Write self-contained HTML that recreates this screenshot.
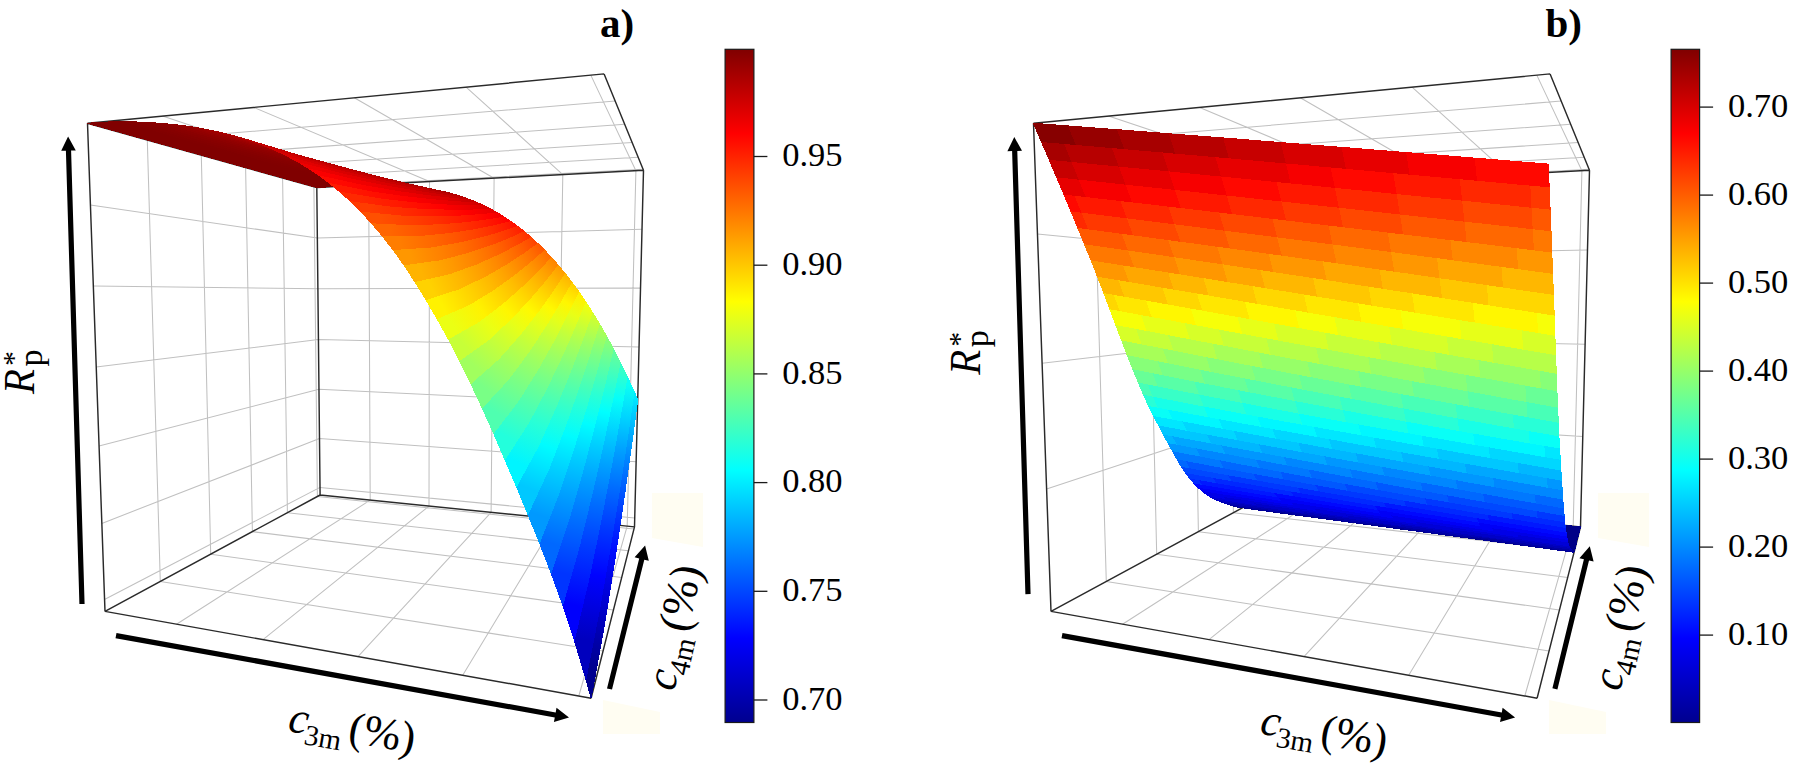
<!DOCTYPE html>
<html><head><meta charset="utf-8"><title>Figure</title>
<style>
html,body{margin:0;padding:0;background:#fff;}
svg{display:block;}
.k0{fill:#000087;stroke:#000087}.k1{fill:#000097;stroke:#000097}.k2{fill:#0000a7;stroke:#0000a7}.k3{fill:#0000b7;stroke:#0000b7}.k4{fill:#0000c7;stroke:#0000c7}.k5{fill:#0000d7;stroke:#0000d7}.k6{fill:#0000e7;stroke:#0000e7}.k7{fill:#0000f7;stroke:#0000f7}.k8{fill:#0008ff;stroke:#0008ff}.k9{fill:#0028ff;stroke:#0028ff}.k10{fill:#0018ff;stroke:#0018ff}.k11{fill:#0038ff;stroke:#0038ff}.k12{fill:#0048ff;stroke:#0048ff}.k13{fill:#0068ff;stroke:#0068ff}.k14{fill:#0058ff;stroke:#0058ff}.k15{fill:#0078ff;stroke:#0078ff}.k16{fill:#0097ff;stroke:#0097ff}.k17{fill:#00b7ff;stroke:#00b7ff}.k18{fill:#0087ff;stroke:#0087ff}.k19{fill:#00a7ff;stroke:#00a7ff}.k20{fill:#00c7ff;stroke:#00c7ff}.k21{fill:#00e7ff;stroke:#00e7ff}.k22{fill:#08fff7;stroke:#08fff7}.k23{fill:#00d7ff;stroke:#00d7ff}.k24{fill:#00f7ff;stroke:#00f7ff}.k25{fill:#28ffd7;stroke:#28ffd7}.k26{fill:#18ffe7;stroke:#18ffe7}.k27{fill:#48ffb7;stroke:#48ffb7}.k28{fill:#38ffc7;stroke:#38ffc7}.k29{fill:#68ff97;stroke:#68ff97}.k30{fill:#58ffa7;stroke:#58ffa7}.k31{fill:#87ff78;stroke:#87ff78}.k32{fill:#a7ff58;stroke:#a7ff58}.k33{fill:#78ff87;stroke:#78ff87}.k34{fill:#d7ff28;stroke:#d7ff28}.k35{fill:#97ff68;stroke:#97ff68}.k36{fill:#c7ff38;stroke:#c7ff38}.k37{fill:#f7ff08;stroke:#f7ff08}.k38{fill:#ffd700;stroke:#ffd700}.k39{fill:#b7ff48;stroke:#b7ff48}.k40{fill:#e7ff18;stroke:#e7ff18}.k41{fill:#ffe700;stroke:#ffe700}.k42{fill:#ffb700;stroke:#ffb700}.k43{fill:#fff700;stroke:#fff700}.k44{fill:#ffc700;stroke:#ffc700}.k45{fill:#ff9700;stroke:#ff9700}.k46{fill:#ff7800;stroke:#ff7800}.k47{fill:#ffa700;stroke:#ffa700}.k48{fill:#ff5800;stroke:#ff5800}.k49{fill:#ff8700;stroke:#ff8700}.k50{fill:#ff2800;stroke:#ff2800}.k51{fill:#ff3800;stroke:#ff3800}.k52{fill:#ff6800;stroke:#ff6800}.k53{fill:#ff0800;stroke:#ff0800}.k54{fill:#ff1800;stroke:#ff1800}.k55{fill:#e70000;stroke:#e70000}.k56{fill:#ff4800;stroke:#ff4800}.k57{fill:#f70000;stroke:#f70000}.k58{fill:#c70000;stroke:#c70000}.k59{fill:#d70000;stroke:#d70000}.k60{fill:#a70000;stroke:#a70000}.k61{fill:#b70000;stroke:#b70000}.k62{fill:#870000;stroke:#870000}.k63{fill:#970000;stroke:#970000}
.s{font-family:"Liberation Serif","Times New Roman",serif;fill:#000;}
</style></head><body>
<svg width="1801" height="769" viewBox="0 0 1801 769">
<rect width="1801" height="769" fill="#fff"/>
<path d="M652.0,493 h51 v54 l-51,-9 Z" fill="#fffdf2"/>
<path d="M603.0,700 l57,12 v22 h-57 Z" fill="#fffdf2"/>
<path d="M1598.0,493 h51 v54 l-51,-9 Z" fill="#fffdf2"/>
<path d="M1549.0,700 l57,12 v22 h-57 Z" fill="#fffdf2"/>
<g stroke-linecap="butt">
<path d="M176.5,624.2 L370.2,500.1 M160.3,581.5 L603.0,651.0 M263.0,639.6 L429.0,506.1 M210.7,554.2 L613.4,610.0 M358.0,656.6 L491.1,512.3 M252.4,531.7 L621.7,577.4 M462.7,675.3 L557.1,519.0 M287.4,512.7 L628.4,550.8 M578.8,696.0 L627.2,526.1 M317.4,496.5 L634.0,528.9 M162.5,116.1 L368.7,184.8 M147.3,140.1 L615.2,101.0 M253.7,107.4 L429.5,181.6 M201.3,155.2 L624.7,124.3 M354.3,97.8 L494.1,178.2 M245.6,167.6 L632.1,142.5 M466.1,87.1 L562.8,174.6 M282.6,177.9 L638.1,157.2 M590.8,75.1 L635.9,170.7 M313.9,186.7 L643.1,169.2 M160.3,581.5 L147.3,140.1 M210.7,554.2 L201.3,155.2 M252.4,531.7 L245.6,167.6 M287.4,512.7 L282.6,177.9 M317.4,496.5 L313.9,186.7 M90.4,205.1 L317.4,238.1 M93.3,286.1 L317.9,288.7 M96.2,367.0 L318.4,339.5 M99.0,445.9 L319.0,389.3 M101.8,523.4 L319.5,438.6 M104.5,599.5 L320.0,487.4 M370.2,500.1 L368.7,184.8 M429.0,506.1 L429.5,181.6 M491.1,512.3 L494.1,178.2 M557.1,519.0 L562.8,174.6 M627.2,526.1 L635.9,170.7 M317.4,238.1 L642.0,229.3 M317.9,288.7 L640.5,288.1 M318.4,339.5 L639.0,347.0 M319.0,389.3 L637.6,404.8 M319.5,438.6 L636.1,461.8 M320.0,487.4 L634.7,518.0" fill="none" stroke="#c0c0c0" stroke-width="1.05"/>
<path d="M105.0,611.4 L591.1,698.2 M591.1,698.2 L634.5,526.9 M634.5,526.9 L320.1,495.0 M320.1,495.0 L105.0,611.4 M87.5,123.3 L604.1,73.9 M604.1,73.9 L643.5,170.3 M643.5,170.3 L316.8,187.5 M316.8,187.5 L87.5,123.3 M105.0,611.4 L87.5,123.3 M320.1,495.0 L316.8,187.5 M634.5,526.9 L643.5,170.3" fill="none" stroke="#2a2a2a" stroke-width="1.45"/>
<path d="M1122.5,624.2 L1316.2,500.1 M1106.3,581.5 L1549.0,651.0 M1209.0,639.6 L1375.0,506.1 M1156.7,554.2 L1559.4,610.0 M1304.0,656.6 L1437.1,512.3 M1198.4,531.7 L1567.7,577.4 M1408.7,675.3 L1503.1,519.0 M1233.4,512.7 L1574.4,550.8 M1524.8,696.0 L1573.2,526.1 M1263.4,496.5 L1580.0,528.9 M1108.5,116.1 L1314.7,184.8 M1093.3,140.1 L1561.2,101.0 M1199.7,107.4 L1375.5,181.6 M1147.3,155.2 L1570.7,124.3 M1300.3,97.8 L1440.1,178.2 M1191.6,167.6 L1578.1,142.5 M1412.1,87.1 L1508.8,174.6 M1228.6,177.9 L1584.1,157.2 M1536.8,75.1 L1581.9,170.7 M1259.9,186.7 L1589.1,169.2 M1106.3,581.5 L1093.3,140.1 M1156.7,554.2 L1147.3,155.2 M1198.4,531.7 L1191.6,167.6 M1233.4,512.7 L1228.6,177.9 M1263.4,496.5 L1259.9,186.7 M1037.4,233.9 L1263.5,256.1 M1042.1,363.3 L1264.4,337.2 M1046.6,489.1 L1265.3,416.8 M1316.2,500.1 L1314.7,184.8 M1375.0,506.1 L1375.5,181.6 M1437.1,512.3 L1440.1,178.2 M1503.1,519.0 L1508.8,174.6 M1573.2,526.1 L1581.9,170.7 M1263.5,256.1 L1587.5,250.1 M1264.4,337.2 L1585.1,344.3 M1265.3,416.8 L1582.8,436.5" fill="none" stroke="#c0c0c0" stroke-width="1.05"/>
<path d="M1051.0,611.4 L1537.1,698.2 M1537.1,698.2 L1580.5,526.9 M1580.5,526.9 L1266.1,495.0 M1266.1,495.0 L1051.0,611.4 M1033.5,123.3 L1550.1,73.9 M1550.1,73.9 L1589.5,170.3 M1589.5,170.3 L1262.8,187.5 M1262.8,187.5 L1033.5,123.3 M1051.0,611.4 L1033.5,123.3 M1266.1,495.0 L1262.8,187.5 M1580.5,526.9 L1589.5,170.3" fill="none" stroke="#2a2a2a" stroke-width="1.45"/>
</g>
<g shape-rendering="crispEdges" stroke-width="1">
<defs>
<linearGradient id="s5" gradientUnits="userSpaceOnUse" x1="129.3" y1="121.8" x2="345.9" y2="186.0"><stop offset="0" stop-color="#820000"/><stop offset="0.094" stop-color="#820000"/><stop offset="0.351" stop-color="#810000"/><stop offset="0.52" stop-color="#800000"/><stop offset="0.665" stop-color="#800000"/><stop offset="0.791" stop-color="#800000"/><stop offset="0.902" stop-color="#800000"/><stop offset="1" stop-color="#800000"/></linearGradient>
<linearGradient id="s6" gradientUnits="userSpaceOnUse" x1="137.7" y1="122.0" x2="351.7" y2="185.8"><stop offset="0" stop-color="#840000"/><stop offset="0.0941" stop-color="#840000"/><stop offset="0.352" stop-color="#830000"/><stop offset="0.52" stop-color="#820000"/><stop offset="0.665" stop-color="#810000"/><stop offset="0.792" stop-color="#800000"/><stop offset="0.902" stop-color="#800000"/><stop offset="1" stop-color="#800000"/></linearGradient>
<linearGradient id="s7" gradientUnits="userSpaceOnUse" x1="146.3" y1="122.4" x2="357.5" y2="185.6"><stop offset="0" stop-color="#860000"/><stop offset="0.0943" stop-color="#860000"/><stop offset="0.352" stop-color="#850000"/><stop offset="0.521" stop-color="#830000"/><stop offset="0.666" stop-color="#820000"/><stop offset="0.792" stop-color="#810000"/><stop offset="0.902" stop-color="#800000"/><stop offset="1" stop-color="#800000"/></linearGradient>
<linearGradient id="s8" gradientUnits="userSpaceOnUse" x1="154.9" y1="122.9" x2="363.4" y2="185.4"><stop offset="0" stop-color="#890000"/><stop offset="0.0945" stop-color="#890000"/><stop offset="0.353" stop-color="#870000"/><stop offset="0.521" stop-color="#850000"/><stop offset="0.666" stop-color="#840000"/><stop offset="0.792" stop-color="#820000"/><stop offset="0.903" stop-color="#800000"/><stop offset="1" stop-color="#800000"/></linearGradient>
<linearGradient id="s9" gradientUnits="userSpaceOnUse" x1="163.6" y1="123.6" x2="369.3" y2="185.3"><stop offset="0" stop-color="#8b0000"/><stop offset="0.0947" stop-color="#8b0000"/><stop offset="0.353" stop-color="#890000"/><stop offset="0.522" stop-color="#870000"/><stop offset="0.667" stop-color="#850000"/><stop offset="0.793" stop-color="#830000"/><stop offset="0.903" stop-color="#820000"/><stop offset="1" stop-color="#800000"/></linearGradient>
<linearGradient id="s10" gradientUnits="userSpaceOnUse" x1="172.3" y1="124.4" x2="375.2" y2="185.2"><stop offset="0" stop-color="#8f0000"/><stop offset="0.0949" stop-color="#8f0000"/><stop offset="0.354" stop-color="#8c0000"/><stop offset="0.523" stop-color="#8a0000"/><stop offset="0.667" stop-color="#870000"/><stop offset="0.793" stop-color="#850000"/><stop offset="0.903" stop-color="#830000"/><stop offset="1" stop-color="#800000"/></linearGradient>
<linearGradient id="s11" gradientUnits="userSpaceOnUse" x1="181.2" y1="125.4" x2="381.2" y2="185.2"><stop offset="0" stop-color="#920000"/><stop offset="0.0952" stop-color="#920000"/><stop offset="0.354" stop-color="#8f0000"/><stop offset="0.523" stop-color="#8c0000"/><stop offset="0.668" stop-color="#890000"/><stop offset="0.793" stop-color="#870000"/><stop offset="0.903" stop-color="#840000"/><stop offset="1" stop-color="#820000"/></linearGradient>
<linearGradient id="s12" gradientUnits="userSpaceOnUse" x1="190.1" y1="126.7" x2="387.2" y2="185.3"><stop offset="0" stop-color="#960000"/><stop offset="0.0954" stop-color="#960000"/><stop offset="0.355" stop-color="#920000"/><stop offset="0.524" stop-color="#8f0000"/><stop offset="0.668" stop-color="#8c0000"/><stop offset="0.794" stop-color="#890000"/><stop offset="0.903" stop-color="#860000"/><stop offset="1" stop-color="#830000"/></linearGradient>
<linearGradient id="s13" gradientUnits="userSpaceOnUse" x1="199.2" y1="128.1" x2="393.2" y2="185.4"><stop offset="0" stop-color="#9a0000"/><stop offset="0.0956" stop-color="#9a0000"/><stop offset="0.355" stop-color="#960000"/><stop offset="0.524" stop-color="#920000"/><stop offset="0.669" stop-color="#8f0000"/><stop offset="0.794" stop-color="#8b0000"/><stop offset="0.904" stop-color="#880000"/><stop offset="1" stop-color="#850000"/></linearGradient>
<linearGradient id="s14" gradientUnits="userSpaceOnUse" x1="208.3" y1="129.7" x2="399.3" y2="185.7"><stop offset="0" stop-color="#9f0000"/><stop offset="0.0958" stop-color="#9f0000"/><stop offset="0.356" stop-color="#9a0000"/><stop offset="0.525" stop-color="#960000"/><stop offset="0.669" stop-color="#920000"/><stop offset="0.795" stop-color="#8e0000"/><stop offset="0.904" stop-color="#8a0000"/><stop offset="1" stop-color="#860000"/></linearGradient>
<linearGradient id="s15" gradientUnits="userSpaceOnUse" x1="217.5" y1="131.7" x2="405.4" y2="186.0"><stop offset="0" stop-color="#a40000"/><stop offset="0.0961" stop-color="#a40000"/><stop offset="0.357" stop-color="#9e0000"/><stop offset="0.526" stop-color="#9a0000"/><stop offset="0.67" stop-color="#960000"/><stop offset="0.795" stop-color="#910000"/><stop offset="0.904" stop-color="#8d0000"/><stop offset="1" stop-color="#890000"/></linearGradient>
<linearGradient id="s16" gradientUnits="userSpaceOnUse" x1="226.8" y1="133.9" x2="411.5" y2="186.5"><stop offset="0" stop-color="#a90000"/><stop offset="0.0963" stop-color="#a90000"/><stop offset="0.357" stop-color="#a30000"/><stop offset="0.526" stop-color="#9e0000"/><stop offset="0.671" stop-color="#9a0000"/><stop offset="0.795" stop-color="#950000"/><stop offset="0.904" stop-color="#900000"/><stop offset="1" stop-color="#8b0000"/></linearGradient>
<linearGradient id="s17" gradientUnits="userSpaceOnUse" x1="236.2" y1="136.4" x2="417.7" y2="187.2"><stop offset="0" stop-color="#af0000"/><stop offset="0.0965" stop-color="#af0000"/><stop offset="0.358" stop-color="#a80000"/><stop offset="0.527" stop-color="#a30000"/><stop offset="0.671" stop-color="#9e0000"/><stop offset="0.796" stop-color="#990000"/><stop offset="0.904" stop-color="#940000"/><stop offset="1" stop-color="#8e0000"/></linearGradient>
<linearGradient id="s18" gradientUnits="userSpaceOnUse" x1="245.7" y1="139.2" x2="423.9" y2="187.9"><stop offset="0" stop-color="#b60000"/><stop offset="0.0968" stop-color="#b60000"/><stop offset="0.358" stop-color="#ae0000"/><stop offset="0.527" stop-color="#a90000"/><stop offset="0.672" stop-color="#a30000"/><stop offset="0.796" stop-color="#9d0000"/><stop offset="0.905" stop-color="#980000"/><stop offset="1" stop-color="#920000"/></linearGradient>
<linearGradient id="s19" gradientUnits="userSpaceOnUse" x1="255.2" y1="142.4" x2="430.1" y2="188.9"><stop offset="0" stop-color="#bd0000"/><stop offset="0.097" stop-color="#bd0000"/><stop offset="0.359" stop-color="#b50000"/><stop offset="0.528" stop-color="#af0000"/><stop offset="0.672" stop-color="#a90000"/><stop offset="0.796" stop-color="#a20000"/><stop offset="0.905" stop-color="#9c0000"/><stop offset="1" stop-color="#960000"/></linearGradient>
<linearGradient id="s20" gradientUnits="userSpaceOnUse" x1="264.9" y1="146.1" x2="436.4" y2="190.0"><stop offset="0" stop-color="#c50000"/><stop offset="0.0972" stop-color="#c50000"/><stop offset="0.359" stop-color="#bc0000"/><stop offset="0.529" stop-color="#b60000"/><stop offset="0.673" stop-color="#af0000"/><stop offset="0.797" stop-color="#a80000"/><stop offset="0.905" stop-color="#a10000"/><stop offset="1" stop-color="#9b0000"/></linearGradient>
<linearGradient id="s21" gradientUnits="userSpaceOnUse" x1="274.7" y1="150.2" x2="442.7" y2="191.3"><stop offset="0" stop-color="#ce0000"/><stop offset="0.0974" stop-color="#ce0000"/><stop offset="0.36" stop-color="#c40000"/><stop offset="0.529" stop-color="#bd0000"/><stop offset="0.673" stop-color="#b60000"/><stop offset="0.797" stop-color="#ae0000"/><stop offset="0.905" stop-color="#a70000"/><stop offset="1" stop-color="#a00000"/></linearGradient>
<linearGradient id="s22" gradientUnits="userSpaceOnUse" x1="284.5" y1="154.9" x2="449.1" y2="192.9"><stop offset="0" stop-color="#d70000"/><stop offset="0.0976" stop-color="#d70000"/><stop offset="0.36" stop-color="#cd0000"/><stop offset="0.53" stop-color="#c50000"/><stop offset="0.674" stop-color="#bd0000"/><stop offset="0.798" stop-color="#b50000"/><stop offset="0.905" stop-color="#ad0000"/><stop offset="1" stop-color="#a60000"/></linearGradient>
<linearGradient id="s23" gradientUnits="userSpaceOnUse" x1="294.5" y1="160.1" x2="455.5" y2="194.7"><stop offset="0" stop-color="#e20000"/><stop offset="0.0978" stop-color="#e20000"/><stop offset="0.361" stop-color="#d70000"/><stop offset="0.53" stop-color="#ce0000"/><stop offset="0.674" stop-color="#c60000"/><stop offset="0.798" stop-color="#bd0000"/><stop offset="0.906" stop-color="#b50000"/><stop offset="1" stop-color="#ac0000"/></linearGradient>
<linearGradient id="s24" gradientUnits="userSpaceOnUse" x1="304.5" y1="165.9" x2="461.9" y2="196.7"><stop offset="0" stop-color="#ed0000"/><stop offset="0.098" stop-color="#ed0000"/><stop offset="0.361" stop-color="#e20000"/><stop offset="0.531" stop-color="#d80000"/><stop offset="0.674" stop-color="#cf0000"/><stop offset="0.798" stop-color="#c60000"/><stop offset="0.906" stop-color="#bd0000"/><stop offset="1" stop-color="#b30000"/></linearGradient>
<linearGradient id="s25" gradientUnits="userSpaceOnUse" x1="314.6" y1="172.5" x2="468.4" y2="199.0"><stop offset="0" stop-color="#fa0000"/><stop offset="0.0981" stop-color="#fa0000"/><stop offset="0.362" stop-color="#ee0000"/><stop offset="0.531" stop-color="#e30000"/><stop offset="0.675" stop-color="#d90000"/><stop offset="0.798" stop-color="#cf0000"/><stop offset="0.906" stop-color="#c50000"/><stop offset="1" stop-color="#bb0000"/></linearGradient>
<linearGradient id="s26" gradientUnits="userSpaceOnUse" x1="324.9" y1="179.8" x2="474.8" y2="201.5"><stop offset="0" stop-color="#ff0900"/><stop offset="0.0982" stop-color="#ff0900"/><stop offset="0.362" stop-color="#fa0000"/><stop offset="0.531" stop-color="#f00000"/><stop offset="0.675" stop-color="#e50000"/><stop offset="0.799" stop-color="#da0000"/><stop offset="0.906" stop-color="#cf0000"/><stop offset="1" stop-color="#c40000"/></linearGradient>
<linearGradient id="s27" gradientUnits="userSpaceOnUse" x1="335.2" y1="187.9" x2="481.4" y2="204.4"><stop offset="0" stop-color="#ff1900"/><stop offset="0.0981" stop-color="#ff1900"/><stop offset="0.362" stop-color="#ff0a00"/><stop offset="0.531" stop-color="#fd0000"/><stop offset="0.675" stop-color="#f10000"/><stop offset="0.799" stop-color="#e50000"/><stop offset="0.906" stop-color="#da0000"/><stop offset="1" stop-color="#ce0000"/></linearGradient>
<linearGradient id="s28" gradientUnits="userSpaceOnUse" x1="345.6" y1="196.9" x2="487.9" y2="207.6"><stop offset="0" stop-color="#ff2900"/><stop offset="0.098" stop-color="#ff2900"/><stop offset="0.361" stop-color="#ff1900"/><stop offset="0.531" stop-color="#ff0c00"/><stop offset="0.675" stop-color="#ff0000"/><stop offset="0.798" stop-color="#f20000"/><stop offset="0.906" stop-color="#e50000"/><stop offset="1" stop-color="#d80000"/></linearGradient>
<linearGradient id="s29" gradientUnits="userSpaceOnUse" x1="356.1" y1="206.8" x2="494.5" y2="211.1"><stop offset="0" stop-color="#ff3c00"/><stop offset="0.0976" stop-color="#ff3c00"/><stop offset="0.361" stop-color="#ff2a00"/><stop offset="0.53" stop-color="#ff1c00"/><stop offset="0.674" stop-color="#ff0f00"/><stop offset="0.798" stop-color="#ff0100"/><stop offset="0.906" stop-color="#f20000"/><stop offset="1" stop-color="#e40000"/></linearGradient>
<linearGradient id="s30" gradientUnits="userSpaceOnUse" x1="366.7" y1="217.8" x2="501.1" y2="215.0"><stop offset="0" stop-color="#ff5000"/><stop offset="0.0971" stop-color="#ff5000"/><stop offset="0.36" stop-color="#ff3d00"/><stop offset="0.529" stop-color="#ff2e00"/><stop offset="0.673" stop-color="#ff1f00"/><stop offset="0.797" stop-color="#ff1000"/><stop offset="0.905" stop-color="#ff0100"/><stop offset="1" stop-color="#f10000"/></linearGradient>
<linearGradient id="s31" gradientUnits="userSpaceOnUse" x1="377.4" y1="230.0" x2="507.8" y2="219.3"><stop offset="0" stop-color="#ff6600"/><stop offset="0.0962" stop-color="#ff6600"/><stop offset="0.358" stop-color="#ff5100"/><stop offset="0.527" stop-color="#ff4100"/><stop offset="0.671" stop-color="#ff3000"/><stop offset="0.796" stop-color="#ff2000"/><stop offset="0.904" stop-color="#ff1000"/><stop offset="1" stop-color="#ff0000"/></linearGradient>
<linearGradient id="s32" gradientUnits="userSpaceOnUse" x1="388.1" y1="243.3" x2="514.4" y2="223.9"><stop offset="0" stop-color="#ff7d00"/><stop offset="0.0949" stop-color="#ff7d00"/><stop offset="0.355" stop-color="#ff6700"/><stop offset="0.524" stop-color="#ff5500"/><stop offset="0.669" stop-color="#ff4400"/><stop offset="0.794" stop-color="#ff3200"/><stop offset="0.903" stop-color="#ff2000"/><stop offset="1" stop-color="#ff0f00"/></linearGradient>
<linearGradient id="s33" gradientUnits="userSpaceOnUse" x1="399.0" y1="258.0" x2="521.1" y2="229.0"><stop offset="0" stop-color="#ff9700"/><stop offset="0.0932" stop-color="#ff9700"/><stop offset="0.351" stop-color="#ff7f00"/><stop offset="0.52" stop-color="#ff6c00"/><stop offset="0.665" stop-color="#ff5800"/><stop offset="0.791" stop-color="#ff4500"/><stop offset="0.902" stop-color="#ff3200"/><stop offset="1" stop-color="#ff1f00"/></linearGradient>
<linearGradient id="s34" gradientUnits="userSpaceOnUse" x1="409.9" y1="274.0" x2="527.9" y2="234.5"><stop offset="0" stop-color="#ffb300"/><stop offset="0.091" stop-color="#ffb300"/><stop offset="0.346" stop-color="#ff9900"/><stop offset="0.515" stop-color="#ff8400"/><stop offset="0.661" stop-color="#ff6f00"/><stop offset="0.788" stop-color="#ff5a00"/><stop offset="0.9" stop-color="#ff4500"/><stop offset="1" stop-color="#ff3000"/></linearGradient>
<linearGradient id="s35" gradientUnits="userSpaceOnUse" x1="420.9" y1="291.3" x2="534.6" y2="240.5"><stop offset="0" stop-color="#ffd200"/><stop offset="0.0883" stop-color="#ffd200"/><stop offset="0.34" stop-color="#ffb500"/><stop offset="0.509" stop-color="#ff9e00"/><stop offset="0.656" stop-color="#ff8700"/><stop offset="0.784" stop-color="#ff7000"/><stop offset="0.898" stop-color="#ff5a00"/><stop offset="1" stop-color="#ff4300"/></linearGradient>
<linearGradient id="s36" gradientUnits="userSpaceOnUse" x1="432.0" y1="309.9" x2="541.4" y2="247.0"><stop offset="0" stop-color="#fff200"/><stop offset="0.0855" stop-color="#fff200"/><stop offset="0.334" stop-color="#ffd200"/><stop offset="0.503" stop-color="#ffba00"/><stop offset="0.65" stop-color="#ffa100"/><stop offset="0.78" stop-color="#ff8800"/><stop offset="0.896" stop-color="#ff7000"/><stop offset="1" stop-color="#ff5700"/></linearGradient>
<linearGradient id="s37" gradientUnits="userSpaceOnUse" x1="443.1" y1="329.5" x2="548.2" y2="254.0"><stop offset="0" stop-color="#ebff14"/><stop offset="0.0827" stop-color="#ebff14"/><stop offset="0.328" stop-color="#fff200"/><stop offset="0.496" stop-color="#ffd700"/><stop offset="0.644" stop-color="#ffbd00"/><stop offset="0.776" stop-color="#ffa200"/><stop offset="0.894" stop-color="#ff8700"/><stop offset="1" stop-color="#ff6d00"/></linearGradient>
<linearGradient id="s38" gradientUnits="userSpaceOnUse" x1="454.3" y1="350.4" x2="555.1" y2="261.5"><stop offset="0" stop-color="#c7ff38"/><stop offset="0.08" stop-color="#c7ff38"/><stop offset="0.322" stop-color="#ebff14"/><stop offset="0.49" stop-color="#fff600"/><stop offset="0.639" stop-color="#ffda00"/><stop offset="0.772" stop-color="#ffbd00"/><stop offset="0.892" stop-color="#ffa000"/><stop offset="1" stop-color="#ff8400"/></linearGradient>
<linearGradient id="s39" gradientUnits="userSpaceOnUse" x1="465.6" y1="372.8" x2="561.9" y2="269.6"><stop offset="0" stop-color="#a1ff5e"/><stop offset="0.0777" stop-color="#a1ff5e"/><stop offset="0.317" stop-color="#c8ff37"/><stop offset="0.485" stop-color="#e7ff18"/><stop offset="0.635" stop-color="#fff900"/><stop offset="0.769" stop-color="#ffda00"/><stop offset="0.89" stop-color="#ffbb00"/><stop offset="1" stop-color="#ff9c00"/></linearGradient>
<linearGradient id="s40" gradientUnits="userSpaceOnUse" x1="476.9" y1="396.5" x2="568.8" y2="278.2"><stop offset="0" stop-color="#79ff86"/><stop offset="0.0759" stop-color="#79ff86"/><stop offset="0.313" stop-color="#a2ff5d"/><stop offset="0.481" stop-color="#c3ff3c"/><stop offset="0.631" stop-color="#e4ff1b"/><stop offset="0.766" stop-color="#fff900"/><stop offset="0.889" stop-color="#ffd800"/><stop offset="1" stop-color="#ffb700"/></linearGradient>
<linearGradient id="s41" gradientUnits="userSpaceOnUse" x1="488.3" y1="421.4" x2="575.7" y2="287.4"><stop offset="0" stop-color="#4fffb0"/><stop offset="0.0746" stop-color="#4fffb0"/><stop offset="0.31" stop-color="#7bff84"/><stop offset="0.478" stop-color="#9eff61"/><stop offset="0.628" stop-color="#c2ff3d"/><stop offset="0.764" stop-color="#e5ff1a"/><stop offset="0.888" stop-color="#fff600"/><stop offset="1" stop-color="#ffd200"/></linearGradient>
<linearGradient id="s42" gradientUnits="userSpaceOnUse" x1="499.7" y1="447.3" x2="582.6" y2="297.3"><stop offset="0" stop-color="#23ffdc"/><stop offset="0.0738" stop-color="#23ffdc"/><stop offset="0.308" stop-color="#52ffad"/><stop offset="0.476" stop-color="#78ff87"/><stop offset="0.627" stop-color="#9eff61"/><stop offset="0.763" stop-color="#c3ff3c"/><stop offset="0.887" stop-color="#e9ff16"/><stop offset="1" stop-color="#fff000"/></linearGradient>
<linearGradient id="s43" gradientUnits="userSpaceOnUse" x1="511.1" y1="474.1" x2="589.6" y2="307.8"><stop offset="0" stop-color="#00f5ff"/><stop offset="0.0734" stop-color="#00f5ff"/><stop offset="0.308" stop-color="#28ffd7"/><stop offset="0.475" stop-color="#50ffaf"/><stop offset="0.626" stop-color="#78ff87"/><stop offset="0.763" stop-color="#a0ff5f"/><stop offset="0.887" stop-color="#c7ff38"/><stop offset="1" stop-color="#efff10"/></linearGradient>
<linearGradient id="s44" gradientUnits="userSpaceOnUse" x1="522.7" y1="501.5" x2="596.5" y2="318.9"><stop offset="0" stop-color="#00c8ff"/><stop offset="0.0733" stop-color="#00c8ff"/><stop offset="0.307" stop-color="#00fcff"/><stop offset="0.475" stop-color="#27ffd8"/><stop offset="0.626" stop-color="#51ffae"/><stop offset="0.763" stop-color="#7aff85"/><stop offset="0.887" stop-color="#a4ff5b"/><stop offset="1" stop-color="#ceff31"/></linearGradient>
<linearGradient id="s45" gradientUnits="userSpaceOnUse" x1="534.2" y1="529.7" x2="603.5" y2="330.8"><stop offset="0" stop-color="#0099ff"/><stop offset="0.0735" stop-color="#0099ff"/><stop offset="0.308" stop-color="#00d0ff"/><stop offset="0.475" stop-color="#00fcff"/><stop offset="0.626" stop-color="#28ffd7"/><stop offset="0.763" stop-color="#54ffab"/><stop offset="0.887" stop-color="#7fff80"/><stop offset="1" stop-color="#abff54"/></linearGradient>
<linearGradient id="s46" gradientUnits="userSpaceOnUse" x1="545.8" y1="559.0" x2="610.4" y2="343.4"><stop offset="0" stop-color="#0068ff"/><stop offset="0.0738" stop-color="#0068ff"/><stop offset="0.308" stop-color="#00a2ff"/><stop offset="0.476" stop-color="#00cfff"/><stop offset="0.627" stop-color="#00fdff"/><stop offset="0.763" stop-color="#2bffd4"/><stop offset="0.887" stop-color="#59ffa6"/><stop offset="1" stop-color="#86ff79"/></linearGradient>
<linearGradient id="s47" gradientUnits="userSpaceOnUse" x1="557.5" y1="590.2" x2="617.4" y2="356.7"><stop offset="0" stop-color="#0035ff"/><stop offset="0.0742" stop-color="#0035ff"/><stop offset="0.309" stop-color="#0071ff"/><stop offset="0.477" stop-color="#00a0ff"/><stop offset="0.628" stop-color="#00d0ff"/><stop offset="0.764" stop-color="#00ffff"/><stop offset="0.887" stop-color="#30ffcf"/><stop offset="1" stop-color="#5fffa0"/></linearGradient>
<linearGradient id="s48" gradientUnits="userSpaceOnUse" x1="569.1" y1="623.9" x2="624.4" y2="370.8"><stop offset="0" stop-color="#0000fc"/><stop offset="0.0746" stop-color="#0000fc"/><stop offset="0.31" stop-color="#003cff"/><stop offset="0.478" stop-color="#006eff"/><stop offset="0.628" stop-color="#00a0ff"/><stop offset="0.764" stop-color="#00d2ff"/><stop offset="0.888" stop-color="#05fffa"/><stop offset="1" stop-color="#36ffc9"/></linearGradient>
<linearGradient id="s49" gradientUnits="userSpaceOnUse" x1="580.7" y1="661.2" x2="631.4" y2="385.6"><stop offset="0" stop-color="#0000be"/><stop offset="0.075" stop-color="#0000be"/><stop offset="0.311" stop-color="#0002ff"/><stop offset="0.479" stop-color="#0037ff"/><stop offset="0.629" stop-color="#006cff"/><stop offset="0.765" stop-color="#00a0ff"/><stop offset="0.888" stop-color="#00d5ff"/><stop offset="1" stop-color="#0bfff4"/></linearGradient>
<linearGradient id="s50" gradientUnits="userSpaceOnUse" x1="588.8" y1="689.7" x2="636.3" y2="396.5"><stop offset="0" stop-color="#00008f"/><stop offset="0.0753" stop-color="#00008f"/><stop offset="0.312" stop-color="#0000d5"/><stop offset="0.479" stop-color="#000dff"/><stop offset="0.63" stop-color="#0044ff"/><stop offset="0.765" stop-color="#007cff"/><stop offset="0.888" stop-color="#00b3ff"/><stop offset="1" stop-color="#00eaff"/></linearGradient>
</defs>
<path fill="#800000" stroke="#800000" d="M92.3,122.9 L157.7,141.4 L210.3,156.2 L253.5,168.5 L289.6,178.7 L320.2,187.3 L316.8,187.5 L286.0,178.9 L249.6,168.7 L206.1,156.5 L153.2,141.7 L87.5,123.3z"/>
<path fill="#800000" stroke="#800000" d="M100.4,122.3 L165.2,140.9 L217.2,155.9 L259.9,168.1 L295.6,178.4 L325.8,187.0 L320.2,187.3 L289.6,178.7 L253.5,168.5 L210.3,156.2 L157.7,141.4 L92.3,122.9z"/>
<path fill="#800000" stroke="#800000" d="M108.5,122.0 L172.7,140.7 L224.2,155.6 L266.4,167.9 L301.6,178.1 L331.5,186.7 L325.8,187.0 L295.6,178.4 L259.9,168.1 L217.2,155.9 L165.2,140.9 L100.4,122.3z"/>
<path fill="#800000" stroke="#800000" d="M116.8,121.8 L180.3,140.5 L231.2,155.4 L272.9,167.7 L307.7,177.8 L337.2,186.4 L331.5,186.7 L301.6,178.1 L266.4,167.9 L224.2,155.6 L172.7,140.7 L108.5,122.0z"/>
<path fill="#800000" stroke="#800000" d="M125.1,121.8 L187.9,140.5 L238.3,155.4 L279.5,167.5 L313.9,177.6 L343.0,186.2 L337.2,186.4 L307.7,177.8 L272.9,167.7 L231.2,155.4 L180.3,140.5 L116.8,121.8z"/>
<path fill="url(#s5)" stroke="url(#s5)" d="M133.5,121.9 L195.7,140.6 L245.4,155.4 L286.1,167.5 L320.0,177.5 L348.8,185.9 L343.0,186.2 L313.9,177.6 L279.5,167.5 L238.3,155.4 L187.9,140.5 L125.1,121.8z"/>
<path fill="url(#s6)" stroke="url(#s6)" d="M142.0,122.2 L203.4,140.8 L252.6,155.5 L292.8,167.5 L326.3,177.4 L354.6,185.7 L348.8,185.9 L320.0,177.5 L286.1,167.5 L245.4,155.4 L195.7,140.6 L133.5,121.9z"/>
<path fill="url(#s7)" stroke="url(#s7)" d="M150.5,122.6 L211.3,141.1 L259.8,155.7 L299.5,167.5 L332.5,177.3 L360.4,185.5 L354.6,185.7 L326.3,177.4 L292.8,167.5 L252.6,155.5 L203.4,140.8 L142.0,122.2z"/>
<path fill="url(#s8)" stroke="url(#s8)" d="M159.2,123.2 L219.2,141.6 L267.1,156.0 L306.2,167.7 L338.8,177.3 L366.3,185.3 L360.4,185.5 L332.5,177.3 L299.5,167.5 L259.8,155.7 L211.3,141.1 L150.5,122.6z"/>
<path fill="url(#s9)" stroke="url(#s9)" d="M167.9,124.0 L227.2,142.2 L274.5,156.5 L313.1,167.9 L345.1,177.4 L372.2,185.2 L366.3,185.3 L338.8,177.3 L306.2,167.7 L267.1,156.0 L219.2,141.6 L159.2,123.2z"/>
<path fill="url(#s10)" stroke="url(#s10)" d="M176.7,124.9 L235.3,143.0 L281.9,157.0 L319.9,168.3 L351.5,177.5 L378.2,185.2 L372.2,185.2 L345.1,177.4 L313.1,167.9 L274.5,156.5 L227.2,142.2 L167.9,124.0z"/>
<path fill="url(#s11)" stroke="url(#s11)" d="M185.7,126.0 L243.4,143.9 L289.3,157.7 L326.8,168.7 L357.9,177.7 L384.2,185.2 L378.2,185.2 L351.5,177.5 L319.9,168.3 L281.9,157.0 L235.3,143.0 L176.7,124.9z"/>
<path fill="url(#s12)" stroke="url(#s12)" d="M194.6,127.3 L251.6,145.0 L296.9,158.5 L333.7,169.3 L364.4,178.1 L390.2,185.3 L384.2,185.2 L357.9,177.7 L326.8,168.7 L289.3,157.7 L243.4,143.9 L185.7,126.0z"/>
<path fill="url(#s13)" stroke="url(#s13)" d="M203.7,128.9 L259.9,146.3 L304.4,159.5 L340.7,170.0 L370.8,178.5 L396.2,185.5 L390.2,185.3 L364.4,178.1 L333.7,169.3 L296.9,158.5 L251.6,145.0 L194.6,127.3z"/>
<path fill="url(#s14)" stroke="url(#s14)" d="M212.9,130.7 L268.2,147.8 L312.1,160.7 L347.8,170.8 L377.4,179.1 L402.3,185.8 L396.2,185.5 L370.8,178.5 L340.7,170.0 L304.4,159.5 L259.9,146.3 L203.7,128.9z"/>
<path fill="url(#s15)" stroke="url(#s15)" d="M222.1,132.7 L276.6,149.5 L319.8,162.0 L354.9,171.9 L383.9,179.8 L408.4,186.3 L402.3,185.8 L377.4,179.1 L347.8,170.8 L312.1,160.7 L268.2,147.8 L212.9,130.7z"/>
<path fill="url(#s16)" stroke="url(#s16)" d="M231.5,135.1 L285.1,151.4 L327.5,163.6 L362.0,173.1 L390.6,180.6 L414.6,186.8 L408.4,186.3 L383.9,179.8 L354.9,171.9 L319.8,162.0 L276.6,149.5 L222.1,132.7z"/>
<path fill="url(#s17)" stroke="url(#s17)" d="M240.9,137.7 L293.6,153.7 L335.3,165.4 L369.2,174.4 L397.2,181.7 L420.8,187.5 L414.6,186.8 L390.6,180.6 L362.0,173.1 L327.5,163.6 L285.1,151.4 L231.5,135.1z"/>
<path fill="url(#s18)" stroke="url(#s18)" d="M250.4,140.8 L302.2,156.2 L343.2,167.4 L376.4,176.1 L403.9,182.9 L427.0,188.4 L420.8,187.5 L397.2,181.7 L369.2,174.4 L335.3,165.4 L293.6,153.7 L240.9,137.7z"/>
<path fill="url(#s19)" stroke="url(#s19)" d="M260.1,144.2 L310.9,159.1 L351.1,169.8 L383.7,177.9 L410.6,184.3 L433.3,189.4 L427.0,188.4 L403.9,182.9 L376.4,176.1 L343.2,167.4 L302.2,156.2 L250.4,140.8z"/>
<path fill="url(#s20)" stroke="url(#s20)" d="M269.8,148.1 L319.7,162.4 L359.1,172.5 L391.0,180.1 L417.4,186.0 L439.6,190.7 L433.3,189.4 L410.6,184.3 L383.7,177.9 L351.1,169.8 L310.9,159.1 L260.1,144.2z"/>
<path fill="url(#s21)" stroke="url(#s21)" d="M279.6,152.5 L328.5,166.0 L367.2,175.5 L398.4,182.5 L424.2,187.9 L445.9,192.1 L439.6,190.7 L417.4,186.0 L391.0,180.1 L359.1,172.5 L319.7,162.4 L269.8,148.1z"/>
<path fill="url(#s22)" stroke="url(#s22)" d="M289.5,157.4 L337.5,170.2 L375.3,178.9 L405.8,185.2 L431.1,190.0 L452.3,193.7 L445.9,192.1 L424.2,187.9 L398.4,182.5 L367.2,175.5 L328.5,166.0 L279.6,152.5z"/>
<path fill="url(#s23)" stroke="url(#s23)" d="M299.5,162.9 L346.4,174.8 L383.4,182.7 L413.3,188.3 L438.0,192.5 L458.7,195.6 L452.3,193.7 L431.1,190.0 L405.8,185.2 L375.3,178.9 L337.5,170.2 L289.5,157.4z"/>
<path fill="url(#s24)" stroke="url(#s24)" d="M309.6,169.1 L355.5,180.0 L391.6,187.0 L420.8,191.8 L444.9,195.3 L465.1,197.8 L458.7,195.6 L438.0,192.5 L413.3,188.3 L383.4,182.7 L346.4,174.8 L299.5,162.9z"/>
<path fill="url(#s25)" stroke="url(#s25)" d="M319.7,176.0 L364.6,185.8 L399.9,191.8 L428.4,195.7 L451.9,198.4 L471.6,200.2 L465.1,197.8 L444.9,195.3 L420.8,191.8 L391.6,187.0 L355.5,180.0 L309.6,169.1z"/>
<path fill="url(#s26)" stroke="url(#s26)" d="M330.0,183.7 L373.8,192.3 L408.3,197.1 L436.0,200.0 L458.9,201.9 L478.1,202.9 L471.6,200.2 L451.9,198.4 L428.4,195.7 L399.9,191.8 L364.6,185.8 L319.7,176.0z"/>
<path fill="url(#s27)" stroke="url(#s27)" d="M340.4,192.3 L383.1,199.4 L416.7,203.0 L443.7,204.9 L466.0,205.7 L484.6,206.0 L478.1,202.9 L458.9,201.9 L436.0,200.0 L408.3,197.1 L373.8,192.3 L330.0,183.7z"/>
<path fill="url(#s28)" stroke="url(#s28)" d="M350.8,201.7 L392.5,207.4 L425.1,209.5 L451.4,210.2 L473.1,210.0 L491.2,209.3 L484.6,206.0 L466.0,205.7 L443.7,204.9 L416.7,203.0 L383.1,199.4 L340.4,192.3z"/>
<path fill="url(#s29)" stroke="url(#s29)" d="M361.4,212.2 L401.9,216.1 L433.6,216.7 L459.2,216.1 L480.2,214.7 L497.8,213.0 L491.2,209.3 L473.1,210.0 L451.4,210.2 L425.1,209.5 L392.5,207.4 L350.8,201.7z"/>
<path fill="url(#s30)" stroke="url(#s30)" d="M372.0,223.8 L411.3,225.8 L442.2,224.7 L466.9,222.6 L487.3,219.9 L504.4,217.1 L497.8,213.0 L480.2,214.7 L459.2,216.1 L433.6,216.7 L401.9,216.1 L361.4,212.2z"/>
<path fill="url(#s31)" stroke="url(#s31)" d="M382.7,236.5 L420.9,236.4 L450.8,233.4 L474.8,229.7 L494.5,225.6 L511.1,221.5 L504.4,217.1 L487.3,219.9 L466.9,222.6 L442.2,224.7 L411.3,225.8 L372.0,223.8z"/>
<path fill="url(#s32)" stroke="url(#s32)" d="M393.6,250.5 L430.5,248.1 L459.4,243.0 L482.7,237.5 L501.8,231.9 L517.8,226.4 L511.1,221.5 L494.5,225.6 L474.8,229.7 L450.8,233.4 L420.9,236.4 L382.7,236.5z"/>
<path fill="url(#s33)" stroke="url(#s33)" d="M404.4,265.8 L440.2,260.8 L468.1,253.5 L490.6,246.0 L509.0,238.7 L524.5,231.7 L517.8,226.4 L501.8,231.9 L482.7,237.5 L459.4,243.0 L430.5,248.1 L393.6,250.5z"/>
<path fill="url(#s34)" stroke="url(#s34)" d="M415.4,282.5 L449.9,274.7 L476.9,264.9 L498.5,255.2 L516.3,246.1 L531.3,237.5 L524.5,231.7 L509.0,238.7 L490.6,246.0 L468.1,253.5 L440.2,260.8 L404.4,265.8z"/>
<path fill="url(#s35)" stroke="url(#s35)" d="M426.4,300.5 L459.7,289.7 L485.6,277.2 L506.5,265.2 L523.7,254.0 L538.0,243.7 L531.3,237.5 L516.3,246.1 L498.5,255.2 L476.9,264.9 L449.9,274.7 L415.4,282.5z"/>
<path fill="url(#s36)" stroke="url(#s36)" d="M437.5,319.5 L469.5,305.6 L494.5,290.3 L514.5,275.8 L531.0,262.6 L544.8,250.4 L538.0,243.7 L523.7,254.0 L506.5,265.2 L485.6,277.2 L459.7,289.7 L426.4,300.5z"/>
<path fill="url(#s37)" stroke="url(#s37)" d="M448.7,339.8 L479.4,322.5 L503.3,304.2 L522.6,287.2 L538.4,271.8 L551.7,257.7 L544.8,250.4 L531.0,262.6 L514.5,275.8 L494.5,290.3 L469.5,305.6 L437.5,319.5z"/>
<path fill="url(#s38)" stroke="url(#s38)" d="M459.9,361.4 L489.3,340.5 L512.2,319.0 L530.7,299.4 L545.8,281.6 L558.5,265.5 L551.7,257.7 L538.4,271.8 L522.6,287.2 L503.3,304.2 L479.4,322.5 L448.7,339.8z"/>
<path fill="url(#s39)" stroke="url(#s39)" d="M471.2,384.5 L499.3,359.7 L521.2,334.9 L538.8,312.4 L553.3,292.1 L565.4,273.8 L558.5,265.5 L545.8,281.6 L530.7,299.4 L512.2,319.0 L489.3,340.5 L459.9,361.4z"/>
<path fill="url(#s40)" stroke="url(#s40)" d="M482.6,408.8 L509.3,380.0 L530.1,351.7 L546.9,326.2 L560.7,303.3 L572.3,282.7 L565.4,273.8 L553.3,292.1 L538.8,312.4 L521.2,334.9 L499.3,359.7 L471.2,384.5z"/>
<path fill="url(#s41)" stroke="url(#s41)" d="M494.0,434.3 L519.3,401.3 L539.1,369.3 L555.1,340.7 L568.2,315.1 L579.2,292.3 L572.3,282.7 L560.7,303.3 L546.9,326.2 L530.1,351.7 L509.3,380.0 L482.6,408.8z"/>
<path fill="url(#s42)" stroke="url(#s42)" d="M505.4,460.6 L529.4,423.4 L548.2,387.7 L563.3,355.9 L575.7,327.7 L586.1,302.5 L579.2,292.3 L568.2,315.1 L555.1,340.7 L539.1,369.3 L519.3,401.3 L494.0,434.3z"/>
<path fill="url(#s43)" stroke="url(#s43)" d="M516.9,487.7 L539.5,446.1 L557.2,406.7 L571.5,371.8 L583.2,340.8 L593.0,313.3 L586.1,302.5 L575.7,327.7 L563.3,355.9 L548.2,387.7 L529.4,423.4 L505.4,460.6z"/>
<path fill="url(#s44)" stroke="url(#s44)" d="M528.4,515.5 L549.7,469.5 L566.3,426.4 L579.7,388.3 L590.7,354.7 L600.0,324.8 L593.0,313.3 L583.2,340.8 L571.5,371.8 L557.2,406.7 L539.5,446.1 L516.9,487.7z"/>
<path fill="url(#s45)" stroke="url(#s45)" d="M540.0,544.2 L559.9,493.7 L575.4,446.8 L588.0,405.6 L598.3,369.2 L607.0,337.0 L600.0,324.8 L590.7,354.7 L579.7,388.3 L566.3,426.4 L549.7,469.5 L528.4,515.5z"/>
<path fill="url(#s46)" stroke="url(#s46)" d="M551.6,574.3 L570.1,519.2 L584.5,468.3 L596.2,423.8 L605.9,384.6 L613.9,349.9 L607.0,337.0 L598.3,369.2 L588.0,405.6 L575.4,446.8 L559.9,493.7 L540.0,544.2z"/>
<path fill="url(#s47)" stroke="url(#s47)" d="M563.3,606.7 L580.3,546.5 L593.7,491.4 L604.5,443.2 L613.4,400.9 L620.9,363.6 L613.9,349.9 L605.9,384.6 L596.2,423.8 L584.5,468.3 L570.1,519.2 L551.6,574.3z"/>
<path fill="url(#s48)" stroke="url(#s48)" d="M574.9,642.1 L590.5,576.3 L602.8,516.4 L612.8,464.1 L621.0,418.4 L627.9,378.1 L620.9,363.6 L613.4,400.9 L604.5,443.2 L593.7,491.4 L580.3,546.5 L563.3,606.7z"/>
<path fill="url(#s49)" stroke="url(#s49)" d="M586.5,681.3 L600.6,609.2 L611.9,543.8 L621.0,486.9 L628.5,437.2 L634.9,393.3 L627.9,378.1 L621.0,418.4 L612.8,464.1 L602.8,516.4 L590.5,576.3 L574.9,642.1z"/>
<path fill="url(#s50)" stroke="url(#s50)" d="M591.1,698.2 L604.7,623.3 L615.5,555.5 L624.3,496.5 L631.6,445.0 L637.7,399.7 L634.9,393.3 L628.5,437.2 L621.0,486.9 L611.9,543.8 L600.6,609.2 L586.5,681.3z"/>
</g><g shape-rendering="crispEdges" stroke-width="1">
<path class="k0" d="M1263.4,496.5l7.8,0.8l2.7,-1.5l-7.8,-0.8z"/>
<path class="k0" d="M1271.2,497.3l7.9,0.8l2.7,-1.5l-7.9,-0.8z"/>
<path class="k0" d="M1260.6,498.0l7.9,0.8l2.7,-1.5l-7.8,-0.8z"/>
<path class="k0" d="M1279.1,498.1l8,0.8l2.6,-1.5l-7.9,-0.8z"/>
<path class="k0" d="M1268.5,498.8l7.9,0.9l2.7,-1.6l-7.9,-0.8z"/>
<path class="k0" d="M1287.1,498.9l8,0.9l2.5,-1.6l-7.9,-0.8z"/>
<path class="k0" d="M1257.7,499.6l8,0.8l2.8,-1.6l-7.9,-0.8z"/>
<path class="k0" d="M1276.4,499.7l8,0.8l2.7,-1.6l-8,-0.8z"/>
<path class="k0" d="M1295.1,499.8l8.1,0.8l2.5,-1.6l-8.1,-0.8z"/>
<path class="k0" d="M1265.7,500.4l8,0.8l2.7,-1.5l-7.9,-0.9z"/>
<path class="k0" d="M1284.4,500.5l8.1,0.8l2.6,-1.5l-8,-0.9z"/>
<path class="k0" d="M1303.2,500.6l8.1,0.8l2.5,-1.5l-8.1,-0.9z"/>
<path class="k0" d="M1254.9,501.1l7.9,0.9l2.9,-1.6l-8,-0.8z"/>
<path class="k0" d="M1273.7,501.2l8,0.9l2.7,-1.6l-8,-0.8z"/>
<path class="k0" d="M1292.5,501.3l8.1,0.9l2.6,-1.6l-8.1,-0.8z"/>
<path class="k0" d="M1311.3,501.4l8.3,0.9l2.4,-1.6l-8.2,-0.8z"/>
<path class="k0" d="M1262.8,502.0l8.1,0.8l2.8,-1.6l-8,-0.8z"/>
<path class="k0" d="M1281.7,502.1l8.2,0.8l2.6,-1.6l-8.1,-0.8z"/>
<path class="k0" d="M1300.6,502.2l8.2,0.8l2.5,-1.6l-8.1,-0.8z"/>
<path class="k0" d="M1319.6,502.3l8.2,0.8l2.4,-1.6l-8.2,-0.8z"/>
<path class="k0" d="M1251.9,502.7l8.1,0.8l2.8,-1.5l-7.9,-0.9z"/>
<path class="k0" d="M1270.9,502.8l8.1,0.8l2.7,-1.5l-8,-0.9z"/>
<path class="k0" d="M1289.9,502.9l8.1,0.9l2.6,-1.6l-8.1,-0.9z"/>
<path class="k0" d="M1308.8,503.0l8.3,0.9l2.5,-1.6l-8.3,-0.9z"/>
<path class="k0" d="M1327.8,503.1l8.4,0.9l2.3,-1.6l-8.3,-0.9z"/>
<path class="k0" d="M1260.0,503.5l8.1,0.9l2.8,-1.6l-8.1,-0.8z"/>
<path class="k0" d="M1279.0,503.6l8.2,0.9l2.7,-1.6l-8.2,-0.8z"/>
<path class="k0" d="M1298.0,503.8l8.3,0.8l2.5,-1.6l-8.2,-0.8z"/>
<path class="k0" d="M1317.1,503.9l8.4,0.8l2.3,-1.6l-8.2,-0.8z"/>
<path class="k0" d="M1336.2,504.0l8.4,0.8l2.3,-1.6l-8.4,-0.8z"/>
<path class="k0" d="M1249.0,504.3l8.1,0.9l2.9,-1.7l-8.1,-0.8z"/>
<path class="k0" d="M1268.1,504.4l8.1,0.9l2.8,-1.7l-8.1,-0.8z"/>
<path class="k0" d="M1287.2,504.5l8.2,0.9l2.6,-1.6l-8.1,-0.9z"/>
<path class="k0" d="M1306.3,504.6l8.3,0.9l2.5,-1.6l-8.3,-0.9z"/>
<path class="k0" d="M1325.5,504.7l8.4,0.9l2.3,-1.6l-8.4,-0.9z"/>
<path class="k0" d="M1344.6,504.8l8.5,0.9l2.2,-1.6l-8.4,-0.9z"/>
<path class="k0" d="M1257.1,505.2l8.1,0.8l2.9,-1.6l-8.1,-0.9z"/>
<path class="k0" d="M1276.2,505.3l8.3,0.8l2.7,-1.6l-8.2,-0.9z"/>
<path class="k0" d="M1295.4,505.4l8.3,0.8l2.6,-1.6l-8.3,-0.8z"/>
<path class="k0" d="M1314.6,505.5l8.4,0.8l2.5,-1.6l-8.4,-0.8z"/>
<path class="k0" d="M1333.9,505.6l8.4,0.9l2.3,-1.7l-8.4,-0.8z"/>
<path class="k0" d="M1353.1,505.7l8.6,0.9l2.1,-1.7l-8.5,-0.8z"/>
<path class="k0" d="M1246.0,505.9l8.1,0.9l3,-1.6l-8.1,-0.9z"/>
<path class="k0" d="M1265.2,506.0l8.2,0.9l2.8,-1.6l-8.1,-0.9z"/>
<path class="k0" d="M1284.5,506.1l8.3,0.9l2.6,-1.6l-8.2,-0.9z"/>
<path class="k0" d="M1303.7,506.2l8.4,0.9l2.5,-1.6l-8.3,-0.9z"/>
<path class="k0" d="M1323.0,506.3l8.5,0.9l2.4,-1.6l-8.4,-0.9z"/>
<path class="k0" d="M1342.3,506.5l8.6,0.8l2.2,-1.6l-8.5,-0.9z"/>
<path class="k0" d="M1361.7,506.6l8.6,0.8l2.1,-1.6l-8.6,-0.9z"/>
<path class="k0" d="M1254.1,506.8l8.2,0.9l2.9,-1.7l-8.1,-0.8z"/>
<path class="k0" d="M1273.4,506.9l8.3,0.9l2.8,-1.7l-8.3,-0.8z"/>
<path class="k0" d="M1292.8,507.0l8.3,0.9l2.6,-1.7l-8.3,-0.8z"/>
<path class="k0" d="M1312.1,507.1l8.5,0.9l2.4,-1.7l-8.4,-0.8z"/>
<path class="k0" d="M1331.5,507.2l8.5,0.9l2.3,-1.6l-8.4,-0.9z"/>
<path class="k0" d="M1350.9,507.3l8.6,0.9l2.2,-1.6l-8.6,-0.9z"/>
<path class="k0" d="M1370.3,507.4l8.7,0.9l2,-1.6l-8.6,-0.9z"/>
<path class="k0" d="M1242.9,507.2l8.2,1l3,-1.4l-8.1,-0.9z"/>
<path class="k0" d="M1262.3,507.7l8.3,0.9l2.8,-1.7l-8.2,-0.9z"/>
<path class="k0" d="M1281.7,507.8l8.3,0.9l2.8,-1.7l-8.3,-0.9z"/>
<path class="k0" d="M1301.1,507.9l8.5,0.9l2.5,-1.7l-8.4,-0.9z"/>
<path class="k0" d="M1320.6,508.0l8.5,0.9l2.4,-1.7l-8.5,-0.9z"/>
<path class="k0" d="M1340.0,508.1l8.6,0.9l2.3,-1.7l-8.6,-0.8z"/>
<path class="k0" d="M1359.5,508.2l8.7,0.9l2.1,-1.7l-8.6,-0.8z"/>
<path class="k0" d="M1379.0,508.3l8.8,0.9l1.9,-1.7l-8.7,-0.8z"/>
<path class="k0" d="M1251.1,508.2l8.2,0.9l3,-1.4l-8.2,-0.9z"/>
<path class="k0" d="M1270.6,508.6l8.3,0.9l2.8,-1.7l-8.3,-0.9z"/>
<path class="k0" d="M1290.0,508.7l8.5,0.9l2.6,-1.7l-8.3,-0.9z"/>
<path class="k0" d="M1309.6,508.8l8.5,0.9l2.5,-1.7l-8.5,-0.9z"/>
<path class="k0" d="M1329.1,508.9l8.6,0.9l2.3,-1.7l-8.5,-0.9z"/>
<path class="k0" d="M1348.6,509.0l8.7,0.9l2.2,-1.7l-8.6,-0.9z"/>
<path class="k0" d="M1368.2,509.1l8.8,0.9l2,-1.7l-8.7,-0.9z"/>
<path class="k0" d="M1387.8,509.2l8.8,0.9l1.9,-1.7l-8.8,-0.9z"/>
<path class="k0" d="M1239.8,507.5l8.2,1.1l3.1,-0.4l-8.2,-1z"/>
<path class="k0" d="M1259.3,509.1l8.4,1l2.9,-1.5l-8.3,-0.9z"/>
<path class="k0" d="M1278.9,509.5l8.4,0.9l2.7,-1.7l-8.3,-0.9z"/>
<path class="k0" d="M1298.5,509.6l8.5,0.9l2.6,-1.7l-8.5,-0.9z"/>
<path class="k0" d="M1318.1,509.7l8.5,0.9l2.5,-1.7l-8.5,-0.9z"/>
<path class="k0" d="M1337.7,509.8l8.6,0.9l2.3,-1.7l-8.6,-0.9z"/>
<path class="k0" d="M1357.3,509.9l8.8,0.9l2.1,-1.7l-8.7,-0.9z"/>
<path class="k0" d="M1377.0,510.0l8.8,0.9l2,-1.7l-8.8,-0.9z"/>
<path class="k0" d="M1396.6,510.1l8.9,0.9l1.9,-1.7l-8.9,-0.9z"/>
<path class="k0" d="M1248.0,508.6l8.3,1l3,-0.5l-8.2,-0.9z"/>
<path class="k0" d="M1267.7,510.1l8.3,1l2.9,-1.6l-8.3,-0.9z"/>
<path class="k0" d="M1287.3,510.4l8.5,0.9l2.7,-1.7l-8.5,-0.9z"/>
<path class="k0" d="M1307.0,510.5l8.5,0.9l2.6,-1.7l-8.5,-0.9z"/>
<path class="k0" d="M1326.6,510.6l8.7,0.9l2.4,-1.7l-8.6,-0.9z"/>
<path class="k0" d="M1346.3,510.7l8.8,0.9l2.2,-1.7l-8.7,-0.9z"/>
<path class="k0" d="M1366.1,510.8l8.8,0.9l2.1,-1.7l-8.8,-0.9z"/>
<path class="k0" d="M1385.8,510.9l8.9,0.9l1.9,-1.7l-8.8,-0.9z"/>
<path class="k0" d="M1405.5,511.0l9,1l1.8,-1.8l-8.9,-0.9z"/>
<path class="k0" d="M1236.6,507.0l8.3,1.2l3.1,0.4l-8.2,-1.1z"/>
<path class="k0" d="M1256.3,509.6l8.4,1.1l3,-0.6l-8.4,-1z"/>
<path class="k0" d="M1276.0,511.1l8.5,0.9l2.8,-1.6l-8.4,-0.9z"/>
<path class="k0" d="M1295.8,511.3l8.5,0.9l2.7,-1.7l-8.5,-0.9z"/>
<path class="k0" d="M1315.5,511.4l8.7,0.9l2.4,-1.7l-8.5,-0.9z"/>
<path class="k0" d="M1335.3,511.5l8.7,0.9l2.3,-1.7l-8.6,-0.9z"/>
<path class="k0" d="M1355.1,511.6l8.8,1l2.2,-1.8l-8.8,-0.9z"/>
<path class="k0" d="M1374.9,511.7l8.9,1l2,-1.8l-8.8,-0.9z"/>
<path class="k0" d="M1394.7,511.8l9,1l1.8,-1.8l-8.9,-0.9z"/>
<path class="k0" d="M1414.5,512.0l9.1,0.9l1.7,-1.7l-9,-1z"/>
<path class="k0" d="M1244.9,508.2l8.3,1.1l3.1,0.3l-8.3,-1z"/>
<path class="k0" d="M1264.7,510.7l8.4,1.1l2.9,-0.7l-8.3,-1z"/>
<path class="k0" d="M1284.5,512.0l8.5,1l2.8,-1.7l-8.5,-0.9z"/>
<path class="k0" d="M1304.3,512.2l8.6,0.9l2.6,-1.7l-8.5,-0.9z"/>
<path class="k0" d="M1324.2,512.3l8.7,1l2.4,-1.8l-8.7,-0.9z"/>
<path class="k0" d="M1344.0,512.4l8.8,1l2.3,-1.8l-8.8,-0.9z"/>
<path class="k0" d="M1363.9,512.6l8.9,0.9l2.1,-1.8l-8.8,-0.9z"/>
<path class="k0" d="M1383.8,512.7l8.9,0.9l2,-1.8l-8.9,-0.9z"/>
<path class="k0" d="M1403.7,512.8l9,0.9l1.8,-1.7l-9,-1z"/>
<path class="k1" d="M1233.4,506.1l8.3,1.2l3.2,0.9l-8.3,-1.2z"/>
<path class="k0" d="M1423.6,512.9l9.2,0.9l1.6,-1.7l-9.1,-0.9z"/>
<path class="k0" d="M1253.2,509.3l8.5,1.2l3,0.2l-8.4,-1.1z"/>
<path class="k0" d="M1273.1,511.8l8.6,1l2.8,-0.8l-8.5,-0.9z"/>
<path class="k0" d="M1293.0,513.0l8.6,1l2.7,-1.8l-8.5,-0.9z"/>
<path class="k0" d="M1312.9,513.1l8.7,1l2.6,-1.8l-8.7,-0.9z"/>
<path class="k0" d="M1332.9,513.3l8.7,0.9l2.4,-1.8l-8.7,-0.9z"/>
<path class="k0" d="M1352.8,513.4l8.9,0.9l2.2,-1.7l-8.8,-1z"/>
<path class="k0" d="M1372.8,513.5l8.9,0.9l2.1,-1.7l-8.9,-1z"/>
<path class="k0" d="M1392.7,513.6l9.1,0.9l1.9,-1.7l-9,-1z"/>
<path class="k0" d="M1412.7,513.7l9.2,0.9l1.7,-1.7l-9.1,-0.9z"/>
<path class="k1" d="M1241.7,507.3l8.4,1.1l3.1,0.9l-8.3,-1.1z"/>
<path class="k0" d="M1432.8,513.8l9.2,1l1.6,-1.8l-9.2,-0.9z"/>
<path class="k0" d="M1261.7,510.5l8.5,1.1l2.9,0.2l-8.4,-1.1z"/>
<path class="k0" d="M1281.7,512.8l8.5,1.1l2.8,-0.9l-8.5,-1z"/>
<path class="k0" d="M1301.6,514.0l8.7,0.9l2.6,-1.8l-8.6,-0.9z"/>
<path class="k0" d="M1321.6,514.1l8.8,0.9l2.5,-1.7l-8.7,-1z"/>
<path class="k0" d="M1341.6,514.2l8.9,0.9l2.3,-1.7l-8.8,-1z"/>
<path class="k0" d="M1361.7,514.3l8.9,1l2.2,-1.8l-8.9,-0.9z"/>
<path class="k0" d="M1381.7,514.4l9.1,1l1.9,-1.8l-8.9,-0.9z"/>
<path class="k0" d="M1401.8,514.5l9.1,1l1.8,-1.8l-9,-0.9z"/>
<path class="k0" d="M1421.9,514.6l9.2,1l1.7,-1.8l-9.2,-0.9z"/>
<path class="k1" d="M1230.1,504.9l8.4,1.2l3.2,1.2l-8.3,-1.2z"/>
<path class="k1" d="M1250.1,508.4l8.5,1.2l3.1,0.9l-8.5,-1.2z"/>
<path class="k0" d="M1442.0,514.8l9.3,0.9l1.5,-1.8l-9.2,-0.9z"/>
<path class="k0" d="M1270.2,511.6l8.6,1.2l2.9,0l-8.6,-1z"/>
<path class="k0" d="M1290.2,513.9l8.7,1.1l2.7,-1l-8.6,-1z"/>
<path class="k0" d="M1310.3,514.9l8.8,1l2.5,-1.8l-8.7,-1z"/>
<path class="k0" d="M1330.4,515.0l8.8,1l2.4,-1.8l-8.7,-0.9z"/>
<path class="k0" d="M1350.5,515.1l8.9,1l2.3,-1.8l-8.9,-0.9z"/>
<path class="k0" d="M1370.6,515.3l9,0.9l2.1,-1.8l-8.9,-0.9z"/>
<path class="k0" d="M1390.8,515.4l9.1,0.9l1.9,-1.8l-9.1,-0.9z"/>
<path class="k0" d="M1410.9,515.5l9.2,0.9l1.8,-1.8l-9.2,-0.9z"/>
<path class="k0" d="M1431.1,515.6l9.3,1l1.6,-1.8l-9.2,-1z"/>
<path class="k1" d="M1238.5,506.1l8.4,1.2l3.2,1.1l-8.4,-1.1z"/>
<path class="k1" d="M1258.6,509.6l8.6,1.2l3,0.8l-8.5,-1.1z"/>
<path class="k0" d="M1451.3,515.7l9.4,1l1.4,-1.8l-9.3,-1z"/>
<path class="k0" d="M1278.8,512.8l8.6,1.1l2.8,0l-8.5,-1.1z"/>
<path class="k0" d="M1298.9,515.0l8.7,1.1l2.7,-1.2l-8.7,-0.9z"/>
<path class="k0" d="M1319.1,515.9l8.8,0.9l2.5,-1.8l-8.8,-0.9z"/>
<path class="k0" d="M1339.2,516.0l9,0.9l2.3,-1.8l-8.9,-0.9z"/>
<path class="k0" d="M1359.4,516.1l9,1l2.2,-1.8l-8.9,-1z"/>
<path class="k0" d="M1379.6,516.2l9.1,1l2.1,-1.8l-9.1,-1z"/>
<path class="k0" d="M1399.9,516.3l9.2,1l1.8,-1.8l-9.1,-1z"/>
<path class="k0" d="M1420.1,516.4l9.3,1l1.7,-1.8l-9.2,-1z"/>
<path class="k0" d="M1440.4,516.6l9.4,0.9l1.5,-1.8l-9.3,-0.9z"/>
<path class="k2" d="M1226.7,503.8l8.5,1.2l3.3,1.1l-8.4,-1.2z"/>
<path class="k1" d="M1246.9,507.3l8.6,1.2l3.1,1.1l-8.5,-1.2z"/>
<path class="k0" d="M1267.2,510.8l8.6,1.2l3,0.8l-8.6,-1.2z"/>
<path class="k0" d="M1460.7,516.7l9.5,0.9l1.3,-1.8l-9.4,-0.9z"/>
<path class="k0" d="M1287.4,513.9l8.7,1.2l2.8,-0.1l-8.7,-1.1z"/>
<path class="k0" d="M1307.6,516.1l8.9,1l2.6,-1.2l-8.8,-1z"/>
<path class="k0" d="M1327.9,516.8l8.9,1l2.4,-1.8l-8.8,-1z"/>
<path class="k0" d="M1348.2,516.9l9,1l2.2,-1.8l-8.9,-1z"/>
<path class="k0" d="M1368.4,517.1l9.1,0.9l2.1,-1.8l-9,-0.9z"/>
<path class="k0" d="M1388.7,517.2l9.2,0.9l2,-1.8l-9.1,-0.9z"/>
<path class="k0" d="M1409.1,517.3l9.2,1l1.8,-1.9l-9.2,-0.9z"/>
<path class="k0" d="M1429.4,517.4l9.4,1l1.6,-1.8l-9.3,-1z"/>
<path class="k0" d="M1449.8,517.5l9.4,1l1.5,-1.8l-9.4,-1z"/>
<path class="k2" d="M1235.2,505.0l8.5,1.2l3.2,1.1l-8.4,-1.2z"/>
<path class="k1" d="M1255.5,508.5l8.6,1.2l3.1,1.1l-8.6,-1.2z"/>
<path class="k0" d="M1275.8,512.0l8.7,1.2l2.9,0.7l-8.6,-1.1z"/>
<path class="k0" d="M1296.1,515.1l8.8,1.1l2.7,-0.1l-8.7,-1.1z"/>
<path class="k0" d="M1470.2,517.6l9.5,1l1.3,-1.8l-9.5,-1z"/>
<path class="k0" d="M1316.5,517.1l8.8,1.1l2.6,-1.4l-8.8,-0.9z"/>
<path class="k0" d="M1336.8,517.8l9,1l2.4,-1.9l-9,-0.9z"/>
<path class="k0" d="M1357.2,517.9l9,1l2.2,-1.8l-9,-1z"/>
<path class="k0" d="M1377.5,518.0l9.2,1l2,-1.8l-9.1,-1z"/>
<path class="k0" d="M1397.9,518.1l9.3,1l1.9,-1.8l-9.2,-1z"/>
<path class="k0" d="M1418.3,518.3l9.4,0.9l1.7,-1.8l-9.3,-1z"/>
<path class="k0" d="M1438.8,518.4l9.4,1l1.6,-1.9l-9.4,-0.9z"/>
<path class="k2" d="M1223.3,502.8l8.5,1.2l3.4,1l-8.5,-1.2z"/>
<path class="k2" d="M1243.7,506.2l8.6,1.2l3.2,1.1l-8.6,-1.2z"/>
<path class="k0" d="M1459.2,518.5l9.6,1l1.4,-1.9l-9.5,-0.9z"/>
<path class="k1" d="M1264.1,509.7l8.7,1.3l3,1l-8.6,-1.2z"/>
<path class="k0" d="M1284.5,513.2l8.8,1.3l2.8,0.6l-8.7,-1.2z"/>
<path class="k0" d="M1304.9,516.2l8.9,1.2l2.7,-0.3l-8.9,-1z"/>
<path class="k0" d="M1479.7,518.6l9.6,1l1.3,-1.8l-9.6,-1z"/>
<path class="k0" d="M1325.3,518.2l9,1.1l2.5,-1.5l-8.9,-1z"/>
<path class="k0" d="M1345.8,518.8l9,1l2.4,-1.9l-9,-1z"/>
<path class="k0" d="M1366.2,518.9l9.2,1l2.1,-1.9l-9.1,-0.9z"/>
<path class="k0" d="M1386.7,519.0l9.2,1l2,-1.9l-9.2,-0.9z"/>
<path class="k0" d="M1407.2,519.1l9.3,1l1.8,-1.8l-9.2,-1z"/>
<path class="k0" d="M1427.7,519.2l9.4,1l1.7,-1.8l-9.4,-1z"/>
<path class="k0" d="M1448.2,519.4l9.5,0.9l1.5,-1.8l-9.4,-1z"/>
<path class="k2" d="M1231.8,504.0l8.6,1.2l3.3,1l-8.5,-1.2z"/>
<path class="k2" d="M1252.3,507.4l8.7,1.2l3.1,1.1l-8.6,-1.2z"/>
<path class="k0" d="M1468.8,519.5l9.6,1l1.3,-1.9l-9.5,-1z"/>
<path class="k1" d="M1272.8,511.0l8.8,1.2l2.9,1l-8.7,-1.2z"/>
<path class="k0" d="M1293.3,514.5l8.9,1.2l2.7,0.5l-8.8,-1.1z"/>
<path class="k0" d="M1313.8,517.4l9,1.2l2.5,-0.4l-8.8,-1.1z"/>
<path class="k0" d="M1489.3,519.6l9.8,1l1.1,-1.9l-9.6,-0.9z"/>
<path class="k0" d="M1334.3,519.3l9.1,1l2.4,-1.5l-9,-1z"/>
<path class="k0" d="M1354.8,519.8l9.2,0.9l2.2,-1.8l-9,-1z"/>
<path class="k0" d="M1375.4,519.9l9.2,1l2.1,-1.9l-9.2,-1z"/>
<path class="k0" d="M1395.9,520.0l9.4,1l1.9,-1.9l-9.3,-1z"/>
<path class="k0" d="M1416.5,520.1l9.4,1l1.8,-1.9l-9.4,-0.9z"/>
<path class="k0" d="M1437.1,520.2l9.5,1l1.6,-1.8l-9.4,-1z"/>
<path class="k0" d="M1457.7,520.3l9.7,1l1.4,-1.8l-9.6,-1z"/>
<path class="k3" d="M1219.8,501.5l8.6,1.3l3.4,1.2l-8.5,-1.2z"/>
<path class="k2" d="M1240.4,505.2l8.7,1.2l3.2,1l-8.6,-1.2z"/>
<path class="k2" d="M1261.0,508.6l8.7,1.2l3.1,1.2l-8.7,-1.3z"/>
<path class="k0" d="M1478.4,520.5l9.7,1l1.2,-1.9l-9.6,-1z"/>
<path class="k1" d="M1281.6,512.2l8.8,1.2l2.9,1.1l-8.8,-1.3z"/>
<path class="k0" d="M1302.2,515.7l8.9,1.2l2.7,0.5l-8.9,-1.2z"/>
<path class="k0" d="M1322.8,518.6l9,1.1l2.5,-0.4l-9,-1.1z"/>
<path class="k0" d="M1499.1,520.6l9.8,1l1,-1.9l-9.7,-1z"/>
<path class="k0" d="M1343.4,520.3l9.1,1.1l2.3,-1.6l-9,-1z"/>
<path class="k0" d="M1364.0,520.7l9.2,1.1l2.2,-1.9l-9.2,-1z"/>
<path class="k0" d="M1384.6,520.9l9.3,1l2,-1.9l-9.2,-1z"/>
<path class="k0" d="M1405.3,521.0l9.4,1l1.8,-1.9l-9.3,-1z"/>
<path class="k0" d="M1425.9,521.1l9.5,1l1.7,-1.9l-9.4,-1z"/>
<path class="k0" d="M1446.6,521.2l9.6,1l1.5,-1.9l-9.5,-0.9z"/>
<path class="k0" d="M1467.4,521.3l9.7,1.1l1.3,-1.9l-9.6,-1z"/>
<path class="k3" d="M1228.4,502.8l8.6,1.2l3.4,1.2l-8.6,-1.2z"/>
<path class="k2" d="M1249.1,506.4l8.7,1.2l3.2,1l-8.7,-1.2z"/>
<path class="k2" d="M1269.7,509.8l8.9,1.2l3,1.2l-8.8,-1.2z"/>
<path class="k0" d="M1488.1,521.5l9.8,1l1.2,-1.9l-9.8,-1z"/>
<path class="k1" d="M1290.4,513.4l8.9,1.3l2.9,1l-8.9,-1.2z"/>
<path class="k0" d="M1311.1,516.9l9,1.3l2.7,0.4l-9,-1.2z"/>
<path class="k0" d="M1331.8,519.7l9.1,1.2l2.5,-0.6l-9.1,-1z"/>
<path class="k0" d="M1508.9,521.6l9.8,1l1,-1.9l-9.8,-1z"/>
<path class="k0" d="M1352.5,521.4l9.2,1.1l2.3,-1.8l-9.2,-0.9z"/>
<path class="k0" d="M1373.2,521.8l9.3,1l2.1,-1.9l-9.2,-1z"/>
<path class="k0" d="M1393.9,521.9l9.4,1l2,-1.9l-9.4,-1z"/>
<path class="k0" d="M1414.7,522.0l9.5,1l1.7,-1.9l-9.4,-1z"/>
<path class="k0" d="M1435.4,522.1l9.6,1l1.6,-1.9l-9.5,-1z"/>
<path class="k0" d="M1456.2,522.2l9.7,1.1l1.5,-2l-9.7,-1z"/>
<path class="k0" d="M1477.1,522.4l9.7,1l1.3,-1.9l-9.7,-1z"/>
<path class="k3" d="M1216.3,500.0l8.6,1.3l3.5,1.5l-8.6,-1.3z"/>
<path class="k3" d="M1237.0,504.0l8.8,1.2l3.3,1.2l-8.7,-1.2z"/>
<path class="k2" d="M1257.8,507.6l8.8,1.2l3.1,1l-8.7,-1.2z"/>
<path class="k1" d="M1278.6,511.0l8.9,1.3l2.9,1.1l-8.8,-1.2z"/>
<path class="k1" d="M1299.3,514.7l9,1.3l2.8,0.9l-8.9,-1.2z"/>
<path class="k0" d="M1497.9,522.5l9.9,1l1.1,-1.9l-9.8,-1z"/>
<path class="k0" d="M1320.1,518.2l9.1,1.2l2.6,0.3l-9,-1.1z"/>
<path class="k0" d="M1340.9,520.9l9.2,1.2l2.4,-0.7l-9.1,-1.1z"/>
<path class="k0" d="M1518.7,522.6l10,1l0.9,-1.9l-9.9,-1z"/>
<path class="k0" d="M1361.7,522.5l9.3,1.1l2.2,-1.8l-9.2,-1.1z"/>
<path class="k0" d="M1382.5,522.8l9.4,1l2,-1.9l-9.3,-1z"/>
<path class="k0" d="M1403.3,522.9l9.5,1l1.9,-1.9l-9.4,-1z"/>
<path class="k0" d="M1424.2,523.0l9.5,1l1.7,-1.9l-9.5,-1z"/>
<path class="k0" d="M1445.0,523.1l9.7,1.1l1.5,-2l-9.6,-1z"/>
<path class="k0" d="M1465.9,523.3l9.8,1l1.4,-1.9l-9.7,-1.1z"/>
<path class="k0" d="M1486.8,523.4l9.9,1l1.2,-1.9l-9.8,-1z"/>
<path class="k3" d="M1224.9,501.3l8.7,1.2l3.4,1.5l-8.6,-1.2z"/>
<path class="k3" d="M1245.8,505.2l8.8,1.3l3.2,1.1l-8.7,-1.2z"/>
<path class="k2" d="M1266.6,508.8l8.9,1.3l3.1,0.9l-8.9,-1.2z"/>
<path class="k1" d="M1287.5,512.3l9,1.3l2.8,1.1l-8.9,-1.3z"/>
<path class="k1" d="M1308.3,516.0l9.1,1.3l2.7,0.9l-9,-1.3z"/>
<path class="k0" d="M1507.8,523.5l9.9,1l1,-1.9l-9.8,-1z"/>
<path class="k0" d="M1329.2,519.4l9.2,1.3l2.5,0.2l-9.1,-1.2z"/>
<path class="k0" d="M1350.1,522.1l9.3,1.2l2.3,-0.8l-9.2,-1.1z"/>
<path class="k0" d="M1528.7,523.6l10.1,1l0.8,-1.9l-10,-1z"/>
<path class="k0" d="M1371.0,523.6l9.3,1l2.2,-1.8l-9.3,-1z"/>
<path class="k0" d="M1391.9,523.8l9.4,1l2,-1.9l-9.4,-1z"/>
<path class="k0" d="M1412.8,523.9l9.6,1l1.8,-1.9l-9.5,-1z"/>
<path class="k0" d="M1433.7,524.0l9.7,1.1l1.6,-2l-9.6,-1z"/>
<path class="k0" d="M1454.7,524.2l9.8,1l1.4,-1.9l-9.7,-1.1z"/>
<path class="k0" d="M1475.7,524.3l9.9,1l1.2,-1.9l-9.7,-1z"/>
<path class="k4" d="M1212.7,498.2l8.7,1.3l3.5,1.8l-8.6,-1.3z"/>
<path class="k3" d="M1233.6,502.5l8.8,1.3l3.4,1.4l-8.8,-1.2z"/>
<path class="k0" d="M1496.7,524.4l10,1l1.1,-1.9l-9.9,-1z"/>
<path class="k3" d="M1254.6,506.5l8.9,1.2l3.1,1.1l-8.8,-1.2z"/>
<path class="k2" d="M1275.5,510.1l9,1.2l3,1l-8.9,-1.3z"/>
<path class="k1" d="M1296.5,513.6l9,1.2l2.8,1.2l-9,-1.3z"/>
<path class="k1" d="M1317.4,517.3l9.2,1.2l2.6,0.9l-9.1,-1.2z"/>
<path class="k0" d="M1517.7,524.5l10.1,1.1l0.9,-2l-10,-1z"/>
<path class="k0" d="M1338.4,520.7l9.2,1.2l2.5,0.2l-9.2,-1.2z"/>
<path class="k0" d="M1359.4,523.3l9.3,1.2l2.3,-0.9l-9.3,-1.1z"/>
<path class="k0" d="M1538.8,524.6l10.1,1.1l0.8,-2l-10.1,-1z"/>
<path class="k0" d="M1380.3,524.6l9.5,1.1l2.1,-1.9l-9.4,-1z"/>
<path class="k0" d="M1401.3,524.8l9.6,1.1l1.9,-2l-9.5,-1z"/>
<path class="k0" d="M1422.4,524.9l9.6,1.1l1.7,-2l-9.5,-1z"/>
<path class="k0" d="M1443.4,525.1l9.7,1l1.6,-1.9l-9.7,-1.1z"/>
<path class="k0" d="M1464.5,525.2l9.8,1l1.4,-1.9l-9.8,-1z"/>
<path class="k0" d="M1485.6,525.3l9.9,1.1l1.2,-2l-9.9,-1z"/>
<path class="k4" d="M1221.4,499.5l8.7,1.3l3.5,1.7l-8.7,-1.2z"/>
<path class="k3" d="M1242.4,503.8l8.9,1.3l3.3,1.4l-8.8,-1.3z"/>
<path class="k0" d="M1506.7,525.4l10,1.1l1,-2l-9.9,-1z"/>
<path class="k3" d="M1263.5,507.7l8.9,1.3l3.1,1.1l-8.9,-1.3z"/>
<path class="k2" d="M1284.5,511.3l9,1.2l3,1.1l-9,-1.3z"/>
<path class="k1" d="M1305.5,514.8l9.2,1.3l2.7,1.2l-9.1,-1.3z"/>
<path class="k1" d="M1326.6,518.5l9.2,1.3l2.6,0.9l-9.2,-1.3z"/>
<path class="k0" d="M1527.8,525.6l10.1,1l0.9,-2l-10.1,-1z"/>
<path class="k0" d="M1347.6,521.9l9.4,1.3l2.4,0.1l-9.3,-1.2z"/>
<path class="k0" d="M1368.7,524.5l9.4,1.1l2.2,-1l-9.3,-1z"/>
<path class="k0" d="M1548.9,525.7l10.3,1l0.7,-1.9l-10.2,-1.1z"/>
<path class="k0" d="M1389.8,525.7l9.5,1.1l2,-2l-9.4,-1z"/>
<path class="k0" d="M1410.9,525.9l9.6,1l1.9,-2l-9.6,-1z"/>
<path class="k0" d="M1432.0,526.0l9.7,1l1.7,-1.9l-9.7,-1.1z"/>
<path class="k0" d="M1453.1,526.1l9.9,1.1l1.5,-2l-9.8,-1z"/>
<path class="k0" d="M1474.3,526.2l9.9,1.1l1.4,-2l-9.9,-1z"/>
<path class="k0" d="M1495.5,526.4l10,1l1.2,-2l-10,-1z"/>
<path class="k5" d="M1209.0,496.1l8.8,1.3l3.6,2.1l-8.7,-1.3z"/>
<path class="k4" d="M1230.1,500.8l8.9,1.3l3.4,1.7l-8.8,-1.3z"/>
<path class="k3" d="M1251.3,505.1l8.9,1.3l3.3,1.3l-8.9,-1.2z"/>
<path class="k0" d="M1516.7,526.5l10.1,1l1,-1.9l-10.1,-1.1z"/>
<path class="k3" d="M1272.4,509.0l9.1,1.3l3,1l-9,-1.2z"/>
<path class="k2" d="M1293.5,512.5l9.2,1.3l2.8,1l-9,-1.2z"/>
<path class="k1" d="M1314.7,516.1l9.2,1.3l2.7,1.1l-9.2,-1.2z"/>
<path class="k1" d="M1335.8,519.8l9.4,1.4l2.4,0.7l-9.2,-1.2z"/>
<path class="k0" d="M1537.9,526.6l10.3,1.1l0.7,-2l-10.1,-1.1z"/>
<path class="k0" d="M1357.0,523.2l9.4,1.2l2.3,0.1l-9.3,-1.2z"/>
<path class="k0" d="M1378.1,525.6l9.6,1.2l2.1,-1.1l-9.5,-1.1z"/>
<path class="k0" d="M1559.2,526.7l10.3,1.1l0.6,-2l-10.2,-1z"/>
<path class="k0" d="M1399.3,526.8l9.6,1l2,-1.9l-9.6,-1.1z"/>
<path class="k0" d="M1420.5,526.9l9.7,1.1l1.8,-2l-9.6,-1.1z"/>
<path class="k0" d="M1441.7,527.0l9.9,1.1l1.5,-2l-9.7,-1z"/>
<path class="k0" d="M1463.0,527.2l9.9,1l1.4,-2l-9.8,-1z"/>
<path class="k0" d="M1484.2,527.3l10.1,1l1.2,-1.9l-9.9,-1.1z"/>
<path class="k0" d="M1505.5,527.4l10.2,1.1l1,-2l-10,-1.1z"/>
<path class="k5" d="M1217.8,497.4l8.8,1.3l3.5,2.1l-8.7,-1.3z"/>
<path class="k4" d="M1239.0,502.1l8.9,1.3l3.4,1.7l-8.9,-1.3z"/>
<path class="k3" d="M1260.2,506.4l9.1,1.3l3.1,1.3l-8.9,-1.3z"/>
<path class="k2" d="M1281.5,510.3l9.1,1.3l2.9,0.9l-9,-1.2z"/>
<path class="k0" d="M1526.8,527.5l10.3,1.1l0.8,-2l-10.1,-1z"/>
<path class="k2" d="M1302.7,513.8l9.2,1.3l2.8,1l-9.2,-1.3z"/>
<path class="k1" d="M1323.9,517.4l9.3,1.4l2.6,1l-9.2,-1.3z"/>
<path class="k1" d="M1345.2,521.2l9.4,1.3l2.4,0.7l-9.4,-1.3z"/>
<path class="k0" d="M1548.2,527.7l10.3,1l0.7,-2l-10.3,-1z"/>
<path class="k0" d="M1366.4,524.4l9.5,1.3l2.2,-0.1l-9.4,-1.1z"/>
<path class="k0" d="M1387.7,526.8l9.6,1.2l2,-1.2l-9.5,-1.1z"/>
<path class="k0" d="M1569.5,527.8l10.5,1.1l0.5,-2l-10.4,-1.1z"/>
<path class="k0" d="M1408.9,527.8l9.7,1.1l1.9,-2l-9.6,-1z"/>
<path class="k0" d="M1430.2,528.0l9.8,1l1.7,-2l-9.7,-1z"/>
<path class="k0" d="M1451.6,528.1l9.9,1.1l1.5,-2l-9.9,-1.1z"/>
<path class="k0" d="M1472.9,528.2l10,1.1l1.3,-2l-9.9,-1.1z"/>
<path class="k0" d="M1494.3,528.3l10.1,1.1l1.1,-2l-10,-1z"/>
<path class="k0" d="M1515.7,528.5l10.2,1l0.9,-2l-10.1,-1z"/>
<path class="k5" d="M1226.6,498.7l8.9,1.3l3.5,2.1l-8.9,-1.3z"/>
<path class="k4" d="M1247.9,503.4l9,1.3l3.3,1.7l-8.9,-1.3z"/>
<path class="k6" d="M1205.3,493.5l8.8,1.4l3.7,2.5l-8.8,-1.3z"/>
<path class="k3" d="M1269.3,507.7l9.1,1.3l3.1,1.3l-9.1,-1.3z"/>
<path class="k2" d="M1290.6,511.6l9.2,1.2l2.9,1l-9.2,-1.3z"/>
<path class="k0" d="M1537.1,528.6l10.3,1.1l0.8,-2l-10.3,-1.1z"/>
<path class="k2" d="M1311.9,515.1l9.3,1.3l2.7,1l-9.2,-1.3z"/>
<path class="k1" d="M1333.2,518.8l9.4,1.3l2.6,1.1l-9.4,-1.4z"/>
<path class="k0" d="M1354.6,522.5l9.5,1.3l2.3,0.6l-9.4,-1.2z"/>
<path class="k0" d="M1558.5,528.7l10.4,1.1l0.6,-2l-10.3,-1.1z"/>
<path class="k0" d="M1375.9,525.7l9.6,1.3l2.2,-0.2l-9.6,-1.2z"/>
<path class="k0" d="M1397.3,528.0l9.7,1.2l1.9,-1.4l-9.6,-1z"/>
<path class="k0" d="M1418.6,528.9l9.8,1.1l1.8,-2l-9.7,-1.1z"/>
<path class="k0" d="M1440.0,529.0l9.9,1.1l1.7,-2l-9.9,-1.1z"/>
<path class="k0" d="M1461.5,529.2l10,1l1.4,-2l-9.9,-1z"/>
<path class="k0" d="M1482.9,529.3l10.1,1.1l1.3,-2.1l-10.1,-1z"/>
<path class="k0" d="M1504.4,529.4l10.2,1.1l1.1,-2l-10.2,-1.1z"/>
<path class="k0" d="M1525.9,529.5l10.3,1.1l0.9,-2l-10.3,-1.1z"/>
<path class="k5" d="M1235.5,500.0l9,1.4l3.4,2l-8.9,-1.3z"/>
<path class="k6" d="M1214.1,494.9l8.9,1.4l3.6,2.4l-8.8,-1.3z"/>
<path class="k4" d="M1256.9,504.7l9.1,1.3l3.3,1.7l-9.1,-1.3z"/>
<path class="k3" d="M1278.4,509.0l9.1,1.3l3.1,1.3l-9.1,-1.3z"/>
<path class="k2" d="M1299.8,512.8l9.3,1.3l2.8,1l-9.2,-1.3z"/>
<path class="k0" d="M1547.4,529.7l10.4,1l0.7,-2l-10.3,-1z"/>
<path class="k2" d="M1321.2,516.4l9.4,1.3l2.6,1.1l-9.3,-1.4z"/>
<path class="k1" d="M1342.6,520.1l9.5,1.3l2.5,1.1l-9.4,-1.3z"/>
<path class="k0" d="M1364.1,523.8l9.6,1.3l2.2,0.6l-9.5,-1.3z"/>
<path class="k0" d="M1385.5,527.0l9.7,1.3l2.1,-0.3l-9.6,-1.2z"/>
<path class="k0" d="M1568.9,529.8l10.5,1.1l0.6,-2l-10.5,-1.1z"/>
<path class="k0" d="M1407.0,529.2l9.7,1.2l1.9,-1.5l-9.7,-1.1z"/>
<path class="k0" d="M1428.4,530.0l9.9,1.1l1.7,-2.1l-9.8,-1z"/>
<path class="k0" d="M1449.9,530.1l10,1.1l1.6,-2l-9.9,-1.1z"/>
<path class="k0" d="M1471.5,530.2l10.1,1.1l1.3,-2l-10,-1.1z"/>
<path class="k0" d="M1493.0,530.4l10.2,1l1.2,-2l-10.1,-1.1z"/>
<path class="k0" d="M1514.6,530.5l10.3,1.1l1,-2.1l-10.2,-1z"/>
<path class="k0" d="M1536.2,530.6l10.4,1.1l0.8,-2l-10.3,-1.1z"/>
<path class="k5" d="M1244.5,501.4l9.1,1.3l3.3,2l-9,-1.3z"/>
<path class="k5" d="M1223.0,496.3l9,1.4l3.5,2.3l-8.9,-1.3z"/>
<path class="k4" d="M1266.0,506.0l9.2,1.4l3.2,1.6l-9.1,-1.3z"/>
<path class="k6" d="M1201.4,490.5l8.9,1.4l3.8,3l-8.8,-1.4z"/>
<path class="k3" d="M1287.5,510.3l9.3,1.3l3,1.2l-9.2,-1.2z"/>
<path class="k2" d="M1309.1,514.1l9.3,1.4l2.8,0.9l-9.3,-1.3z"/>
<path class="k0" d="M1557.8,530.7l10.5,1.1l0.6,-2l-10.4,-1.1z"/>
<path class="k2" d="M1330.6,517.7l9.5,1.3l2.5,1.1l-9.4,-1.3z"/>
<path class="k1" d="M1352.1,521.4l9.6,1.4l2.4,1l-9.5,-1.3z"/>
<path class="k0" d="M1373.7,525.1l9.6,1.4l2.2,0.5l-9.6,-1.3z"/>
<path class="k0" d="M1395.2,528.3l9.8,1.3l2,-0.4l-9.7,-1.2z"/>
<path class="k0" d="M1416.7,530.4l9.9,1.2l1.8,-1.6l-9.8,-1.1z"/>
<path class="k0" d="M1438.3,531.1l10,1.1l1.6,-2.1l-9.9,-1.1z"/>
<path class="k0" d="M1459.9,531.2l10.1,1.1l1.5,-2.1l-10,-1z"/>
<path class="k0" d="M1481.6,531.3l10.2,1.1l1.2,-2l-10.1,-1.1z"/>
<path class="k0" d="M1503.2,531.4l10.3,1.1l1.1,-2l-10.2,-1.1z"/>
<path class="k0" d="M1524.9,531.6l10.4,1.1l0.9,-2.1l-10.3,-1.1z"/>
<path class="k0" d="M1546.6,531.7l10.5,1.1l0.7,-2.1l-10.4,-1z"/>
<path class="k4" d="M1253.6,502.7l9.1,1.4l3.3,1.9l-9.1,-1.3z"/>
<path class="k5" d="M1232.0,497.7l9,1.3l3.5,2.4l-9,-1.4z"/>
<path class="k4" d="M1275.2,507.4l9.3,1.3l3,1.6l-9.1,-1.3z"/>
<path class="k6" d="M1210.3,491.9l9,1.5l3.7,2.9l-8.9,-1.4z"/>
<path class="k3" d="M1296.8,511.6l9.4,1.3l2.9,1.2l-9.3,-1.3z"/>
<path class="k2" d="M1318.4,515.5l9.5,1.3l2.7,0.9l-9.4,-1.3z"/>
<path class="k2" d="M1340.1,519.0l9.5,1.3l2.5,1.1l-9.5,-1.3z"/>
<path class="k0" d="M1568.3,531.8l10.6,1.1l0.5,-2l-10.5,-1.1z"/>
<path class="k1" d="M1361.7,522.8l9.6,1.3l2.4,1l-9.6,-1.3z"/>
<path class="k0" d="M1383.3,526.5l9.8,1.3l2.1,0.5l-9.7,-1.3z"/>
<path class="k0" d="M1405.0,529.6l9.8,1.3l1.9,-0.5l-9.7,-1.2z"/>
<path class="k0" d="M1426.6,531.6l10,1.2l1.7,-1.7l-9.9,-1.1z"/>
<path class="k0" d="M1448.3,532.2l10.1,1.1l1.5,-2.1l-10,-1.1z"/>
<path class="k0" d="M1470.0,532.3l10.2,1.1l1.4,-2.1l-10.1,-1.1z"/>
<path class="k0" d="M1491.8,532.4l10.2,1.1l1.2,-2.1l-10.2,-1z"/>
<path class="k0" d="M1513.5,532.5l10.4,1.2l1,-2.1l-10.3,-1.1z"/>
<path class="k0" d="M1535.3,532.7l10.5,1.1l0.8,-2.1l-10.4,-1.1z"/>
<path class="k0" d="M1557.1,532.8l10.6,1.1l0.6,-2.1l-10.5,-1.1z"/>
<path class="k4" d="M1262.7,504.1l9.3,1.4l3.2,1.9l-9.2,-1.4z"/>
<path class="k5" d="M1241.0,499.0l9.2,1.4l3.4,2.3l-9.1,-1.3z"/>
<path class="k4" d="M1284.5,508.7l9.3,1.4l3,1.5l-9.3,-1.3z"/>
<path class="k6" d="M1219.3,493.4l9,1.4l3.7,2.9l-9,-1.4z"/>
<path class="k3" d="M1306.2,512.9l9.4,1.4l2.8,1.2l-9.3,-1.4z"/>
<path class="k7" d="M1197.5,487.0l9,1.5l3.8,3.4l-8.9,-1.4z"/>
<path class="k2" d="M1327.9,516.8l9.5,1.3l2.7,0.9l-9.5,-1.3z"/>
<path class="k2" d="M1349.6,520.3l9.7,1.4l2.4,1.1l-9.6,-1.4z"/>
<path class="k1" d="M1371.3,524.1l9.8,1.4l2.2,1l-9.6,-1.4z"/>
<path class="k0" d="M1393.1,527.8l9.8,1.4l2.1,0.4l-9.8,-1.3z"/>
<path class="k0" d="M1414.8,530.9l10,1.3l1.8,-0.6l-9.9,-1.2z"/>
<path class="k0" d="M1436.6,532.8l10,1.2l1.7,-1.8l-10,-1.1z"/>
<path class="k0" d="M1458.4,533.3l10.1,1.1l1.5,-2.1l-10.1,-1.1z"/>
<path class="k0" d="M1480.2,533.4l10.3,1.1l1.3,-2.1l-10.2,-1.1z"/>
<path class="k0" d="M1502.0,533.5l10.4,1.1l1.1,-2.1l-10.3,-1.1z"/>
<path class="k0" d="M1523.9,533.7l10.5,1.1l0.9,-2.1l-10.4,-1.1z"/>
<path class="k0" d="M1545.8,533.8l10.6,1.1l0.7,-2.1l-10.5,-1.1z"/>
<path class="k0" d="M1567.7,533.9l10.7,1.1l0.5,-2.1l-10.6,-1.1z"/>
<path class="k4" d="M1272.0,505.5l9.3,1.4l3.2,1.8l-9.3,-1.3z"/>
<path class="k5" d="M1250.2,500.4l9.2,1.4l3.3,2.3l-9.1,-1.4z"/>
<path class="k4" d="M1293.8,510.1l9.4,1.3l3,1.5l-9.4,-1.3z"/>
<path class="k6" d="M1228.3,494.8l9.2,1.4l3.5,2.8l-9,-1.3z"/>
<path class="k3" d="M1315.6,514.3l9.6,1.3l2.7,1.2l-9.5,-1.3z"/>
<path class="k7" d="M1206.5,488.5l9,1.4l3.8,3.5l-9,-1.5z"/>
<path class="k2" d="M1337.4,518.1l9.7,1.3l2.5,0.9l-9.5,-1.3z"/>
<path class="k2" d="M1359.3,521.7l9.7,1.4l2.3,1l-9.6,-1.3z"/>
<path class="k1" d="M1381.1,525.5l9.8,1.4l2.2,0.9l-9.8,-1.3z"/>
<path class="k0" d="M1402.9,529.2l10,1.3l1.9,0.4l-9.8,-1.3z"/>
<path class="k0" d="M1424.8,532.2l10,1.3l1.8,-0.7l-10,-1.2z"/>
<path class="k0" d="M1446.6,534.0l10.2,1.2l1.6,-1.9l-10.1,-1.1z"/>
<path class="k0" d="M1468.5,534.4l10.3,1.1l1.4,-2.1l-10.2,-1.1z"/>
<path class="k0" d="M1490.5,534.5l10.3,1.1l1.2,-2.1l-10.2,-1.1z"/>
<path class="k0" d="M1512.4,534.6l10.5,1.2l1,-2.1l-10.4,-1.2z"/>
<path class="k0" d="M1534.4,534.8l10.6,1.1l0.8,-2.1l-10.5,-1.1z"/>
<path class="k0" d="M1556.4,534.9l10.7,1.1l0.6,-2.1l-10.6,-1.1z"/>
<path class="k5" d="M1259.4,501.8l9.3,1.5l3.3,2.2l-9.3,-1.4z"/>
<path class="k4" d="M1281.3,506.9l9.4,1.4l3.1,1.8l-9.3,-1.4z"/>
<path class="k3" d="M1303.2,511.4l9.6,1.4l2.8,1.5l-9.4,-1.4z"/>
<path class="k6" d="M1237.5,496.2l9.2,1.5l3.5,2.7l-9.2,-1.4z"/>
<path class="k3" d="M1325.2,515.6l9.6,1.4l2.6,1.1l-9.5,-1.3z"/>
<path class="k7" d="M1215.5,489.9l9.1,1.5l3.7,3.4l-9,-1.4z"/>
<path class="k2" d="M1347.1,519.4l9.7,1.4l2.5,0.9l-9.7,-1.4z"/>
<path class="k1" d="M1369.0,523.1l9.8,1.3l2.3,1.1l-9.8,-1.4z"/>
<path class="k8" d="M1193.6,482.9l9,1.5l3.9,4.1l-9,-1.5z"/>
<path class="k1" d="M1390.9,526.9l10,1.4l2,0.9l-9.8,-1.4z"/>
<path class="k0" d="M1412.9,530.5l10,1.4l1.9,0.3l-10,-1.3z"/>
<path class="k0" d="M1434.8,533.5l10.1,1.3l1.7,-0.8l-10,-1.2z"/>
<path class="k0" d="M1456.8,535.2l10.2,1.2l1.5,-2l-10.1,-1.1z"/>
<path class="k0" d="M1478.8,535.5l10.3,1.1l1.4,-2.1l-10.3,-1.1z"/>
<path class="k0" d="M1500.8,535.6l10.5,1.2l1.1,-2.2l-10.4,-1.1z"/>
<path class="k0" d="M1522.9,535.8l10.5,1.1l1,-2.1l-10.5,-1.1z"/>
<path class="k0" d="M1545.0,535.9l10.6,1.1l0.8,-2.1l-10.6,-1.1z"/>
<path class="k0" d="M1567.1,536.0l10.8,1.2l0.5,-2.2l-10.7,-1.1z"/>
<path class="k5" d="M1268.7,503.3l9.4,1.4l3.2,2.2l-9.3,-1.4z"/>
<path class="k4" d="M1290.7,508.3l9.5,1.4l3,1.7l-9.4,-1.3z"/>
<path class="k6" d="M1246.7,497.7l9.3,1.4l3.4,2.7l-9.2,-1.4z"/>
<path class="k3" d="M1312.8,512.8l9.6,1.4l2.8,1.4l-9.6,-1.3z"/>
<path class="k3" d="M1334.8,517.0l9.7,1.4l2.6,1l-9.7,-1.3z"/>
<path class="k7" d="M1224.6,491.4l9.2,1.5l3.7,3.3l-9.2,-1.4z"/>
<path class="k2" d="M1356.8,520.8l9.8,1.3l2.4,1l-9.7,-1.4z"/>
<path class="k8" d="M1202.6,484.4l9.1,1.6l3.8,3.9l-9,-1.4z"/>
<path class="k1" d="M1378.8,524.4l9.9,1.4l2.2,1.1l-9.8,-1.4z"/>
<path class="k1" d="M1400.9,528.3l10,1.4l2,0.8l-10,-1.3z"/>
<path class="k0" d="M1422.9,531.9l10.1,1.4l1.8,0.2l-10,-1.3z"/>
<path class="k0" d="M1444.9,534.8l10.3,1.3l1.6,-0.9l-10.2,-1.2z"/>
<path class="k0" d="M1467.0,536.4l10.4,1.2l1.4,-2.1l-10.3,-1.1z"/>
<path class="k0" d="M1489.1,536.6l10.5,1.2l1.2,-2.2l-10.3,-1.1z"/>
<path class="k0" d="M1511.3,536.8l10.5,1.1l1.1,-2.1l-10.5,-1.2z"/>
<path class="k0" d="M1533.4,536.9l10.7,1.2l0.9,-2.2l-10.6,-1.1z"/>
<path class="k0" d="M1555.6,537.0l10.8,1.2l0.7,-2.2l-10.7,-1.1z"/>
<path class="k5" d="M1278.1,504.7l9.5,1.4l3.1,2.2l-9.4,-1.4z"/>
<path class="k4" d="M1300.2,509.7l9.6,1.4l3,1.7l-9.6,-1.4z"/>
<path class="k6" d="M1256.0,499.1l9.4,1.5l3.3,2.7l-9.3,-1.5z"/>
<path class="k3" d="M1322.4,514.2l9.7,1.4l2.7,1.4l-9.6,-1.4z"/>
<path class="k7" d="M1233.8,492.9l9.3,1.5l3.6,3.3l-9.2,-1.5z"/>
<path class="k3" d="M1344.5,518.4l9.8,1.4l2.5,1l-9.7,-1.4z"/>
<path class="k2" d="M1366.6,522.1l9.9,1.4l2.3,0.9l-9.8,-1.3z"/>
<path class="k8" d="M1211.7,486.0l9.2,1.5l3.7,3.9l-9.1,-1.5z"/>
<path class="k1" d="M1388.7,525.8l10.1,1.4l2.1,1.1l-10,-1.4z"/>
<path class="k1" d="M1410.9,529.7l10.1,1.4l1.9,0.8l-10,-1.4z"/>
<path class="k9" d="M1189.5,478.0l9.1,1.6l4,4.8l-9,-1.5z"/>
<path class="k0" d="M1433.0,533.3l10.2,1.4l1.7,0.1l-10.1,-1.3z"/>
<path class="k0" d="M1455.2,536.1l10.3,1.3l1.5,-1l-10.2,-1.2z"/>
<path class="k0" d="M1477.4,537.6l10.4,1.2l1.3,-2.2l-10.3,-1.1z"/>
<path class="k0" d="M1499.6,537.8l10.5,1.1l1.2,-2.1l-10.5,-1.2z"/>
<path class="k0" d="M1521.8,537.9l10.7,1.2l0.9,-2.2l-10.5,-1.1z"/>
<path class="k0" d="M1544.1,538.1l10.8,1.1l0.7,-2.2l-10.6,-1.1z"/>
<path class="k0" d="M1566.4,538.2l10.9,1.2l0.6,-2.2l-10.8,-1.2z"/>
<path class="k5" d="M1287.6,506.1l9.6,1.5l3,2.1l-9.5,-1.4z"/>
<path class="k4" d="M1309.8,511.1l9.7,1.4l2.9,1.7l-9.6,-1.4z"/>
<path class="k6" d="M1265.4,500.6l9.5,1.5l3.2,2.6l-9.4,-1.4z"/>
<path class="k3" d="M1332.1,515.6l9.7,1.4l2.7,1.4l-9.7,-1.4z"/>
<path class="k7" d="M1243.1,494.4l9.4,1.5l3.5,3.2l-9.3,-1.4z"/>
<path class="k3" d="M1354.3,519.8l9.9,1.4l2.4,0.9l-9.8,-1.3z"/>
<path class="k2" d="M1376.5,523.5l10,1.4l2.2,0.9l-9.9,-1.4z"/>
<path class="k8" d="M1220.9,487.5l9.2,1.5l3.7,3.9l-9.2,-1.5z"/>
<path class="k1" d="M1398.8,527.2l10.1,1.5l2,1l-10,-1.4z"/>
<path class="k1" d="M1421.0,531.1l10.2,1.5l1.8,0.7l-10.1,-1.4z"/>
<path class="k10" d="M1198.6,479.6l9.2,1.6l3.9,4.8l-9.1,-1.6z"/>
<path class="k0" d="M1443.2,534.7l10.4,1.4l1.6,0l-10.3,-1.3z"/>
<path class="k0" d="M1465.5,537.4l10.4,1.3l1.5,-1.1l-10.4,-1.2z"/>
<path class="k0" d="M1487.8,538.8l10.5,1.2l1.3,-2.2l-10.5,-1.2z"/>
<path class="k0" d="M1510.1,538.9l10.7,1.2l1,-2.2l-10.5,-1.1z"/>
<path class="k0" d="M1532.5,539.1l10.8,1.1l0.8,-2.1l-10.7,-1.2z"/>
<path class="k0" d="M1554.9,539.2l10.9,1.2l0.6,-2.2l-10.8,-1.2z"/>
<path class="k5" d="M1297.2,507.6l9.7,1.4l2.9,2.1l-9.6,-1.4z"/>
<path class="k4" d="M1319.5,512.5l9.8,1.4l2.8,1.7l-9.7,-1.4z"/>
<path class="k6" d="M1274.9,502.1l9.5,1.4l3.2,2.6l-9.5,-1.4z"/>
<path class="k3" d="M1341.8,517.0l9.9,1.4l2.6,1.4l-9.8,-1.4z"/>
<path class="k7" d="M1252.5,495.9l9.5,1.5l3.4,3.2l-9.4,-1.5z"/>
<path class="k3" d="M1364.2,521.2l10,1.4l2.3,0.9l-9.9,-1.4z"/>
<path class="k8" d="M1230.1,489.0l9.4,1.6l3.6,3.8l-9.3,-1.5z"/>
<path class="k2" d="M1386.5,524.9l10.1,1.4l2.2,0.9l-10.1,-1.4z"/>
<path class="k1" d="M1408.9,528.7l10.2,1.4l1.9,1l-10.1,-1.4z"/>
<path class="k1" d="M1431.2,532.6l10.3,1.4l1.7,0.7l-10.2,-1.4z"/>
<path class="k10" d="M1207.8,481.2l9.2,1.6l3.9,4.7l-9.2,-1.5z"/>
<path class="k0" d="M1453.6,536.1l10.4,1.4l1.5,-0.1l-10.3,-1.3z"/>
<path class="k11" d="M1185.3,472.5l9.2,1.6l4.1,5.5l-9.1,-1.6z"/>
<path class="k0" d="M1475.9,538.7l10.6,1.3l1.3,-1.2l-10.4,-1.2z"/>
<path class="k0" d="M1498.3,540.0l10.7,1.1l1.1,-2.2l-10.5,-1.1z"/>
<path class="k0" d="M1520.8,540.1l10.7,1.2l1,-2.2l-10.7,-1.2z"/>
<path class="k0" d="M1543.3,540.2l10.8,1.2l0.8,-2.2l-10.8,-1.1z"/>
<path class="k0" d="M1565.8,540.4l10.9,1.2l0.6,-2.2l-10.9,-1.2z"/>
<path class="k5" d="M1306.9,509.0l9.7,1.5l2.9,2l-9.7,-1.4z"/>
<path class="k4" d="M1329.3,513.9l9.9,1.5l2.6,1.6l-9.7,-1.4z"/>
<path class="k6" d="M1284.4,503.5l9.7,1.5l3.1,2.6l-9.6,-1.5z"/>
<path class="k3" d="M1351.7,518.4l10,1.5l2.5,1.3l-9.9,-1.4z"/>
<path class="k7" d="M1262.0,497.4l9.5,1.5l3.4,3.2l-9.5,-1.5z"/>
<path class="k2" d="M1374.2,522.6l10,1.4l2.3,0.9l-10,-1.4z"/>
<path class="k8" d="M1239.5,490.6l9.4,1.5l3.6,3.8l-9.4,-1.5z"/>
<path class="k2" d="M1396.6,526.3l10.2,1.4l2.1,1l-10.1,-1.5z"/>
<path class="k1" d="M1419.1,530.1l10.2,1.5l1.9,1l-10.2,-1.5z"/>
<path class="k10" d="M1217.0,482.8l9.4,1.6l3.7,4.6l-9.2,-1.5z"/>
<path class="k1" d="M1441.5,534.0l10.4,1.5l1.7,0.6l-10.4,-1.4z"/>
<path class="k0" d="M1464.0,537.5l10.5,1.4l1.4,-0.2l-10.4,-1.3z"/>
<path class="k11" d="M1194.5,474.1l9.2,1.7l4.1,5.4l-9.2,-1.6z"/>
<path class="k0" d="M1486.5,540.0l10.6,1.4l1.2,-1.4l-10.5,-1.2z"/>
<path class="k0" d="M1509.0,541.1l10.7,1.2l1.1,-2.2l-10.7,-1.2z"/>
<path class="k0" d="M1531.5,541.3l10.9,1.2l0.9,-2.3l-10.8,-1.1z"/>
<path class="k0" d="M1554.1,541.4l11,1.2l0.7,-2.2l-10.9,-1.2z"/>
<path class="k5" d="M1316.6,510.5l9.9,1.4l2.8,2l-9.8,-1.4z"/>
<path class="k6" d="M1294.1,505.0l9.7,1.5l3.1,2.5l-9.7,-1.4z"/>
<path class="k4" d="M1339.2,515.4l9.9,1.4l2.6,1.6l-9.9,-1.4z"/>
<path class="k3" d="M1361.7,519.9l10.1,1.4l2.4,1.3l-10,-1.4z"/>
<path class="k7" d="M1271.5,498.9l9.7,1.6l3.2,3l-9.5,-1.4z"/>
<path class="k2" d="M1384.2,524.0l10.2,1.4l2.2,0.9l-10.1,-1.4z"/>
<path class="k8" d="M1248.9,492.1l9.6,1.6l3.5,3.7l-9.5,-1.5z"/>
<path class="k2" d="M1406.8,527.7l10.3,1.4l2,1l-10.2,-1.4z"/>
<path class="k1" d="M1429.3,531.6l10.4,1.4l1.8,1l-10.3,-1.4z"/>
<path class="k10" d="M1226.4,484.4l9.4,1.7l3.7,4.5l-9.4,-1.6z"/>
<path class="k1" d="M1451.9,535.5l10.5,1.4l1.6,0.6l-10.4,-1.4z"/>
<path class="k0" d="M1474.5,538.9l10.6,1.4l1.4,-0.3l-10.6,-1.3z"/>
<path class="k11" d="M1203.7,475.8l9.4,1.6l3.9,5.4l-9.2,-1.6z"/>
<path class="k0" d="M1497.1,541.4l10.7,1.3l1.2,-1.6l-10.7,-1.1z"/>
<path class="k12" d="M1181.1,466.2l9.2,1.7l4.2,6.2l-9.2,-1.6z"/>
<path class="k0" d="M1519.7,542.3l10.9,1.2l0.9,-2.2l-10.7,-1.2z"/>
<path class="k0" d="M1542.4,542.5l11,1.2l0.7,-2.3l-10.8,-1.2z"/>
<path class="k0" d="M1565.1,542.6l11.1,1.2l0.5,-2.2l-10.9,-1.2z"/>
<path class="k5" d="M1326.5,511.9l9.9,1.5l2.8,2l-9.9,-1.5z"/>
<path class="k6" d="M1303.8,506.5l9.9,1.5l2.9,2.5l-9.7,-1.5z"/>
<path class="k4" d="M1349.1,516.8l10.1,1.5l2.5,1.6l-10,-1.5z"/>
<path class="k3" d="M1371.8,521.3l10.1,1.5l2.3,1.2l-10,-1.4z"/>
<path class="k7" d="M1281.2,500.5l9.7,1.5l3.2,3l-9.7,-1.5z"/>
<path class="k2" d="M1394.4,525.4l10.3,1.4l2.1,0.9l-10.2,-1.4z"/>
<path class="k8" d="M1258.5,493.7l9.6,1.6l3.4,3.6l-9.5,-1.5z"/>
<path class="k2" d="M1417.1,529.1l10.4,1.5l1.8,1l-10.2,-1.5z"/>
<path class="k1" d="M1439.7,533.0l10.5,1.5l1.7,1l-10.4,-1.5z"/>
<path class="k10" d="M1235.8,486.1l9.5,1.6l3.6,4.4l-9.4,-1.5z"/>
<path class="k0" d="M1462.4,536.9l10.6,1.5l1.5,0.5l-10.5,-1.4z"/>
<path class="k0" d="M1485.1,540.3l10.7,1.5l1.3,-0.4l-10.6,-1.4z"/>
<path class="k9" d="M1213.1,477.4l9.4,1.7l3.9,5.3l-9.4,-1.6z"/>
<path class="k0" d="M1507.8,542.7l10.8,1.3l1.1,-1.7l-10.7,-1.2z"/>
<path class="k12" d="M1190.3,467.9l9.3,1.7l4.1,6.2l-9.2,-1.7z"/>
<path class="k0" d="M1530.6,543.5l10.9,1.3l0.9,-2.3l-10.9,-1.2z"/>
<path class="k0" d="M1553.4,543.7l11,1.2l0.7,-2.3l-11,-1.2z"/>
<path class="k5" d="M1336.4,513.4l10.1,1.5l2.6,1.9l-9.9,-1.4z"/>
<path class="k5" d="M1313.7,508.0l9.9,1.5l2.9,2.4l-9.9,-1.4z"/>
<path class="k4" d="M1359.2,518.3l10.1,1.5l2.5,1.5l-10.1,-1.4z"/>
<path class="k6" d="M1290.9,502.0l9.8,1.5l3.1,3l-9.7,-1.5z"/>
<path class="k3" d="M1381.9,522.8l10.3,1.4l2.2,1.2l-10.2,-1.4z"/>
<path class="k2" d="M1404.7,526.8l10.4,1.5l2,0.8l-10.3,-1.4z"/>
<path class="k8" d="M1268.1,495.3l9.7,1.6l3.4,3.6l-9.7,-1.6z"/>
<path class="k2" d="M1427.5,530.6l10.4,1.4l1.8,1l-10.4,-1.4z"/>
<path class="k1" d="M1450.2,534.5l10.6,1.5l1.6,0.9l-10.5,-1.4z"/>
<path class="k10" d="M1245.3,487.7l9.6,1.6l3.6,4.4l-9.6,-1.6z"/>
<path class="k0" d="M1473.0,538.4l10.7,1.5l1.4,0.4l-10.6,-1.4z"/>
<path class="k9" d="M1222.5,479.1l9.5,1.7l3.8,5.3l-9.4,-1.7z"/>
<path class="k0" d="M1495.8,541.8l10.8,1.4l1.2,-0.5l-10.7,-1.3z"/>
<path class="k0" d="M1518.6,544.0l11,1.4l1,-1.9l-10.9,-1.2z"/>
<path class="k12" d="M1199.6,469.6l9.4,1.7l4.1,6.1l-9.4,-1.6z"/>
<path class="k0" d="M1541.5,544.8l11.1,1.2l0.8,-2.3l-11,-1.2z"/>
<path class="k13" d="M1176.7,458.8l9.3,1.8l4.3,7.3l-9.2,-1.7z"/>
<path class="k0" d="M1564.4,544.9l11.2,1.2l0.6,-2.3l-11.1,-1.2z"/>
<path class="k4" d="M1346.5,514.9l10.1,1.5l2.6,1.9l-10.1,-1.5z"/>
<path class="k5" d="M1323.6,509.5l10,1.6l2.8,2.3l-9.9,-1.5z"/>
<path class="k4" d="M1369.3,519.8l10.3,1.5l2.3,1.5l-10.1,-1.5z"/>
<path class="k6" d="M1300.7,503.5l9.9,1.6l3.1,2.9l-9.9,-1.5z"/>
<path class="k3" d="M1392.2,524.2l10.4,1.5l2.1,1.1l-10.3,-1.4z"/>
<path class="k7" d="M1277.8,496.9l9.8,1.5l3.3,3.6l-9.7,-1.5z"/>
<path class="k2" d="M1415.1,528.3l10.4,1.4l2,0.9l-10.4,-1.5z"/>
<path class="k2" d="M1437.9,532.0l10.6,1.5l1.7,1l-10.5,-1.5z"/>
<path class="k10" d="M1254.9,489.3l9.7,1.7l3.5,4.3l-9.6,-1.6z"/>
<path class="k1" d="M1460.8,536.0l10.7,1.5l1.5,0.9l-10.6,-1.5z"/>
<path class="k0" d="M1483.7,539.9l10.8,1.5l1.3,0.4l-10.7,-1.5z"/>
<path class="k9" d="M1232.0,480.8l9.6,1.6l3.7,5.3l-9.5,-1.6z"/>
<path class="k0" d="M1506.6,543.2l11,1.4l1,-0.6l-10.8,-1.3z"/>
<path class="k12" d="M1209.0,471.3l9.5,1.8l4,6l-9.4,-1.7z"/>
<path class="k0" d="M1529.6,545.4l11,1.3l0.9,-1.9l-10.9,-1.3z"/>
<path class="k14" d="M1186.0,460.6l9.4,1.8l4.2,7.2l-9.3,-1.7z"/>
<path class="k0" d="M1552.6,546.0l11.1,1.2l0.7,-2.3l-11,-1.2z"/>
<path class="k4" d="M1356.6,516.4l10.2,1.5l2.5,1.9l-10.1,-1.5z"/>
<path class="k5" d="M1333.6,511.1l10.1,1.5l2.8,2.3l-10.1,-1.5z"/>
<path class="k4" d="M1379.6,521.3l10.3,1.5l2.3,1.4l-10.3,-1.4z"/>
<path class="k6" d="M1310.6,505.1l10.1,1.6l2.9,2.8l-9.9,-1.5z"/>
<path class="k3" d="M1402.6,525.7l10.4,1.5l2.1,1.1l-10.4,-1.5z"/>
<path class="k7" d="M1287.6,498.4l10,1.6l3.1,3.5l-9.8,-1.5z"/>
<path class="k2" d="M1425.5,529.7l10.6,1.5l1.8,0.8l-10.4,-1.4z"/>
<path class="k2" d="M1448.5,533.5l10.7,1.5l1.6,1l-10.6,-1.5z"/>
<path class="k10" d="M1264.6,491.0l9.8,1.6l3.4,4.3l-9.7,-1.6z"/>
<path class="k1" d="M1471.5,537.5l10.8,1.5l1.4,0.9l-10.7,-1.5z"/>
<path class="k0" d="M1494.5,541.4l10.9,1.5l1.2,0.3l-10.8,-1.4z"/>
<path class="k9" d="M1241.6,482.4l9.7,1.7l3.6,5.2l-9.6,-1.6z"/>
<path class="k0" d="M1517.6,544.6l11,1.5l1,-0.7l-11,-1.4z"/>
<path class="k12" d="M1218.5,473.1l9.6,1.7l3.9,6l-9.5,-1.7z"/>
<path class="k0" d="M1540.6,546.7l11.2,1.3l0.8,-2l-11.1,-1.2z"/>
<path class="k14" d="M1195.4,462.4l9.5,1.8l4.1,7.1l-9.4,-1.7z"/>
<path class="k0" d="M1563.7,547.2l11.3,1.3l0.6,-2.4l-11.2,-1.2z"/>
<path class="k15" d="M1172.3,450.7l9.3,1.8l4.4,8.1l-9.3,-1.8z"/>
<path class="k4" d="M1366.8,517.9l10.4,1.5l2.4,1.9l-10.3,-1.5z"/>
<path class="k5" d="M1343.7,512.6l10.3,1.6l2.6,2.2l-10.1,-1.5z"/>
<path class="k4" d="M1389.9,522.8l10.5,1.5l2.2,1.4l-10.4,-1.5z"/>
<path class="k6" d="M1320.7,506.7l10.1,1.5l2.8,2.9l-10,-1.6z"/>
<path class="k3" d="M1413.0,527.2l10.6,1.5l1.9,1l-10.4,-1.4z"/>
<path class="k7" d="M1297.6,500.0l10,1.6l3,3.5l-9.9,-1.6z"/>
<path class="k2" d="M1436.1,531.2l10.7,1.5l1.7,0.8l-10.6,-1.5z"/>
<path class="k2" d="M1459.2,535.0l10.8,1.5l1.5,1l-10.7,-1.5z"/>
<path class="k8" d="M1274.4,492.6l9.9,1.7l3.3,4.1l-9.8,-1.5z"/>
<path class="k1" d="M1482.3,539.0l10.9,1.6l1.3,0.8l-10.8,-1.5z"/>
<path class="k0" d="M1505.4,542.9l11.1,1.5l1.1,0.2l-11,-1.4z"/>
<path class="k9" d="M1251.3,484.1l9.8,1.8l3.5,5.1l-9.7,-1.7z"/>
<path class="k0" d="M1528.6,546.1l11.1,1.4l0.9,-0.8l-11,-1.3z"/>
<path class="k11" d="M1228.1,474.8l9.7,1.7l3.8,5.9l-9.6,-1.6z"/>
<path class="k0" d="M1551.8,548.0l11.2,1.4l0.7,-2.2l-11.1,-1.2z"/>
<path class="k14" d="M1204.9,464.2l9.6,1.8l4,7.1l-9.5,-1.8z"/>
<path class="k15" d="M1181.6,452.5l9.5,1.8l4.3,8.1l-9.4,-1.8z"/>
<path class="k5" d="M1354.0,514.2l10.3,1.5l2.5,2.2l-10.2,-1.5z"/>
<path class="k4" d="M1377.2,519.4l10.4,1.6l2.3,1.8l-10.3,-1.5z"/>
<path class="k3" d="M1400.4,524.3l10.5,1.5l2.1,1.4l-10.4,-1.5z"/>
<path class="k6" d="M1330.8,508.2l10.2,1.6l2.7,2.8l-10.1,-1.5z"/>
<path class="k3" d="M1423.6,528.7l10.6,1.5l1.9,1l-10.6,-1.5z"/>
<path class="k7" d="M1307.6,501.6l10.1,1.7l3,3.4l-10.1,-1.6z"/>
<path class="k2" d="M1446.8,532.7l10.8,1.5l1.6,0.8l-10.7,-1.5z"/>
<path class="k8" d="M1284.3,494.3l10,1.6l3.3,4.1l-10,-1.6z"/>
<path class="k1" d="M1470.0,536.5l10.9,1.5l1.4,1l-10.8,-1.5z"/>
<path class="k1" d="M1493.2,540.6l11,1.5l1.2,0.8l-10.9,-1.5z"/>
<path class="k9" d="M1261.1,485.9l9.9,1.7l3.4,5l-9.8,-1.6z"/>
<path class="k0" d="M1516.5,544.4l11.1,1.5l1,0.2l-11,-1.5z"/>
<path class="k0" d="M1539.7,547.5l11.3,1.5l0.8,-1l-11.2,-1.3z"/>
<path class="k11" d="M1237.8,476.5l9.8,1.8l3.7,5.8l-9.7,-1.7z"/>
<path class="k0" d="M1563.0,549.4l11.4,1.3l0.6,-2.2l-11.3,-1.3z"/>
<path class="k14" d="M1214.5,466.0l9.7,1.8l3.9,7l-9.6,-1.7z"/>
<path class="k15" d="M1191.1,454.3l9.6,1.9l4.2,8l-9.5,-1.8z"/>
<path class="k16" d="M1167.7,442.5l9.5,1.8l4.4,8.2l-9.3,-1.8z"/>
<path class="k5" d="M1364.3,515.7l10.4,1.6l2.5,2.1l-10.4,-1.5z"/>
<path class="k4" d="M1387.6,521.0l10.6,1.5l2.2,1.8l-10.5,-1.5z"/>
<path class="k6" d="M1341.0,509.8l10.3,1.6l2.7,2.8l-10.3,-1.6z"/>
<path class="k3" d="M1410.9,525.8l10.7,1.5l2,1.4l-10.6,-1.5z"/>
<path class="k3" d="M1434.2,530.2l10.8,1.5l1.8,1l-10.7,-1.5z"/>
<path class="k7" d="M1317.7,503.3l10.2,1.6l2.9,3.3l-10.1,-1.5z"/>
<path class="k2" d="M1457.6,534.2l10.9,1.5l1.5,0.8l-10.8,-1.5z"/>
<path class="k8" d="M1294.3,495.9l10.1,1.7l3.2,4l-10,-1.6z"/>
<path class="k1" d="M1480.9,538.0l11,1.6l1.3,1l-10.9,-1.6z"/>
<path class="k1" d="M1504.2,542.1l11.2,1.6l1.1,0.7l-11.1,-1.5z"/>
<path class="k9" d="M1271.0,487.6l9.9,1.7l3.4,5l-9.9,-1.7z"/>
<path class="k0" d="M1527.6,545.9l11.2,1.6l0.9,0l-11.1,-1.4z"/>
<path class="k0" d="M1551.0,549.0l11.3,1.4l0.7,-1l-11.2,-1.4z"/>
<path class="k11" d="M1247.6,478.3l9.8,1.7l3.7,5.9l-9.8,-1.8z"/>
<path class="k14" d="M1224.2,467.8l9.7,1.9l3.9,6.8l-9.7,-1.7z"/>
<path class="k15" d="M1200.7,456.2l9.6,1.8l4.2,8l-9.6,-1.8z"/>
<path class="k16" d="M1177.2,444.3l9.5,1.8l4.4,8.2l-9.5,-1.8z"/>
<path class="k5" d="M1374.7,517.3l10.6,1.6l2.3,2.1l-10.4,-1.6z"/>
<path class="k4" d="M1398.2,522.5l10.6,1.6l2.1,1.7l-10.5,-1.5z"/>
<path class="k6" d="M1351.3,511.4l10.4,1.7l2.6,2.6l-10.3,-1.5z"/>
<path class="k3" d="M1421.6,527.3l10.7,1.6l1.9,1.3l-10.6,-1.5z"/>
<path class="k7" d="M1327.9,504.9l10.3,1.6l2.8,3.3l-10.2,-1.6z"/>
<path class="k3" d="M1445.0,531.7l10.9,1.6l1.7,0.9l-10.8,-1.5z"/>
<path class="k2" d="M1468.5,535.7l11,1.5l1.4,0.8l-10.9,-1.5z"/>
<path class="k8" d="M1304.4,497.6l10.2,1.7l3.1,4l-10.1,-1.7z"/>
<path class="k1" d="M1491.9,539.6l11.1,1.5l1.2,1l-11,-1.5z"/>
<path class="k1" d="M1515.4,543.7l11.2,1.6l1,0.6l-11.1,-1.5z"/>
<path class="k9" d="M1280.9,489.3l10.1,1.7l3.3,4.9l-10,-1.6z"/>
<path class="k0" d="M1538.8,547.5l11.4,1.5l0.8,0l-11.3,-1.5z"/>
<path class="k11" d="M1257.4,480.0l10,1.8l3.6,5.8l-9.9,-1.7z"/>
<path class="k0" d="M1562.3,550.4l11.5,1.5l0.6,-1.2l-11.4,-1.3z"/>
<path class="k14" d="M1233.9,469.7l9.9,1.8l3.8,6.8l-9.8,-1.8z"/>
<path class="k15" d="M1210.3,458.0l9.8,1.9l4.1,7.9l-9.7,-1.8z"/>
<path class="k16" d="M1186.7,446.1l9.7,1.8l4.3,8.3l-9.6,-1.9z"/>
<path class="k17" d="M1163.0,434.0l9.6,1.8l4.6,8.5l-9.5,-1.8z"/>
<path class="k5" d="M1385.3,518.9l10.6,1.6l2.3,2l-10.6,-1.5z"/>
<path class="k4" d="M1408.8,524.1l10.7,1.6l2.1,1.6l-10.7,-1.5z"/>
<path class="k6" d="M1361.7,513.1l10.5,1.6l2.5,2.6l-10.4,-1.6z"/>
<path class="k3" d="M1432.3,528.9l10.9,1.5l1.8,1.3l-10.8,-1.5z"/>
<path class="k7" d="M1338.2,506.5l10.4,1.7l2.7,3.2l-10.3,-1.6z"/>
<path class="k3" d="M1455.9,533.3l11,1.5l1.6,0.9l-10.9,-1.5z"/>
<path class="k2" d="M1479.5,537.2l11.1,1.5l1.3,0.9l-11,-1.6z"/>
<path class="k8" d="M1314.6,499.3l10.3,1.7l3,3.9l-10.2,-1.6z"/>
<path class="k1" d="M1503.0,541.1l11.3,1.6l1.1,1l-11.2,-1.6z"/>
<path class="k1" d="M1526.6,545.3l11.3,1.6l0.9,0.6l-11.2,-1.6z"/>
<path class="k10" d="M1291.0,491.0l10.2,1.8l3.2,4.8l-10.1,-1.7z"/>
<path class="k0" d="M1550.2,549.0l11.5,1.6l0.6,-0.2l-11.3,-1.4z"/>
<path class="k11" d="M1267.4,481.8l10.1,1.8l3.4,5.7l-9.9,-1.7z"/>
<path class="k14" d="M1243.8,471.5l9.9,1.9l3.7,6.6l-9.8,-1.7z"/>
<path class="k13" d="M1220.1,459.9l9.8,1.9l4,7.9l-9.7,-1.9z"/>
<path class="k18" d="M1196.4,447.9l9.7,1.9l4.2,8.2l-9.6,-1.8z"/>
<path class="k19" d="M1172.6,435.8l9.6,1.8l4.5,8.5l-9.5,-1.8z"/>
<path class="k5" d="M1395.9,520.5l10.7,1.6l2.2,2l-10.6,-1.6z"/>
<path class="k4" d="M1419.5,525.7l10.9,1.6l1.9,1.6l-10.7,-1.6z"/>
<path class="k6" d="M1372.2,514.7l10.6,1.6l2.5,2.6l-10.6,-1.6z"/>
<path class="k3" d="M1443.2,530.4l11,1.6l1.7,1.3l-10.9,-1.6z"/>
<path class="k7" d="M1348.6,508.2l10.5,1.7l2.6,3.2l-10.4,-1.7z"/>
<path class="k3" d="M1466.9,534.8l11.1,1.6l1.5,0.8l-11,-1.5z"/>
<path class="k8" d="M1324.9,501.0l10.4,1.7l2.9,3.8l-10.3,-1.6z"/>
<path class="k2" d="M1490.6,538.7l11.2,1.6l1.2,0.8l-11.1,-1.5z"/>
<path class="k1" d="M1514.3,542.7l11.3,1.6l1,1l-11.2,-1.6z"/>
<path class="k10" d="M1301.2,492.8l10.3,1.7l3.1,4.8l-10.2,-1.7z"/>
<path class="k1" d="M1537.9,546.9l11.5,1.6l0.8,0.5l-11.4,-1.5z"/>
<path class="k0" d="M1561.7,550.6l11.5,1.5l0.6,-0.2l-11.5,-1.5z"/>
<path class="k11" d="M1277.5,483.6l10.1,1.8l3.4,5.6l-10.1,-1.7z"/>
<path class="k12" d="M1253.7,473.4l10.1,1.9l3.6,6.5l-10,-1.8z"/>
<path class="k13" d="M1229.9,461.8l10,1.9l3.9,7.8l-9.9,-1.8z"/>
<path class="k18" d="M1206.1,449.8l9.8,1.8l4.2,8.3l-9.8,-1.9z"/>
<path class="k19" d="M1182.2,437.6l9.7,1.8l4.5,8.5l-9.7,-1.8z"/>
<path class="k20" d="M1158.3,424.9l9.6,1.8l4.7,9.1l-9.6,-1.8z"/>
<path class="k5" d="M1406.6,522.1l10.9,1.6l2,2l-10.7,-1.6z"/>
<path class="k4" d="M1430.4,527.3l11,1.6l1.8,1.5l-10.9,-1.5z"/>
<path class="k6" d="M1382.8,516.3l10.8,1.7l2.3,2.5l-10.6,-1.6z"/>
<path class="k3" d="M1454.2,532.0l11.1,1.6l1.6,1.2l-11,-1.5z"/>
<path class="k7" d="M1359.1,509.9l10.6,1.6l2.5,3.2l-10.5,-1.6z"/>
<path class="k2" d="M1478.0,536.4l11.2,1.5l1.4,0.8l-11.1,-1.5z"/>
<path class="k8" d="M1335.3,502.7l10.5,1.7l2.8,3.8l-10.4,-1.7z"/>
<path class="k2" d="M1501.8,540.3l11.3,1.6l1.2,0.8l-11.3,-1.6z"/>
<path class="k1" d="M1525.6,544.3l11.4,1.6l0.9,1l-11.3,-1.6z"/>
<path class="k10" d="M1311.5,494.5l10.4,1.8l3,4.7l-10.3,-1.7z"/>
<path class="k1" d="M1549.4,548.5l11.6,1.6l0.7,0.5l-11.5,-1.6z"/>
<path class="k11" d="M1287.6,485.4l10.3,1.8l3.3,5.6l-10.2,-1.8z"/>
<path class="k12" d="M1263.8,475.3l10.1,1.8l3.6,6.5l-10.1,-1.8z"/>
<path class="k13" d="M1239.9,463.7l10,1.9l3.8,7.8l-9.9,-1.9z"/>
<path class="k18" d="M1215.9,451.6l10,1.9l4,8.3l-9.8,-1.9z"/>
<path class="k19" d="M1191.9,439.4l9.9,1.8l4.3,8.6l-9.7,-1.9z"/>
<path class="k20" d="M1167.9,426.7l9.7,1.9l4.6,9l-9.6,-1.8z"/>
<path class="k5" d="M1417.5,523.7l10.9,1.6l2,2l-10.9,-1.6z"/>
<path class="k6" d="M1393.6,518.0l10.8,1.6l2.2,2.5l-10.7,-1.6z"/>
<path class="k4" d="M1441.4,528.9l11.1,1.6l1.7,1.5l-11,-1.6z"/>
<path class="k3" d="M1465.3,533.6l11.2,1.6l1.5,1.2l-11.1,-1.6z"/>
<path class="k7" d="M1369.7,511.5l10.7,1.7l2.4,3.1l-10.6,-1.6z"/>
<path class="k2" d="M1489.2,537.9l11.3,1.6l1.3,0.8l-11.2,-1.6z"/>
<path class="k8" d="M1345.8,504.4l10.6,1.7l2.7,3.8l-10.5,-1.7z"/>
<path class="k2" d="M1513.1,541.9l11.5,1.5l1,0.9l-11.3,-1.6z"/>
<path class="k1" d="M1537.0,545.9l11.6,1.7l0.8,0.9l-11.5,-1.6z"/>
<path class="k10" d="M1321.9,496.3l10.4,1.8l3,4.6l-10.4,-1.7z"/>
<path class="k1" d="M1561.0,550.1l11.7,1.6l0.5,0.4l-11.5,-1.5z"/>
<path class="k9" d="M1297.9,487.2l10.4,1.8l3.2,5.5l-10.3,-1.7z"/>
<path class="k12" d="M1273.9,477.1l10.3,1.9l3.4,6.4l-10.1,-1.8z"/>
<path class="k13" d="M1249.9,465.6l10.2,1.9l3.7,7.8l-10.1,-1.9z"/>
<path class="k18" d="M1225.9,453.5l10,1.9l4,8.3l-10,-1.9z"/>
<path class="k19" d="M1201.8,441.2l9.9,1.9l4.2,8.5l-9.8,-1.8z"/>
<path class="k20" d="M1177.6,428.6l9.8,1.8l4.5,9l-9.7,-1.8z"/>
<path class="k5" d="M1428.4,525.3l11.1,1.6l1.9,2l-11,-1.6z"/>
<path class="k6" d="M1404.4,519.6l11,1.7l2.1,2.4l-10.9,-1.6z"/>
<path class="k4" d="M1452.5,530.5l11.1,1.6l1.7,1.5l-11.1,-1.6z"/>
<path class="k7" d="M1380.4,513.2l10.8,1.7l2.4,3.1l-10.8,-1.7z"/>
<path class="k3" d="M1476.5,535.2l11.3,1.6l1.4,1.1l-11.2,-1.5z"/>
<path class="k2" d="M1500.5,539.5l11.5,1.6l1.1,0.8l-11.3,-1.6z"/>
<path class="k8" d="M1356.4,506.1l10.7,1.7l2.6,3.7l-10.6,-1.6z"/>
<path class="k21" d="M1153.4,415.5l9.7,1.8l4.8,9.4l-9.6,-1.8z"/>
<path class="k2" d="M1524.6,543.4l11.5,1.6l0.9,0.9l-11.4,-1.6z"/>
<path class="k1" d="M1548.6,547.6l11.7,1.6l0.7,0.9l-11.6,-1.6z"/>
<path class="k10" d="M1332.3,498.1l10.6,1.8l2.9,4.5l-10.5,-1.7z"/>
<path class="k9" d="M1308.3,489.0l10.5,1.8l3.1,5.5l-10.4,-1.8z"/>
<path class="k12" d="M1284.2,479.0l10.4,1.9l3.3,6.3l-10.3,-1.8z"/>
<path class="k13" d="M1260.1,467.5l10.2,2l3.6,7.6l-10.1,-1.8z"/>
<path class="k18" d="M1235.9,455.4l10.1,1.9l3.9,8.3l-10,-1.9z"/>
<path class="k19" d="M1211.7,443.1l10,1.9l4.2,8.5l-10,-1.9z"/>
<path class="k20" d="M1187.4,430.4l9.9,1.9l4.5,8.9l-9.9,-1.8z"/>
<path class="k5" d="M1439.5,526.9l11.2,1.7l1.8,1.9l-11.1,-1.6z"/>
<path class="k5" d="M1415.4,521.3l11,1.7l2,2.3l-10.9,-1.6z"/>
<path class="k4" d="M1463.6,532.1l11.3,1.6l1.6,1.5l-11.2,-1.6z"/>
<path class="k6" d="M1391.2,514.9l11,1.7l2.2,3l-10.8,-1.6z"/>
<path class="k3" d="M1487.8,536.8l11.4,1.7l1.3,1l-11.3,-1.6z"/>
<path class="k21" d="M1163.1,417.3l9.8,1.9l4.7,9.4l-9.7,-1.9z"/>
<path class="k8" d="M1367.1,507.8l10.8,1.8l2.5,3.6l-10.7,-1.7z"/>
<path class="k2" d="M1512.0,541.1l11.5,1.6l1.1,0.7l-11.5,-1.5z"/>
<path class="k2" d="M1536.1,545.0l11.7,1.7l0.8,0.9l-11.6,-1.7z"/>
<path class="k10" d="M1342.9,499.9l10.7,1.8l2.8,4.4l-10.6,-1.7z"/>
<path class="k1" d="M1560.3,549.2l11.8,1.7l0.6,0.8l-11.7,-1.6z"/>
<path class="k9" d="M1318.8,490.8l10.5,1.9l3,5.4l-10.4,-1.8z"/>
<path class="k12" d="M1294.6,480.9l10.4,1.9l3.3,6.2l-10.4,-1.8z"/>
<path class="k13" d="M1270.3,469.5l10.4,1.9l3.5,7.6l-10.3,-1.9z"/>
<path class="k18" d="M1246.0,457.3l10.3,1.9l3.8,8.3l-10.2,-1.9z"/>
<path class="k16" d="M1221.7,445.0l10.1,1.9l4.1,8.5l-10,-1.9z"/>
<path class="k20" d="M1197.3,432.3l10,1.8l4.4,9l-9.9,-1.9z"/>
<path class="k4" d="M1450.7,528.6l11.3,1.7l1.6,1.8l-11.1,-1.6z"/>
<path class="k5" d="M1426.4,523.0l11.2,1.7l1.9,2.2l-11.1,-1.6z"/>
<path class="k4" d="M1474.9,533.7l11.5,1.7l1.4,1.4l-11.3,-1.6z"/>
<path class="k6" d="M1402.2,516.6l11,1.8l2.2,2.9l-11,-1.7z"/>
<path class="k21" d="M1172.9,419.2l9.9,1.8l4.6,9.4l-9.8,-1.8z"/>
<path class="k3" d="M1499.2,538.5l11.6,1.6l1.2,1l-11.5,-1.6z"/>
<path class="k7" d="M1377.9,509.6l10.9,1.7l2.4,3.6l-10.8,-1.7z"/>
<path class="k2" d="M1523.5,542.7l11.7,1.7l0.9,0.6l-11.5,-1.6z"/>
<path class="k2" d="M1547.8,546.7l11.8,1.6l0.7,0.9l-11.7,-1.6z"/>
<path class="k10" d="M1353.6,501.7l10.8,1.8l2.7,4.3l-10.7,-1.7z"/>
<path class="k9" d="M1329.3,492.7l10.7,1.8l2.9,5.4l-10.6,-1.8z"/>
<path class="k22" d="M1148.4,405.5l9.8,1.8l4.9,10l-9.7,-1.8z"/>
<path class="k12" d="M1305.0,482.8l10.6,1.8l3.2,6.2l-10.5,-1.8z"/>
<path class="k14" d="M1280.7,471.4l10.4,2l3.5,7.5l-10.4,-1.9z"/>
<path class="k15" d="M1256.3,459.2l10.3,1.9l3.7,8.4l-10.2,-2z"/>
<path class="k16" d="M1231.8,446.9l10.2,1.9l4,8.5l-10.1,-1.9z"/>
<path class="k17" d="M1207.3,434.1l10.1,1.9l4.3,9l-10,-1.9z"/>
<path class="k4" d="M1462.0,530.3l11.4,1.6l1.5,1.8l-11.3,-1.6z"/>
<path class="k5" d="M1437.6,524.7l11.3,1.7l1.8,2.2l-11.2,-1.7z"/>
<path class="k23" d="M1182.8,421.0l10,1.8l4.5,9.5l-9.9,-1.9z"/>
<path class="k4" d="M1486.4,535.4l11.5,1.7l1.3,1.4l-11.4,-1.7z"/>
<path class="k6" d="M1413.2,518.4l11.2,1.7l2,2.9l-11,-1.7z"/>
<path class="k3" d="M1510.8,540.1l11.6,1.6l1.1,1l-11.5,-1.6z"/>
<path class="k7" d="M1388.8,511.3l11.1,1.8l2.3,3.5l-11,-1.7z"/>
<path class="k2" d="M1535.2,544.4l11.8,1.6l0.8,0.7l-11.7,-1.7z"/>
<path class="k2" d="M1559.6,548.3l11.9,1.7l0.6,0.9l-11.8,-1.7z"/>
<path class="k10" d="M1364.4,503.5l10.9,1.8l2.6,4.3l-10.8,-1.8z"/>
<path class="k9" d="M1340.0,494.5l10.8,1.9l2.8,5.3l-10.7,-1.8z"/>
<path class="k22" d="M1158.2,407.3l9.9,1.9l4.8,10l-9.8,-1.9z"/>
<path class="k11" d="M1315.6,484.6l10.7,1.9l3,6.2l-10.5,-1.9z"/>
<path class="k14" d="M1291.1,473.4l10.6,2l3.3,7.4l-10.4,-1.9z"/>
<path class="k15" d="M1266.6,461.1l10.4,2l3.7,8.3l-10.4,-1.9z"/>
<path class="k16" d="M1242.0,448.8l10.4,1.9l3.9,8.5l-10.3,-1.9z"/>
<path class="k17" d="M1217.4,436.0l10.3,1.9l4.1,9l-10.1,-1.9z"/>
<path class="k23" d="M1192.8,422.8l10.1,1.9l4.4,9.4l-10,-1.8z"/>
<path class="k5" d="M1448.9,526.4l11.4,1.7l1.7,2.2l-11.3,-1.7z"/>
<path class="k4" d="M1473.4,531.9l11.5,1.7l1.5,1.8l-11.5,-1.7z"/>
<path class="k4" d="M1497.9,537.1l11.7,1.6l1.2,1.4l-11.6,-1.6z"/>
<path class="k6" d="M1424.4,520.1l11.2,1.7l2,2.9l-11.2,-1.7z"/>
<path class="k3" d="M1522.4,541.7l11.8,1.7l1,1l-11.7,-1.7z"/>
<path class="k7" d="M1399.9,513.1l11.1,1.8l2.2,3.5l-11,-1.8z"/>
<path class="k2" d="M1547.0,546.0l11.9,1.6l0.7,0.7l-11.8,-1.6z"/>
<path class="k8" d="M1375.3,505.3l11.1,1.8l2.4,4.2l-10.9,-1.7z"/>
<path class="k9" d="M1350.8,496.4l10.9,1.9l2.7,5.2l-10.8,-1.8z"/>
<path class="k24" d="M1168.1,409.2l10,1.9l4.7,9.9l-9.9,-1.8z"/>
<path class="k11" d="M1326.3,486.5l10.7,1.9l3,6.1l-10.7,-1.8z"/>
<path class="k14" d="M1301.7,475.4l10.6,2l3.3,7.2l-10.6,-1.8z"/>
<path class="k25" d="M1143.3,394.3l9.9,1.9l5,11.1l-9.8,-1.8z"/>
<path class="k15" d="M1277.0,463.1l10.6,2l3.5,8.3l-10.4,-2z"/>
<path class="k16" d="M1252.4,450.7l10.4,1.9l3.8,8.5l-10.3,-1.9z"/>
<path class="k17" d="M1227.7,437.9l10.3,1.9l4,9l-10.2,-1.9z"/>
<path class="k23" d="M1202.9,424.7l10.2,1.9l4.3,9.4l-10.1,-1.9z"/>
<path class="k5" d="M1460.3,528.1l11.5,1.7l1.6,2.1l-11.4,-1.6z"/>
<path class="k4" d="M1484.9,533.6l11.7,1.7l1.3,1.8l-11.5,-1.7z"/>
<path class="k6" d="M1435.6,521.8l11.4,1.8l1.9,2.8l-11.3,-1.7z"/>
<path class="k3" d="M1509.6,538.7l11.7,1.7l1.1,1.3l-11.6,-1.6z"/>
<path class="k3" d="M1534.2,543.4l11.9,1.7l0.9,0.9l-11.8,-1.6z"/>
<path class="k7" d="M1411.0,514.9l11.3,1.8l2.1,3.4l-11.2,-1.7z"/>
<path class="k2" d="M1558.9,547.6l12,1.7l0.6,0.7l-11.9,-1.7z"/>
<path class="k8" d="M1386.4,507.1l11.1,1.9l2.4,4.1l-11.1,-1.8z"/>
<path class="k9" d="M1361.7,498.3l11,1.9l2.6,5.1l-10.9,-1.8z"/>
<path class="k24" d="M1178.1,411.1l10.1,1.9l4.6,9.8l-10,-1.8z"/>
<path class="k11" d="M1337.0,488.4l10.9,2l2.9,6l-10.8,-1.9z"/>
<path class="k14" d="M1312.3,477.4l10.8,2l3.2,7.1l-10.7,-1.9z"/>
<path class="k26" d="M1153.2,396.2l10,2l4.9,11l-9.9,-1.9z"/>
<path class="k15" d="M1287.6,465.1l10.7,2l3.4,8.3l-10.6,-2z"/>
<path class="k16" d="M1262.8,452.6l10.5,2l3.7,8.5l-10.4,-2z"/>
<path class="k17" d="M1238.0,439.8l10.4,2l4,8.9l-10.4,-1.9z"/>
<path class="k23" d="M1213.1,426.6l10.3,1.9l4.3,9.4l-10.3,-1.9z"/>
<path class="k5" d="M1471.8,529.8l11.6,1.7l1.5,2.1l-11.5,-1.7z"/>
<path class="k4" d="M1496.6,535.3l11.7,1.8l1.3,1.6l-11.7,-1.6z"/>
<path class="k6" d="M1447.0,523.6l11.6,1.8l1.7,2.7l-11.4,-1.7z"/>
<path class="k3" d="M1521.3,540.4l11.9,1.8l1,1.2l-11.8,-1.7z"/>
<path class="k7" d="M1422.3,516.7l11.4,1.8l1.9,3.3l-11.2,-1.7z"/>
<path class="k3" d="M1546.1,545.1l12.1,1.7l0.7,0.8l-11.9,-1.6z"/>
<path class="k8" d="M1397.5,509.0l11.3,1.8l2.2,4.1l-11.1,-1.8z"/>
<path class="k24" d="M1188.2,413.0l10.1,1.9l4.6,9.8l-10.1,-1.9z"/>
<path class="k9" d="M1372.7,500.2l11.2,1.9l2.5,5l-11.1,-1.8z"/>
<path class="k11" d="M1347.9,490.4l11.1,1.9l2.7,6l-10.9,-1.9z"/>
<path class="k26" d="M1163.2,398.2l10,1.9l4.9,11l-10,-1.9z"/>
<path class="k14" d="M1323.1,479.4l10.9,2l3,7l-10.7,-1.9z"/>
<path class="k15" d="M1298.3,467.1l10.7,2l3.3,8.3l-10.6,-2z"/>
<path class="k27" d="M1138.1,382.0l9.9,2l5.2,12.2l-9.9,-1.9z"/>
<path class="k16" d="M1273.3,454.6l10.7,2l3.6,8.5l-10.6,-2z"/>
<path class="k17" d="M1248.4,441.8l10.5,1.9l3.9,8.9l-10.4,-1.9z"/>
<path class="k23" d="M1223.4,428.5l10.4,1.9l4.2,9.4l-10.3,-1.9z"/>
<path class="k5" d="M1483.4,531.5l11.8,1.8l1.4,2l-11.7,-1.7z"/>
<path class="k4" d="M1508.3,537.1l11.9,1.7l1.1,1.6l-11.7,-1.7z"/>
<path class="k6" d="M1458.6,525.4l11.6,1.8l1.6,2.6l-11.5,-1.7z"/>
<path class="k3" d="M1533.2,542.2l12.1,1.7l0.8,1.2l-11.9,-1.7z"/>
<path class="k7" d="M1433.7,518.5l11.5,1.8l1.8,3.3l-11.4,-1.8z"/>
<path class="k3" d="M1558.2,546.8l12.1,1.7l0.6,0.8l-12,-1.7z"/>
<path class="k8" d="M1408.8,510.8l11.4,1.9l2.1,4l-11.3,-1.8z"/>
<path class="k24" d="M1198.3,414.9l10.3,1.9l4.5,9.8l-10.2,-1.9z"/>
<path class="k10" d="M1383.9,502.1l11.2,1.9l2.4,5l-11.1,-1.9z"/>
<path class="k11" d="M1359.0,492.3l11.1,1.9l2.6,6l-11,-1.9z"/>
<path class="k26" d="M1173.2,400.1l10.2,2l4.8,10.9l-10.1,-1.9z"/>
<path class="k14" d="M1334.0,481.4l11,2.1l2.9,6.9l-10.9,-2z"/>
<path class="k13" d="M1309.0,469.1l10.9,2.1l3.2,8.2l-10.8,-2z"/>
<path class="k28" d="M1148.0,384.0l10.1,2l5.1,12.2l-10,-2z"/>
<path class="k18" d="M1284.0,456.6l10.8,2l3.5,8.5l-10.7,-2z"/>
<path class="k19" d="M1258.9,443.7l10.7,2l3.7,8.9l-10.5,-2z"/>
<path class="k20" d="M1233.8,430.4l10.5,1.9l4.1,9.5l-10.4,-2z"/>
<path class="k5" d="M1495.2,533.3l11.9,1.8l1.2,2l-11.7,-1.8z"/>
<path class="k4" d="M1520.2,538.8l12.1,1.8l0.9,1.6l-11.9,-1.8z"/>
<path class="k6" d="M1470.2,527.2l11.7,1.8l1.5,2.5l-11.6,-1.7z"/>
<path class="k3" d="M1545.3,543.9l12.1,1.7l0.8,1.2l-12.1,-1.7z"/>
<path class="k7" d="M1445.2,520.3l11.6,1.8l1.8,3.3l-11.6,-1.8z"/>
<path class="k8" d="M1420.2,512.7l11.4,1.8l2.1,4l-11.4,-1.8z"/>
<path class="k24" d="M1208.6,416.8l10.4,1.9l4.4,9.8l-10.3,-1.9z"/>
<path class="k10" d="M1395.1,504.0l11.4,1.9l2.3,4.9l-11.3,-1.8z"/>
<path class="k11" d="M1370.1,494.2l11.2,2l2.6,5.9l-11.2,-1.9z"/>
<path class="k26" d="M1183.4,402.1l10.3,2l4.6,10.8l-10.1,-1.9z"/>
<path class="k12" d="M1345.0,483.5l11.1,2l2.9,6.8l-11.1,-1.9z"/>
<path class="k13" d="M1319.9,471.2l11,2.1l3.1,8.1l-10.9,-2z"/>
<path class="k28" d="M1158.1,386.0l10.1,2l5,12.1l-10,-1.9z"/>
<path class="k18" d="M1294.8,458.6l10.8,2l3.4,8.5l-10.7,-2z"/>
<path class="k29" d="M1132.7,368.8l10,2l5.3,13.2l-9.9,-2z"/>
<path class="k19" d="M1269.6,445.7l10.7,2l3.7,8.9l-10.7,-2z"/>
<path class="k20" d="M1244.3,432.3l10.7,2l3.9,9.4l-10.5,-1.9z"/>
<path class="k5" d="M1507.1,535.1l12,1.8l1.1,1.9l-11.9,-1.7z"/>
<path class="k4" d="M1532.3,540.6l12.1,1.7l0.9,1.6l-12.1,-1.7z"/>
<path class="k6" d="M1481.9,529.0l11.9,1.8l1.4,2.5l-11.8,-1.8z"/>
<path class="k3" d="M1557.4,545.6l12.3,1.8l0.6,1.1l-12.1,-1.7z"/>
<path class="k7" d="M1456.8,522.1l11.7,1.9l1.7,3.2l-11.6,-1.8z"/>
<path class="k8" d="M1431.6,514.5l11.7,1.9l1.9,3.9l-11.5,-1.8z"/>
<path class="k21" d="M1219.0,418.7l10.5,1.9l4.3,9.8l-10.4,-1.9z"/>
<path class="k10" d="M1406.5,505.9l11.5,1.9l2.2,4.9l-11.4,-1.9z"/>
<path class="k11" d="M1381.3,496.2l11.4,2l2.4,5.8l-11.2,-1.9z"/>
<path class="k26" d="M1193.7,404.1l10.4,2l4.5,10.7l-10.3,-1.9z"/>
<path class="k12" d="M1356.1,485.5l11.3,2l2.7,6.7l-11.1,-1.9z"/>
<path class="k13" d="M1330.9,473.3l11.1,2.1l3,8.1l-11,-2.1z"/>
<path class="k28" d="M1168.2,388.0l10.3,2l4.9,12.1l-10.2,-2z"/>
<path class="k18" d="M1305.6,460.6l11,2l3.3,8.6l-10.9,-2.1z"/>
<path class="k29" d="M1142.7,370.8l10.2,2l5.2,13.2l-10.1,-2z"/>
<path class="k19" d="M1280.3,447.7l10.9,2l3.6,8.9l-10.8,-2z"/>
<path class="k20" d="M1255.0,434.3l10.7,2l3.9,9.4l-10.7,-2z"/>
<path class="k5" d="M1519.1,536.9l12.2,1.8l1,1.9l-12.1,-1.8z"/>
<path class="k6" d="M1493.8,530.8l12,1.8l1.3,2.5l-11.9,-1.8z"/>
<path class="k4" d="M1544.4,542.3l12.3,1.8l0.7,1.5l-12.1,-1.7z"/>
<path class="k7" d="M1468.5,524.0l11.9,1.8l1.5,3.2l-11.7,-1.8z"/>
<path class="k8" d="M1443.3,516.4l11.7,1.9l1.8,3.8l-11.6,-1.8z"/>
<path class="k21" d="M1229.5,420.6l10.7,2l4.1,9.7l-10.5,-1.9z"/>
<path class="k10" d="M1418.0,507.8l11.6,2l2,4.7l-11.4,-1.8z"/>
<path class="k11" d="M1392.7,498.2l11.5,2l2.3,5.7l-11.4,-1.9z"/>
<path class="k22" d="M1204.1,406.1l10.5,1.9l4.4,10.7l-10.4,-1.9z"/>
<path class="k12" d="M1367.4,487.5l11.3,2.1l2.6,6.6l-11.2,-2z"/>
<path class="k13" d="M1342.0,475.4l11.2,2.1l2.9,8l-11.1,-2z"/>
<path class="k28" d="M1178.5,390.0l10.4,2.1l4.8,12l-10.3,-2z"/>
<path class="k18" d="M1316.6,462.6l11.1,2l3.2,8.7l-11,-2.1z"/>
<path class="k30" d="M1152.9,372.8l10.2,2.1l5.1,13.1l-10.1,-2z"/>
<path class="k19" d="M1291.2,449.7l11,2l3.4,8.9l-10.8,-2z"/>
<path class="k20" d="M1265.7,436.3l10.8,2l3.8,9.4l-10.7,-2z"/>
<path class="k31" d="M1127.1,354.7l10.2,2l5.4,14.1l-10,-2z"/>
<path class="k5" d="M1531.3,538.7l12.2,1.8l0.9,1.8l-12.1,-1.7z"/>
<path class="k6" d="M1505.8,532.6l12.2,1.9l1.1,2.4l-12,-1.8z"/>
<path class="k4" d="M1556.7,544.1l12.4,1.8l0.6,1.5l-12.3,-1.8z"/>
<path class="k7" d="M1480.4,525.8l12,1.9l1.4,3.1l-11.9,-1.8z"/>
<path class="k21" d="M1240.2,422.6l10.7,1.9l4.1,9.8l-10.7,-2z"/>
<path class="k8" d="M1455.0,518.3l11.9,1.9l1.6,3.8l-11.7,-1.9z"/>
<path class="k10" d="M1429.6,509.8l11.7,1.9l2,4.7l-11.7,-1.9z"/>
<path class="k9" d="M1404.2,500.2l11.6,2l2.2,5.6l-11.5,-1.9z"/>
<path class="k22" d="M1214.6,408.0l10.6,2l4.3,10.6l-10.5,-1.9z"/>
<path class="k12" d="M1378.7,489.6l11.5,2l2.5,6.6l-11.4,-2z"/>
<path class="k13" d="M1353.2,477.5l11.4,2.1l2.8,7.9l-11.3,-2z"/>
<path class="k28" d="M1188.9,392.1l10.5,2l4.7,12l-10.4,-2z"/>
<path class="k18" d="M1327.7,464.6l11.2,2.1l3.1,8.7l-11.1,-2.1z"/>
<path class="k30" d="M1163.1,374.9l10.4,2l5,13.1l-10.3,-2z"/>
<path class="k19" d="M1302.2,451.7l11,2l3.4,8.9l-11,-2z"/>
<path class="k20" d="M1276.5,438.3l11,2l3.7,9.4l-10.9,-2z"/>
<path class="k31" d="M1137.3,356.7l10.2,2.1l5.4,14l-10.2,-2z"/>
<path class="k5" d="M1543.5,540.5l12.4,1.8l0.8,1.8l-12.3,-1.8z"/>
<path class="k5" d="M1518.0,534.5l12.2,1.8l1.1,2.4l-12.2,-1.8z"/>
<path class="k6" d="M1492.4,527.7l12.2,1.9l1.2,3l-12,-1.8z"/>
<path class="k21" d="M1250.9,424.5l10.8,2l4,9.8l-10.7,-2z"/>
<path class="k8" d="M1466.9,520.2l12,1.9l1.5,3.7l-11.9,-1.8z"/>
<path class="k10" d="M1441.3,511.7l11.9,2l1.8,4.6l-11.7,-1.9z"/>
<path class="k9" d="M1415.8,502.2l11.7,2l2.1,5.6l-11.6,-2z"/>
<path class="k22" d="M1225.2,410.0l10.7,2l4.3,10.6l-10.7,-2z"/>
<path class="k12" d="M1390.2,491.6l11.6,2.1l2.4,6.5l-11.5,-2z"/>
<path class="k13" d="M1364.6,479.6l11.5,2.1l2.6,7.9l-11.3,-2.1z"/>
<path class="k25" d="M1199.4,394.1l10.6,2.1l4.6,11.8l-10.5,-1.9z"/>
<path class="k18" d="M1338.9,466.7l11.4,2.1l2.9,8.7l-11.2,-2.1z"/>
<path class="k30" d="M1173.5,376.9l10.5,2.1l4.9,13.1l-10.4,-2.1z"/>
<path class="k19" d="M1313.2,453.7l11.3,2.1l3.2,8.8l-11.1,-2z"/>
<path class="k20" d="M1287.5,440.3l11.1,2l3.6,9.4l-11,-2z"/>
<path class="k31" d="M1147.5,358.8l10.4,2l5.2,14.1l-10.2,-2.1z"/>
<path class="k5" d="M1555.9,542.3l12.6,1.8l0.6,1.8l-12.4,-1.8z"/>
<path class="k5" d="M1530.2,536.3l12.4,1.9l0.9,2.3l-12.2,-1.8z"/>
<path class="k6" d="M1504.6,529.6l12.2,1.9l1.2,3l-12.2,-1.9z"/>
<path class="k21" d="M1261.7,426.5l11,2l3.8,9.8l-10.8,-2z"/>
<path class="k7" d="M1478.9,522.1l12.1,2l1.4,3.6l-12,-1.9z"/>
<path class="k10" d="M1453.2,513.7l12,2l1.7,4.5l-11.9,-1.9z"/>
<path class="k9" d="M1427.5,504.2l11.8,2l2,5.5l-11.7,-1.9z"/>
<path class="k32" d="M1121.5,339.9l10.2,2l5.6,14.8l-10.2,-2z"/>
<path class="k22" d="M1235.9,412.0l10.8,2.1l4.2,10.4l-10.7,-1.9z"/>
<path class="k12" d="M1401.8,493.7l11.7,2.1l2.3,6.4l-11.6,-2z"/>
<path class="k14" d="M1376.1,481.7l11.5,2.2l2.6,7.7l-11.5,-2z"/>
<path class="k25" d="M1210.0,396.2l10.7,2l4.5,11.8l-10.6,-2z"/>
<path class="k15" d="M1350.3,468.8l11.4,2.1l2.9,8.7l-11.4,-2.1z"/>
<path class="k30" d="M1184.0,379.0l10.6,2.1l4.8,13l-10.5,-2z"/>
<path class="k16" d="M1324.5,455.8l11.3,2.1l3.1,8.8l-11.2,-2.1z"/>
<path class="k17" d="M1298.6,442.3l11.2,2.1l3.4,9.3l-11,-2z"/>
<path class="k33" d="M1157.9,360.8l10.4,2.1l5.2,14l-10.4,-2z"/>
<path class="k5" d="M1542.6,538.2l12.6,1.9l0.7,2.2l-12.4,-1.8z"/>
<path class="k23" d="M1272.7,428.5l11.1,2l3.7,9.8l-11,-2z"/>
<path class="k6" d="M1516.8,531.5l12.4,1.9l1,2.9l-12.2,-1.8z"/>
<path class="k7" d="M1491.0,524.1l12.2,1.9l1.4,3.6l-12.2,-1.9z"/>
<path class="k10" d="M1465.2,515.7l12.1,2l1.6,4.4l-12,-1.9z"/>
<path class="k32" d="M1131.7,341.9l10.3,2.1l5.5,14.8l-10.2,-2.1z"/>
<path class="k9" d="M1439.3,506.2l12,2.1l1.9,5.4l-11.9,-2z"/>
<path class="k22" d="M1246.7,414.1l11,2l4,10.4l-10.8,-2z"/>
<path class="k12" d="M1413.5,495.8l11.9,2.1l2.1,6.3l-11.7,-2z"/>
<path class="k14" d="M1387.6,483.9l11.8,2.2l2.4,7.6l-11.6,-2.1z"/>
<path class="k25" d="M1220.7,398.2l10.8,2.1l4.4,11.7l-10.7,-2z"/>
<path class="k15" d="M1361.7,470.9l11.6,2.2l2.8,8.6l-11.5,-2.1z"/>
<path class="k27" d="M1194.6,381.1l10.7,2.1l4.7,13l-10.6,-2.1z"/>
<path class="k16" d="M1335.8,457.9l11.5,2.1l3,8.8l-11.4,-2.1z"/>
<path class="k17" d="M1309.8,444.4l11.3,2.1l3.4,9.3l-11.3,-2.1z"/>
<path class="k33" d="M1168.3,362.9l10.6,2.1l5.1,14l-10.5,-2.1z"/>
<path class="k23" d="M1283.8,430.5l11.2,2l3.6,9.8l-11.1,-2z"/>
<path class="k5" d="M1555.2,540.1l12.6,1.9l0.7,2.1l-12.6,-1.8z"/>
<path class="k6" d="M1529.2,533.4l12.5,2l0.9,2.8l-12.4,-1.9z"/>
<path class="k7" d="M1503.2,526.0l12.4,2l1.2,3.5l-12.2,-1.9z"/>
<path class="k8" d="M1477.3,517.7l12.2,2l1.5,4.4l-12.1,-2z"/>
<path class="k32" d="M1142.0,344.0l10.5,2l5.4,14.8l-10.4,-2z"/>
<path class="k9" d="M1451.3,508.3l12.1,2l1.8,5.4l-12,-2z"/>
<path class="k24" d="M1257.7,416.1l11,2l4,10.4l-11,-2z"/>
<path class="k11" d="M1425.4,497.9l11.9,2l2,6.3l-11.8,-2z"/>
<path class="k14" d="M1399.4,486.1l11.8,2.1l2.3,7.6l-11.7,-2.1z"/>
<path class="k25" d="M1231.5,400.3l10.9,2.1l4.3,11.7l-10.8,-2.1z"/>
<path class="k34" d="M1115.6,324.5l10.4,2l5.7,15.4l-10.2,-2z"/>
<path class="k15" d="M1373.3,473.1l11.7,2.1l2.6,8.7l-11.5,-2.2z"/>
<path class="k27" d="M1205.3,383.2l10.8,2.1l4.6,12.9l-10.7,-2z"/>
<path class="k16" d="M1347.3,460.0l11.5,2.1l2.9,8.8l-11.4,-2.1z"/>
<path class="k17" d="M1321.1,446.5l11.5,2.1l3.2,9.3l-11.3,-2.1z"/>
<path class="k33" d="M1178.9,365.0l10.7,2.1l5,14l-10.6,-2.1z"/>
<path class="k23" d="M1295.0,432.5l11.3,2.1l3.5,9.8l-11.2,-2.1z"/>
<path class="k6" d="M1541.7,535.4l12.7,1.9l0.8,2.8l-12.6,-1.9z"/>
<path class="k7" d="M1515.6,528.0l12.6,2l1,3.4l-12.4,-1.9z"/>
<path class="k8" d="M1489.5,519.7l12.4,2.1l1.3,4.2l-12.2,-1.9z"/>
<path class="k32" d="M1152.5,346.0l10.6,2.1l5.2,14.8l-10.4,-2.1z"/>
<path class="k9" d="M1463.4,510.3l12.3,2.1l1.6,5.3l-12.1,-2z"/>
<path class="k24" d="M1268.7,418.1l11.2,2.1l3.9,10.3l-11.1,-2z"/>
<path class="k11" d="M1437.3,499.9l12.1,2.1l1.9,6.3l-12,-2.1z"/>
<path class="k26" d="M1242.4,402.4l11.1,2.1l4.2,11.6l-11,-2z"/>
<path class="k14" d="M1411.2,488.2l12,2.2l2.2,7.5l-11.9,-2.1z"/>
<path class="k34" d="M1126.0,326.5l10.4,2l5.6,15.5l-10.3,-2.1z"/>
<path class="k15" d="M1385.0,475.2l11.9,2.2l2.5,8.7l-11.8,-2.2z"/>
<path class="k27" d="M1216.1,385.3l10.9,2.2l4.5,12.8l-10.8,-2.1z"/>
<path class="k16" d="M1358.8,462.1l11.7,2.1l2.8,8.9l-11.6,-2.2z"/>
<path class="k17" d="M1332.6,448.6l11.6,2.1l3.1,9.3l-11.5,-2.1z"/>
<path class="k33" d="M1189.6,367.1l10.8,2.1l4.9,14l-10.7,-2.1z"/>
<path class="k23" d="M1306.3,434.6l11.4,2l3.4,9.9l-11.3,-2.1z"/>
<path class="k6" d="M1554.4,537.3l12.8,2l0.6,2.7l-12.6,-1.9z"/>
<path class="k7" d="M1528.2,530.0l12.6,1.9l0.9,3.5l-12.5,-2z"/>
<path class="k35" d="M1163.1,348.1l10.6,2.1l5.2,14.8l-10.6,-2.1z"/>
<path class="k8" d="M1501.9,521.8l12.5,2l1.2,4.2l-12.4,-2z"/>
<path class="k24" d="M1279.9,420.2l11.3,2l3.8,10.3l-11.2,-2z"/>
<path class="k9" d="M1475.7,512.4l12.4,2.1l1.4,5.2l-12.2,-2z"/>
<path class="k11" d="M1449.4,502.0l12.3,2.2l1.7,6.1l-12.1,-2z"/>
<path class="k26" d="M1253.5,404.5l11.2,2.1l4,11.5l-11,-2z"/>
<path class="k14" d="M1423.2,490.4l12.1,2.3l2,7.2l-11.9,-2z"/>
<path class="k36" d="M1136.4,328.5l10.6,2l5.5,15.5l-10.5,-2z"/>
<path class="k15" d="M1396.9,477.4l11.9,2.2l2.4,8.6l-11.8,-2.1z"/>
<path class="k27" d="M1227.0,387.5l11.1,2.1l4.3,12.8l-10.9,-2.1z"/>
<path class="k16" d="M1370.5,464.2l11.9,2.2l2.6,8.8l-11.7,-2.1z"/>
<path class="k37" d="M1109.7,308.7l10.4,1.9l5.9,15.9l-10.4,-2z"/>
<path class="k17" d="M1344.2,450.7l11.7,2.1l2.9,9.3l-11.5,-2.1z"/>
<path class="k29" d="M1200.4,369.2l10.9,2.2l4.8,13.9l-10.8,-2.1z"/>
<path class="k23" d="M1317.7,436.6l11.6,2.1l3.3,9.9l-11.5,-2.1z"/>
<path class="k7" d="M1540.8,531.9l12.8,2.1l0.8,3.3l-12.7,-1.9z"/>
<path class="k35" d="M1173.7,350.2l10.8,2.1l5.1,14.8l-10.7,-2.1z"/>
<path class="k8" d="M1514.4,523.8l12.7,2.1l1.1,4.1l-12.6,-2z"/>
<path class="k24" d="M1291.2,422.2l11.5,2.1l3.6,10.3l-11.3,-2.1z"/>
<path class="k10" d="M1488.1,514.5l12.5,2.1l1.3,5.2l-12.4,-2.1z"/>
<path class="k11" d="M1461.7,504.2l12.4,2.1l1.6,6.1l-12.3,-2.1z"/>
<path class="k26" d="M1264.7,406.6l11.3,2.2l3.9,11.4l-11.2,-2.1z"/>
<path class="k14" d="M1435.3,492.7l12.2,2.2l1.9,7.1l-12.1,-2.1z"/>
<path class="k36" d="M1147.0,330.5l10.6,2.1l5.5,15.5l-10.6,-2.1z"/>
<path class="k15" d="M1408.8,479.6l12.1,2.3l2.3,8.5l-12,-2.2z"/>
<path class="k28" d="M1238.1,389.6l11.1,2.2l4.3,12.7l-11.1,-2.1z"/>
<path class="k37" d="M1120.1,310.6l10.5,2l5.8,15.9l-10.4,-2z"/>
<path class="k18" d="M1382.4,466.4l11.9,2.1l2.6,8.9l-11.9,-2.2z"/>
<path class="k29" d="M1211.3,371.4l11.1,2.2l4.6,13.9l-10.9,-2.2z"/>
<path class="k19" d="M1355.9,452.8l11.8,2.1l2.8,9.3l-11.7,-2.1z"/>
<path class="k20" d="M1329.3,438.7l11.7,2.1l3.2,9.9l-11.6,-2.1z"/>
<path class="k35" d="M1184.5,352.3l10.9,2.1l5,14.8l-10.8,-2.1z"/>
<path class="k7" d="M1553.6,534.0l13,2l0.6,3.3l-12.8,-2z"/>
<path class="k8" d="M1527.1,525.9l12.8,2l0.9,4l-12.6,-1.9z"/>
<path class="k24" d="M1302.7,424.3l11.5,2.1l3.5,10.2l-11.4,-2z"/>
<path class="k10" d="M1500.6,516.6l12.6,2.1l1.2,5.1l-12.5,-2z"/>
<path class="k11" d="M1474.1,506.3l12.5,2.2l1.5,6l-12.4,-2.1z"/>
<path class="k26" d="M1276.0,408.8l11.4,2.1l3.8,11.3l-11.3,-2z"/>
<path class="k36" d="M1157.6,332.6l10.8,2.1l5.3,15.5l-10.6,-2.1z"/>
<path class="k12" d="M1447.5,494.9l12.4,2.2l1.8,7.1l-12.3,-2.2z"/>
<path class="k13" d="M1420.9,481.9l12.3,2.3l2.1,8.5l-12.1,-2.3z"/>
<path class="k28" d="M1249.2,391.8l11.3,2.1l4.2,12.7l-11.2,-2.1z"/>
<path class="k37" d="M1130.6,312.6l10.7,2l5.7,15.9l-10.6,-2z"/>
<path class="k18" d="M1394.3,468.5l12.1,2.2l2.4,8.9l-11.9,-2.2z"/>
<path class="k29" d="M1222.4,373.6l11.1,2.1l4.6,13.9l-11.1,-2.1z"/>
<path class="k19" d="M1367.7,454.9l11.9,2.2l2.8,9.3l-11.9,-2.2z"/>
<path class="k38" d="M1103.6,292.5l10.5,1.9l6,16.2l-10.4,-1.9z"/>
<path class="k20" d="M1341.0,440.8l11.8,2.2l3.1,9.8l-11.7,-2.1z"/>
<path class="k35" d="M1195.4,354.4l11.1,2.2l4.8,14.8l-10.9,-2.2z"/>
<path class="k8" d="M1539.9,527.9l13,2.1l0.7,4l-12.8,-2.1z"/>
<path class="k21" d="M1314.2,426.4l11.7,2.1l3.4,10.2l-11.6,-2.1z"/>
<path class="k10" d="M1513.2,518.7l12.8,2.2l1.1,5l-12.7,-2.1z"/>
<path class="k11" d="M1486.6,508.5l12.6,2.1l1.4,6l-12.5,-2.1z"/>
<path class="k26" d="M1287.4,410.9l11.6,2.2l3.7,11.2l-11.5,-2.1z"/>
<path class="k39" d="M1168.4,334.7l10.9,2.1l5.2,15.5l-10.8,-2.1z"/>
<path class="k12" d="M1459.9,497.1l12.5,2.3l1.7,6.9l-12.4,-2.1z"/>
<path class="k13" d="M1433.2,484.2l12.4,2.2l1.9,8.5l-12.2,-2.2z"/>
<path class="k28" d="M1260.5,393.9l11.4,2.2l4.1,12.7l-11.3,-2.2z"/>
<path class="k40" d="M1141.3,314.6l10.8,2l5.5,16l-10.6,-2.1z"/>
<path class="k18" d="M1406.4,470.7l12.3,2.2l2.2,9l-12.1,-2.3z"/>
<path class="k29" d="M1233.5,375.7l11.3,2.2l4.4,13.9l-11.1,-2.2z"/>
<path class="k19" d="M1379.6,457.1l12.1,2.2l2.6,9.2l-11.9,-2.1z"/>
<path class="k41" d="M1114.1,294.4l10.6,1.9l5.9,16.3l-10.5,-2z"/>
<path class="k20" d="M1352.8,443.0l12,2.1l2.9,9.8l-11.8,-2.1z"/>
<path class="k31" d="M1206.5,356.6l11.1,2.2l4.8,14.8l-11.1,-2.2z"/>
<path class="k8" d="M1552.9,530.0l13.1,2.1l0.6,3.9l-13,-2z"/>
<path class="k21" d="M1325.9,428.5l11.8,2.1l3.3,10.2l-11.7,-2.1z"/>
<path class="k10" d="M1526.0,520.9l13,2.1l0.9,4.9l-12.8,-2z"/>
<path class="k11" d="M1499.2,510.6l12.8,2.2l1.2,5.9l-12.6,-2.1z"/>
<path class="k39" d="M1179.3,336.8l11,2.1l5.1,15.5l-10.9,-2.1z"/>
<path class="k22" d="M1299.0,413.1l11.6,2.1l3.6,11.2l-11.5,-2.1z"/>
<path class="k12" d="M1472.4,499.4l12.7,2.2l1.5,6.9l-12.5,-2.2z"/>
<path class="k13" d="M1445.6,486.4l12.5,2.4l1.8,8.3l-12.4,-2.2z"/>
<path class="k28" d="M1271.9,396.1l11.6,2.2l3.9,12.6l-11.4,-2.1z"/>
<path class="k40" d="M1152.1,316.6l10.9,2l5.4,16.1l-10.8,-2.1z"/>
<path class="k18" d="M1418.7,472.9l12.3,2.3l2.2,9l-12.3,-2.3z"/>
<path class="k30" d="M1244.8,377.9l11.4,2.2l4.3,13.8l-11.3,-2.1z"/>
<path class="k19" d="M1391.7,459.3l12.3,2.2l2.4,9.2l-12.1,-2.2z"/>
<path class="k41" d="M1124.7,296.3l10.8,1.9l5.8,16.4l-10.7,-2z"/>
<path class="k20" d="M1364.8,445.1l12,2.2l2.8,9.8l-11.9,-2.2z"/>
<path class="k31" d="M1217.6,358.8l11.3,2.1l4.6,14.8l-11.1,-2.1z"/>
<path class="k21" d="M1337.7,430.6l12,2.1l3.1,10.3l-11.8,-2.2z"/>
<path class="k42" d="M1097.3,276.2l10.6,1.8l6.2,16.4l-10.5,-1.9z"/>
<path class="k10" d="M1539.0,523.0l13.1,2.2l0.8,4.8l-13,-2.1z"/>
<path class="k9" d="M1512.0,512.8l13,2.3l1,5.8l-12.8,-2.2z"/>
<path class="k39" d="M1190.3,338.9l11.2,2.1l5,15.6l-11.1,-2.2z"/>
<path class="k22" d="M1310.6,415.2l11.9,2.2l3.4,11.1l-11.7,-2.1z"/>
<path class="k12" d="M1485.1,501.6l12.7,2.3l1.4,6.7l-12.6,-2.1z"/>
<path class="k13" d="M1458.1,488.8l12.6,2.3l1.7,8.3l-12.5,-2.3z"/>
<path class="k28" d="M1283.5,398.3l11.7,2.3l3.8,12.5l-11.6,-2.2z"/>
<path class="k40" d="M1163.0,318.6l11,2l5.3,16.2l-10.9,-2.1z"/>
<path class="k18" d="M1431.0,475.2l12.5,2.2l2.1,9l-12.4,-2.2z"/>
<path class="k30" d="M1256.2,380.1l11.6,2.3l4.1,13.7l-11.4,-2.2z"/>
<path class="k19" d="M1404.0,461.5l12.3,2.2l2.4,9.2l-12.3,-2.2z"/>
<path class="k41" d="M1135.5,298.2l10.9,1.9l5.7,16.5l-10.8,-2z"/>
<path class="k20" d="M1376.8,447.3l12.3,2.2l2.6,9.8l-12.1,-2.2z"/>
<path class="k31" d="M1228.9,360.9l11.4,2.3l4.5,14.7l-11.3,-2.2z"/>
<path class="k21" d="M1349.7,432.7l12.1,2.2l3,10.2l-12,-2.1z"/>
<path class="k42" d="M1107.9,278.0l10.8,1.8l6,16.5l-10.6,-1.9z"/>
<path class="k10" d="M1552.1,525.2l13.2,2.2l0.7,4.7l-13.1,-2.1z"/>
<path class="k9" d="M1525.0,515.1l13.1,2.2l0.9,5.7l-13,-2.1z"/>
<path class="k39" d="M1201.5,341.0l11.3,2.2l4.8,15.6l-11.1,-2.2z"/>
<path class="k22" d="M1322.5,417.4l11.9,2.2l3.3,11l-11.8,-2.1z"/>
<path class="k12" d="M1497.8,503.9l13,2.3l1.2,6.6l-12.8,-2.2z"/>
<path class="k13" d="M1470.7,491.1l12.8,2.3l1.6,8.2l-12.7,-2.2z"/>
<path class="k25" d="M1295.2,400.6l11.8,2.2l3.6,12.4l-11.6,-2.1z"/>
<path class="k40" d="M1174.0,320.6l11.1,2.1l5.2,16.2l-11,-2.1z"/>
<path class="k18" d="M1443.5,477.4l12.7,2.3l1.9,9.1l-12.5,-2.4z"/>
<path class="k30" d="M1267.8,382.4l11.6,2.2l4.1,13.7l-11.6,-2.2z"/>
<path class="k19" d="M1416.3,463.7l12.5,2.3l2.2,9.2l-12.3,-2.3z"/>
<path class="k43" d="M1146.4,300.1l11,2l5.6,16.5l-10.9,-2z"/>
<path class="k20" d="M1389.1,449.5l12.3,2.2l2.6,9.8l-12.3,-2.2z"/>
<path class="k31" d="M1240.3,363.2l11.5,2.2l4.4,14.7l-11.4,-2.2z"/>
<path class="k21" d="M1361.8,434.9l12.2,2.2l2.8,10.2l-12,-2.2z"/>
<path class="k44" d="M1118.7,279.8l10.8,1.8l6,16.6l-10.8,-1.9z"/>
<path class="k32" d="M1212.8,343.2l11.4,2.1l4.7,15.6l-11.3,-2.1z"/>
<path class="k9" d="M1538.1,517.3l13.2,2.2l0.8,5.7l-13.1,-2.2z"/>
<path class="k22" d="M1334.4,419.6l12.1,2.2l3.2,10.9l-12,-2.1z"/>
<path class="k12" d="M1510.8,506.2l13.1,2.2l1.1,6.7l-13,-2.3z"/>
<path class="k45" d="M1090.9,259.9l10.7,1.7l6.3,16.4l-10.6,-1.8z"/>
<path class="k14" d="M1483.5,493.4l13,2.4l1.3,8.1l-12.7,-2.3z"/>
<path class="k25" d="M1307.0,402.8l11.9,2.2l3.6,12.4l-11.9,-2.2z"/>
<path class="k34" d="M1185.1,322.7l11.3,2.1l5.1,16.2l-11.2,-2.1z"/>
<path class="k15" d="M1456.2,479.7l12.8,2.4l1.7,9l-12.6,-2.3z"/>
<path class="k30" d="M1279.4,384.6l11.8,2.3l4,13.7l-11.7,-2.3z"/>
<path class="k16" d="M1428.8,466.0l12.7,2.2l2,9.2l-12.5,-2.2z"/>
<path class="k43" d="M1157.4,302.1l11.1,2l5.5,16.5l-11,-2z"/>
<path class="k17" d="M1401.4,451.7l12.5,2.3l2.4,9.7l-12.3,-2.2z"/>
<path class="k33" d="M1251.8,365.4l11.7,2.2l4.3,14.8l-11.6,-2.3z"/>
<path class="k23" d="M1374.0,437.1l12.3,2.1l2.8,10.3l-12.3,-2.2z"/>
<path class="k44" d="M1129.5,281.6l11,1.9l5.9,16.6l-10.9,-1.9z"/>
<path class="k32" d="M1224.2,345.3l11.5,2.2l4.6,15.7l-11.4,-2.3z"/>
<path class="k9" d="M1551.3,519.5l13.4,2.3l0.6,5.6l-13.2,-2.2z"/>
<path class="k22" d="M1346.5,421.8l12.2,2.2l3.1,10.9l-12.1,-2.2z"/>
<path class="k12" d="M1523.9,508.4l13.2,2.3l1,6.6l-13.1,-2.2z"/>
<path class="k45" d="M1101.6,261.6l10.9,1.7l6.2,16.5l-10.8,-1.8z"/>
<path class="k14" d="M1496.5,495.8l13,2.4l1.3,8l-13,-2.3z"/>
<path class="k25" d="M1318.9,405.0l12.1,2.3l3.4,12.3l-11.9,-2.2z"/>
<path class="k34" d="M1196.4,324.8l11.3,2.1l5.1,16.3l-11.3,-2.2z"/>
<path class="k15" d="M1469.0,482.1l12.9,2.3l1.6,9l-12.8,-2.3z"/>
<path class="k27" d="M1291.2,386.9l12,2.3l3.8,13.6l-11.8,-2.2z"/>
<path class="k16" d="M1441.5,468.2l12.8,2.3l1.9,9.2l-12.7,-2.3z"/>
<path class="k43" d="M1168.5,304.1l11.2,2l5.4,16.6l-11.1,-2.1z"/>
<path class="k17" d="M1413.9,454.0l12.7,2.2l2.2,9.8l-12.5,-2.3z"/>
<path class="k33" d="M1263.5,367.6l11.8,2.3l4.1,14.7l-11.6,-2.2z"/>
<path class="k44" d="M1140.5,283.5l11.1,1.8l5.8,16.8l-11,-2z"/>
<path class="k23" d="M1386.3,439.2l12.5,2.3l2.6,10.2l-12.3,-2.2z"/>
<path class="k32" d="M1235.7,347.5l11.6,2.3l4.5,15.6l-11.5,-2.2z"/>
<path class="k24" d="M1358.7,424.0l12.3,2.2l3,10.9l-12.2,-2.2z"/>
<path class="k11" d="M1537.1,510.7l13.4,2.3l0.8,6.5l-13.2,-2.2z"/>
<path class="k45" d="M1112.5,263.3l10.9,1.7l6.1,16.6l-10.8,-1.8z"/>
<path class="k25" d="M1331.0,407.3l12.2,2.3l3.3,12.2l-12.1,-2.2z"/>
<path class="k14" d="M1509.5,498.2l13.3,2.4l1.1,7.8l-13.1,-2.2z"/>
<path class="k34" d="M1207.7,326.9l11.6,2.2l4.9,16.2l-11.4,-2.1z"/>
<path class="k15" d="M1481.9,484.4l13.1,2.4l1.5,9l-13,-2.4z"/>
<path class="k46" d="M1084.3,243.8l10.9,1.5l6.4,16.3l-10.7,-1.7z"/>
<path class="k27" d="M1303.2,389.2l12.1,2.3l3.6,13.5l-11.9,-2.2z"/>
<path class="k16" d="M1454.3,470.5l12.9,2.4l1.8,9.2l-12.8,-2.4z"/>
<path class="k43" d="M1179.7,306.1l11.4,2l5.3,16.7l-11.3,-2.1z"/>
<path class="k17" d="M1426.6,456.2l12.8,2.3l2.1,9.7l-12.7,-2.2z"/>
<path class="k33" d="M1275.3,369.9l11.9,2.3l4,14.7l-11.8,-2.3z"/>
<path class="k44" d="M1151.6,285.3l11.2,2l5.7,16.8l-11.1,-2z"/>
<path class="k23" d="M1398.8,441.5l12.7,2.2l2.4,10.3l-12.5,-2.3z"/>
<path class="k32" d="M1247.3,349.8l11.8,2.2l4.4,15.6l-11.7,-2.2z"/>
<path class="k24" d="M1371.0,426.2l12.5,2.2l2.8,10.8l-12.3,-2.1z"/>
<path class="k47" d="M1123.4,265.0l11.1,1.7l6,16.8l-11,-1.9z"/>
<path class="k11" d="M1550.5,513.0l13.6,2.4l0.6,6.4l-13.4,-2.3z"/>
<path class="k26" d="M1343.2,409.6l12.3,2.3l3.2,12.1l-12.2,-2.2z"/>
<path class="k14" d="M1522.8,500.6l13.4,2.4l0.9,7.7l-13.2,-2.3z"/>
<path class="k36" d="M1219.3,329.1l11.6,2.2l4.8,16.2l-11.5,-2.2z"/>
<path class="k15" d="M1495.0,486.8l13.3,2.4l1.2,9l-13,-2.4z"/>
<path class="k46" d="M1095.2,245.3l10.9,1.6l6.4,16.4l-10.9,-1.7z"/>
<path class="k27" d="M1315.3,391.5l12.2,2.3l3.5,13.5l-12.1,-2.3z"/>
<path class="k16" d="M1467.2,472.9l13.1,2.3l1.6,9.2l-12.9,-2.3z"/>
<path class="k37" d="M1191.1,308.1l11.5,2.1l5.1,16.7l-11.3,-2.1z"/>
<path class="k17" d="M1439.4,458.5l12.9,2.3l2,9.7l-12.8,-2.3z"/>
<path class="k33" d="M1287.2,372.2l12.1,2.3l3.9,14.7l-12,-2.3z"/>
<path class="k38" d="M1162.8,287.3l11.4,1.9l5.5,16.9l-11.2,-2z"/>
<path class="k23" d="M1411.5,443.7l12.8,2.3l2.3,10.2l-12.7,-2.2z"/>
<path class="k35" d="M1259.1,352.0l11.9,2.3l4.3,15.6l-11.8,-2.3z"/>
<path class="k24" d="M1383.5,428.4l12.7,2.3l2.6,10.8l-12.5,-2.3z"/>
<path class="k47" d="M1134.5,266.7l11.2,1.8l5.9,16.8l-11.1,-1.8z"/>
<path class="k26" d="M1355.5,411.9l12.5,2.3l3,12l-12.3,-2.2z"/>
<path class="k14" d="M1536.2,503.0l13.5,2.5l0.8,7.5l-13.4,-2.3z"/>
<path class="k36" d="M1230.9,331.3l11.8,2.1l4.6,16.4l-11.6,-2.3z"/>
<path class="k15" d="M1508.3,489.2l13.4,2.5l1.1,8.9l-13.3,-2.4z"/>
<path class="k46" d="M1106.1,246.9l11.1,1.6l6.2,16.5l-10.9,-1.7z"/>
<path class="k27" d="M1327.5,393.8l12.3,2.3l3.4,13.5l-12.2,-2.3z"/>
<path class="k37" d="M1202.6,310.2l11.6,2.1l5.1,16.8l-11.6,-2.2z"/>
<path class="k16" d="M1480.3,475.2l13.3,2.4l1.4,9.2l-13.1,-2.4z"/>
<path class="k48" d="M1077.6,227.4l10.9,1.5l6.7,16.4l-10.9,-1.5z"/>
<path class="k29" d="M1299.3,374.5l12.2,2.3l3.8,14.7l-12.1,-2.3z"/>
<path class="k17" d="M1452.3,460.8l13.1,2.4l1.8,9.7l-12.9,-2.4z"/>
<path class="k38" d="M1174.2,289.2l11.5,1.9l5.4,17l-11.4,-2z"/>
<path class="k23" d="M1424.3,446.0l12.9,2.2l2.2,10.3l-12.8,-2.3z"/>
<path class="k35" d="M1271.0,354.3l12.1,2.3l4.1,15.6l-11.9,-2.3z"/>
<path class="k24" d="M1396.2,430.7l12.8,2.2l2.5,10.8l-12.7,-2.2z"/>
<path class="k47" d="M1145.7,268.5l11.4,1.8l5.7,17l-11.2,-2z"/>
<path class="k26" d="M1368.0,414.2l12.7,2.3l2.8,11.9l-12.5,-2.2z"/>
<path class="k36" d="M1242.7,333.4l11.9,2.3l4.5,16.3l-11.8,-2.2z"/>
<path class="k14" d="M1549.7,505.5l13.7,2.4l0.7,7.5l-13.6,-2.4z"/>
<path class="k46" d="M1117.2,248.5l11.2,1.6l6.1,16.6l-11.1,-1.7z"/>
<path class="k15" d="M1521.7,491.7l13.5,2.4l1,8.9l-13.4,-2.4z"/>
<path class="k28" d="M1339.8,396.1l12.5,2.4l3.2,13.4l-12.3,-2.3z"/>
<path class="k37" d="M1214.2,312.3l11.8,2.1l4.9,16.9l-11.6,-2.2z"/>
<path class="k18" d="M1493.6,477.6l13.4,2.4l1.3,9.2l-13.3,-2.4z"/>
<path class="k48" d="M1088.5,228.9l11.1,1.5l6.5,16.5l-10.9,-1.6z"/>
<path class="k29" d="M1311.5,376.8l12.4,2.3l3.6,14.7l-12.2,-2.3z"/>
<path class="k19" d="M1465.4,463.2l13.3,2.3l1.6,9.7l-13.1,-2.3z"/>
<path class="k38" d="M1185.7,291.1l11.6,2l5.3,17.1l-11.5,-2.1z"/>
<path class="k20" d="M1437.2,448.2l13.1,2.4l2,10.2l-12.9,-2.3z"/>
<path class="k35" d="M1283.1,356.6l12.2,2.3l4,15.6l-12.1,-2.3z"/>
<path class="k24" d="M1409.0,432.9l12.9,2.3l2.4,10.8l-12.8,-2.3z"/>
<path class="k47" d="M1157.1,270.3l11.5,1.8l5.6,17.1l-11.4,-1.9z"/>
<path class="k26" d="M1380.7,416.5l12.8,2.3l2.7,11.9l-12.7,-2.3z"/>
<path class="k36" d="M1254.6,335.7l12.1,2.2l4.3,16.4l-11.9,-2.3z"/>
<path class="k49" d="M1128.4,250.1l11.3,1.6l6,16.8l-11.2,-1.8z"/>
<path class="k13" d="M1535.2,494.1l13.7,2.5l0.8,8.9l-13.5,-2.5z"/>
<path class="k28" d="M1352.3,398.5l12.7,2.3l3,13.4l-12.5,-2.3z"/>
<path class="k37" d="M1226.0,314.4l11.9,2.1l4.8,16.9l-11.8,-2.1z"/>
<path class="k18" d="M1507.0,480.0l13.5,2.4l1.2,9.3l-13.4,-2.5z"/>
<path class="k48" d="M1099.6,230.4l11.2,1.5l6.4,16.6l-11.1,-1.6z"/>
<path class="k29" d="M1323.9,379.1l12.5,2.4l3.4,14.6l-12.3,-2.3z"/>
<path class="k19" d="M1478.7,465.5l13.4,2.4l1.5,9.7l-13.3,-2.4z"/>
<path class="k41" d="M1197.3,293.1l11.8,2l5.1,17.2l-11.6,-2.1z"/>
<path class="k20" d="M1450.3,450.6l13.3,2.3l1.8,10.3l-13.1,-2.4z"/>
<path class="k50" d="M1070.7,210.8l11.1,1.4l6.7,16.7l-10.9,-1.5z"/>
<path class="k35" d="M1295.3,358.9l12.4,2.3l3.8,15.6l-12.2,-2.3z"/>
<path class="k21" d="M1421.9,435.2l13.1,2.3l2.2,10.7l-12.9,-2.2z"/>
<path class="k42" d="M1168.6,272.1l11.6,1.8l5.5,17.2l-11.5,-1.9z"/>
<path class="k39" d="M1266.7,337.9l12.2,2.3l4.2,16.4l-12.1,-2.3z"/>
<path class="k26" d="M1393.5,418.8l12.9,2.4l2.6,11.7l-12.8,-2.2z"/>
<path class="k49" d="M1139.7,251.7l11.5,1.6l5.9,17l-11.4,-1.8z"/>
<path class="k13" d="M1548.9,496.6l13.9,2.5l0.6,8.8l-13.7,-2.4z"/>
<path class="k28" d="M1365.0,400.8l12.7,2.4l3,13.3l-12.7,-2.3z"/>
<path class="k40" d="M1237.9,316.5l12.1,2.2l4.6,17l-11.9,-2.3z"/>
<path class="k18" d="M1520.5,482.4l13.8,2.4l0.9,9.3l-13.5,-2.4z"/>
<path class="k48" d="M1110.8,231.9l11.3,1.5l6.3,16.7l-11.2,-1.6z"/>
<path class="k29" d="M1336.4,381.5l12.6,2.4l3.3,14.6l-12.5,-2.4z"/>
<path class="k19" d="M1492.1,467.9l13.6,2.4l1.3,9.7l-13.4,-2.4z"/>
<path class="k41" d="M1209.1,295.1l11.9,2.1l5,17.2l-11.8,-2.1z"/>
<path class="k20" d="M1463.6,452.9l13.4,2.4l1.7,10.2l-13.3,-2.3z"/>
<path class="k51" d="M1081.8,212.2l11.1,1.4l6.7,16.8l-11.1,-1.5z"/>
<path class="k31" d="M1307.7,361.2l12.5,2.3l3.7,15.6l-12.4,-2.3z"/>
<path class="k21" d="M1435.0,437.5l13.3,2.3l2,10.8l-13.1,-2.4z"/>
<path class="k42" d="M1180.2,273.9l11.7,1.9l5.4,17.3l-11.6,-2z"/>
<path class="k39" d="M1278.9,340.2l12.3,2.2l4.1,16.5l-12.2,-2.3z"/>
<path class="k22" d="M1406.4,421.2l13.1,2.3l2.4,11.7l-12.9,-2.3z"/>
<path class="k49" d="M1151.2,253.3l11.6,1.7l5.8,17.1l-11.5,-1.8z"/>
<path class="k28" d="M1377.7,403.2l13,2.4l2.8,13.2l-12.8,-2.3z"/>
<path class="k40" d="M1250.0,318.7l12.2,2.2l4.5,17l-12.1,-2.2z"/>
<path class="k18" d="M1534.3,484.8l13.9,2.5l0.7,9.3l-13.7,-2.5z"/>
<path class="k52" d="M1122.1,233.4l11.4,1.5l6.2,16.8l-11.3,-1.6z"/>
<path class="k30" d="M1349.0,383.9l12.8,2.4l3.2,14.5l-12.7,-2.3z"/>
<path class="k19" d="M1505.7,470.3l13.7,2.4l1.1,9.7l-13.5,-2.4z"/>
<path class="k41" d="M1221.0,297.2l12,2l4.9,17.3l-11.9,-2.1z"/>
<path class="k51" d="M1092.9,213.6l11.3,1.4l6.6,16.9l-11.2,-1.5z"/>
<path class="k20" d="M1477.0,455.3l13.6,2.4l1.5,10.2l-13.4,-2.4z"/>
<path class="k31" d="M1320.2,363.5l12.6,2.4l3.6,15.6l-12.5,-2.4z"/>
<path class="k21" d="M1448.3,439.8l13.4,2.4l1.9,10.7l-13.3,-2.3z"/>
<path class="k42" d="M1191.9,275.8l11.9,1.9l5.3,17.4l-11.8,-2z"/>
<path class="k53" d="M1063.7,194.0l11.1,1.3l7,16.9l-11.1,-1.4z"/>
<path class="k39" d="M1291.2,342.4l12.5,2.4l4,16.4l-12.4,-2.3z"/>
<path class="k22" d="M1419.5,423.5l13.3,2.4l2.2,11.6l-13.1,-2.3z"/>
<path class="k49" d="M1162.8,255.0l11.7,1.8l5.7,17.1l-11.6,-1.8z"/>
<path class="k28" d="M1390.7,405.6l13.1,2.4l2.6,13.2l-12.9,-2.4z"/>
<path class="k40" d="M1262.2,320.9l12.3,2.2l4.4,17.1l-12.2,-2.3z"/>
<path class="k18" d="M1548.2,487.3l14,2.5l0.6,9.3l-13.9,-2.5z"/>
<path class="k52" d="M1133.5,234.9l11.6,1.6l6.1,16.8l-11.5,-1.6z"/>
<path class="k30" d="M1361.8,386.3l12.9,2.4l3,14.5l-12.7,-2.4z"/>
<path class="k19" d="M1519.4,472.7l13.9,2.5l1,9.6l-13.8,-2.4z"/>
<path class="k41" d="M1233.0,299.2l12.2,2.1l4.8,17.4l-12.1,-2.2z"/>
<path class="k51" d="M1104.2,215.0l11.4,1.5l6.5,16.9l-11.3,-1.5z"/>
<path class="k20" d="M1490.6,457.7l13.7,2.4l1.4,10.2l-13.6,-2.4z"/>
<path class="k31" d="M1332.8,365.9l12.8,2.4l3.4,15.6l-12.6,-2.4z"/>
<path class="k21" d="M1461.7,442.2l13.6,2.4l1.7,10.7l-13.4,-2.4z"/>
<path class="k44" d="M1203.8,277.7l12,2l5.2,17.5l-11.9,-2.1z"/>
<path class="k54" d="M1074.8,195.3l11.3,1.3l6.8,17l-11.1,-1.4z"/>
<path class="k39" d="M1303.7,344.8l12.7,2.3l3.8,16.4l-12.5,-2.3z"/>
<path class="k22" d="M1432.8,425.9l13.4,2.4l2.1,11.5l-13.3,-2.3z"/>
<path class="k45" d="M1174.5,256.8l11.9,1.7l5.5,17.3l-11.7,-1.9z"/>
<path class="k25" d="M1403.8,408.0l13.2,2.5l2.5,13l-13.1,-2.3z"/>
<path class="k34" d="M1274.5,323.1l12.5,2.3l4.2,17l-12.3,-2.2z"/>
<path class="k52" d="M1145.1,236.5l11.7,1.6l6,16.9l-11.6,-1.7z"/>
<path class="k30" d="M1374.7,388.7l13.1,2.5l2.9,14.4l-13,-2.4z"/>
<path class="k19" d="M1533.3,475.2l14,2.5l0.9,9.6l-13.9,-2.5z"/>
<path class="k43" d="M1245.2,301.3l12.4,2.1l4.6,17.5l-12.2,-2.2z"/>
<path class="k51" d="M1115.6,216.5l11.6,1.4l6.3,17l-11.4,-1.5z"/>
<path class="k20" d="M1504.3,460.1l13.9,2.4l1.2,10.2l-13.7,-2.4z"/>
<path class="k31" d="M1345.6,368.3l12.9,2.4l3.3,15.6l-12.8,-2.4z"/>
<path class="k21" d="M1475.3,444.6l13.7,2.3l1.6,10.8l-13.6,-2.4z"/>
<path class="k44" d="M1215.8,279.7l12.2,1.9l5,17.6l-12,-2z"/>
<path class="k54" d="M1086.1,196.6l11.4,1.3l6.7,17.1l-11.3,-1.4z"/>
<path class="k32" d="M1316.4,347.1l12.7,2.3l3.7,16.5l-12.6,-2.4z"/>
<path class="k22" d="M1446.2,428.3l13.6,2.4l1.9,11.5l-13.4,-2.4z"/>
<path class="k45" d="M1186.4,258.5l12,1.8l5.4,17.4l-11.9,-1.9z"/>
<path class="k55" d="M1056.4,176.8l11.2,1.2l7.2,17.3l-11.1,-1.3z"/>
<path class="k25" d="M1417.0,410.5l13.5,2.4l2.3,13l-13.3,-2.4z"/>
<path class="k34" d="M1287.0,325.4l12.6,2.2l4.1,17.2l-12.5,-2.4z"/>
<path class="k52" d="M1156.8,238.1l11.9,1.6l5.8,17.1l-11.7,-1.8z"/>
<path class="k30" d="M1387.8,391.2l13.3,2.4l2.7,14.4l-13.1,-2.4z"/>
<path class="k16" d="M1547.3,477.7l14.3,2.5l0.6,9.6l-14,-2.5z"/>
<path class="k43" d="M1257.6,303.4l12.5,2.2l4.4,17.5l-12.3,-2.2z"/>
<path class="k56" d="M1127.2,217.9l11.7,1.5l6.2,17.1l-11.6,-1.6z"/>
<path class="k17" d="M1518.2,462.5l14.1,2.5l1,10.2l-13.9,-2.5z"/>
<path class="k33" d="M1358.5,370.7l13.1,2.5l3.1,15.5l-12.9,-2.4z"/>
<path class="k44" d="M1228.0,281.6l12.4,2l4.8,17.7l-12.2,-2.1z"/>
<path class="k23" d="M1489.0,446.9l13.9,2.4l1.4,10.8l-13.7,-2.4z"/>
<path class="k54" d="M1097.5,197.9l11.5,1.3l6.6,17.3l-11.4,-1.5z"/>
<path class="k32" d="M1329.1,349.4l13,2.4l3.5,16.5l-12.8,-2.4z"/>
<path class="k22" d="M1459.8,430.7l13.7,2.4l1.8,11.5l-13.6,-2.4z"/>
<path class="k45" d="M1198.4,260.3l12.2,1.8l5.2,17.6l-12,-2z"/>
<path class="k55" d="M1067.6,178.0l11.4,1.2l7.1,17.4l-11.3,-1.3z"/>
<path class="k25" d="M1430.5,412.9l13.5,2.5l2.2,12.9l-13.4,-2.4z"/>
<path class="k34" d="M1299.6,327.6l12.8,2.3l4,17.2l-12.7,-2.3z"/>
<path class="k46" d="M1168.7,239.7l12,1.6l5.7,17.2l-11.9,-1.7z"/>
<path class="k27" d="M1401.1,393.6l13.4,2.5l2.5,14.4l-13.2,-2.5z"/>
<path class="k43" d="M1270.1,305.6l12.6,2.1l4.3,17.7l-12.5,-2.3z"/>
<path class="k56" d="M1138.9,219.4l11.8,1.5l6.1,17.2l-11.7,-1.6z"/>
<path class="k17" d="M1532.3,465.0l14.2,2.5l0.8,10.2l-14,-2.5z"/>
<path class="k33" d="M1371.6,373.2l13.3,2.4l2.9,15.6l-13.1,-2.5z"/>
<path class="k44" d="M1240.4,283.6l12.4,2l4.8,17.8l-12.4,-2.1z"/>
<path class="k23" d="M1502.9,449.3l14.1,2.5l1.2,10.7l-13.9,-2.4z"/>
<path class="k54" d="M1109.0,199.2l11.7,1.4l6.5,17.3l-11.6,-1.4z"/>
<path class="k32" d="M1342.1,351.8l13.1,2.4l3.3,16.5l-12.9,-2.4z"/>
<path class="k24" d="M1473.5,433.1l13.9,2.5l1.6,11.3l-13.7,-2.3z"/>
<path class="k45" d="M1210.6,262.1l12.3,1.8l5.1,17.7l-12.2,-1.9z"/>
<path class="k57" d="M1079.0,179.2l11.5,1.2l7,17.5l-11.4,-1.3z"/>
<path class="k25" d="M1444.0,415.4l13.8,2.5l2,12.8l-13.6,-2.4z"/>
<path class="k34" d="M1312.4,329.9l13,2.3l3.7,17.2l-12.7,-2.3z"/>
<path class="k46" d="M1180.7,241.3l12.1,1.6l5.6,17.4l-12,-1.8z"/>
<path class="k58" d="M1049.0,159.3l11.3,1.1l7.3,17.6l-11.2,-1.2z"/>
<path class="k27" d="M1414.5,396.1l13.6,2.5l2.4,14.3l-13.5,-2.4z"/>
<path class="k43" d="M1282.7,307.7l12.8,2.2l4.1,17.7l-12.6,-2.2z"/>
<path class="k56" d="M1150.7,220.9l12,1.5l6,17.3l-11.9,-1.6z"/>
<path class="k17" d="M1546.5,467.5l14.4,2.5l0.7,10.2l-14.3,-2.5z"/>
<path class="k33" d="M1384.9,375.6l13.4,2.5l2.8,15.5l-13.3,-2.4z"/>
<path class="k38" d="M1252.8,285.6l12.7,2.1l4.6,17.9l-12.5,-2.2z"/>
<path class="k23" d="M1517.0,451.8l14.2,2.5l1.1,10.7l-14.1,-2.5z"/>
<path class="k50" d="M1120.7,200.6l11.8,1.3l6.4,17.5l-11.7,-1.5z"/>
<path class="k32" d="M1355.2,354.2l13.3,2.5l3.1,16.5l-13.1,-2.5z"/>
<path class="k24" d="M1487.4,435.6l14.1,2.4l1.4,11.3l-13.9,-2.4z"/>
<path class="k47" d="M1222.9,263.9l12.4,1.9l5.1,17.8l-12.4,-2z"/>
<path class="k57" d="M1090.5,180.4l11.7,1.2l6.8,17.6l-11.5,-1.3z"/>
<path class="k26" d="M1457.8,417.9l13.9,2.5l1.8,12.7l-13.7,-2.4z"/>
<path class="k36" d="M1325.4,332.2l13.1,2.4l3.6,17.2l-13,-2.4z"/>
<path class="k46" d="M1192.8,242.9l12.3,1.7l5.5,17.5l-12.2,-1.8z"/>
<path class="k58" d="M1060.3,160.4l11.5,1.1l7.2,17.7l-11.4,-1.2z"/>
<path class="k27" d="M1428.1,398.6l13.7,2.6l2.2,14.2l-13.5,-2.5z"/>
<path class="k37" d="M1295.5,309.9l12.9,2.3l4,17.7l-12.8,-2.3z"/>
<path class="k56" d="M1162.7,222.4l12.1,1.5l5.9,17.4l-12,-1.6z"/>
<path class="k33" d="M1398.3,378.1l13.6,2.5l2.6,15.5l-13.4,-2.5z"/>
<path class="k38" d="M1265.5,287.7l12.7,2.1l4.5,17.9l-12.6,-2.1z"/>
<path class="k23" d="M1531.2,454.3l14.5,2.4l0.8,10.8l-14.2,-2.5z"/>
<path class="k50" d="M1132.5,201.9l12,1.4l6.2,17.6l-11.8,-1.5z"/>
<path class="k35" d="M1368.5,356.7l13.4,2.4l3,16.5l-13.3,-2.4z"/>
<path class="k24" d="M1501.5,438.0l14.2,2.5l1.3,11.3l-14.1,-2.5z"/>
<path class="k47" d="M1235.3,265.8l12.7,1.9l4.8,17.9l-12.4,-2z"/>
<path class="k57" d="M1102.2,181.6l11.8,1.3l6.7,17.7l-11.7,-1.4z"/>
<path class="k26" d="M1471.7,420.4l14.1,2.5l1.6,12.7l-13.9,-2.5z"/>
<path class="k36" d="M1338.5,334.6l13.3,2.4l3.4,17.2l-13.1,-2.4z"/>
<path class="k46" d="M1205.1,244.6l12.5,1.7l5.3,17.6l-12.3,-1.8z"/>
<path class="k59" d="M1071.8,161.5l11.6,1.1l7.1,17.8l-11.5,-1.2z"/>
<path class="k27" d="M1441.8,401.2l14,2.5l2,14.2l-13.8,-2.5z"/>
<path class="k37" d="M1308.4,312.2l13.1,2.2l3.9,17.8l-13,-2.3z"/>
<path class="k60" d="M1041.3,141.5l11.5,1l7.5,17.9l-11.3,-1.1z"/>
<path class="k48" d="M1174.8,223.9l12.3,1.5l5.7,17.5l-12.1,-1.6z"/>
<path class="k29" d="M1411.9,380.6l13.8,2.6l2.4,15.4l-13.6,-2.5z"/>
<path class="k38" d="M1278.2,289.8l13,2.1l4.3,18l-12.8,-2.2z"/>
<path class="k23" d="M1545.7,456.7l14.6,2.6l0.6,10.7l-14.4,-2.5z"/>
<path class="k50" d="M1144.5,203.3l12.1,1.4l6.1,17.7l-12,-1.5z"/>
<path class="k35" d="M1381.9,359.1l13.6,2.5l2.8,16.5l-13.4,-2.5z"/>
<path class="k24" d="M1515.7,440.5l14.5,2.5l1,11.3l-14.2,-2.5z"/>
<path class="k47" d="M1248.0,267.7l12.7,1.9l4.8,18.1l-12.7,-2.1z"/>
<path class="k57" d="M1114.0,182.9l11.9,1.3l6.6,17.7l-11.8,-1.3z"/>
<path class="k26" d="M1485.8,422.9l14.2,2.6l1.5,12.5l-14.1,-2.4z"/>
<path class="k36" d="M1351.8,337.0l13.4,2.4l3.3,17.3l-13.3,-2.5z"/>
<path class="k49" d="M1217.6,246.3l12.6,1.7l5.1,17.8l-12.4,-1.9z"/>
<path class="k59" d="M1083.4,162.6l11.8,1.2l7,17.8l-11.7,-1.2z"/>
<path class="k28" d="M1455.8,403.7l14.1,2.6l1.8,14.1l-13.9,-2.5z"/>
<path class="k37" d="M1321.5,314.4l13.3,2.3l3.7,17.9l-13.1,-2.4z"/>
<path class="k60" d="M1052.8,142.5l11.6,1l7.4,18l-11.5,-1.1z"/>
<path class="k48" d="M1187.1,225.4l12.5,1.6l5.5,17.6l-12.3,-1.7z"/>
<path class="k29" d="M1425.7,383.2l13.9,2.5l2.2,15.5l-13.7,-2.6z"/>
<path class="k38" d="M1291.2,291.9l13.1,2.1l4.1,18.2l-12.9,-2.3z"/>
<path class="k50" d="M1156.6,204.7l12.2,1.5l6,17.7l-12.1,-1.5z"/>
<path class="k35" d="M1395.5,361.6l13.7,2.5l2.7,16.5l-13.6,-2.5z"/>
<path class="k24" d="M1530.2,443.0l14.6,2.5l0.9,11.2l-14.5,-2.4z"/>
<path class="k42" d="M1260.7,269.6l13,2l4.5,18.2l-12.7,-2.1z"/>
<path class="k53" d="M1125.9,184.2l12.1,1.3l6.5,17.8l-12,-1.4z"/>
<path class="k36" d="M1365.2,339.4l13.6,2.4l3.1,17.3l-13.4,-2.4z"/>
<path class="k26" d="M1500.0,425.5l14.5,2.5l1.2,12.5l-14.2,-2.5z"/>
<path class="k49" d="M1230.2,248.0l12.8,1.8l5,17.9l-12.7,-1.9z"/>
<path class="k59" d="M1095.2,163.8l11.9,1.1l6.9,18l-11.8,-1.3z"/>
<path class="k28" d="M1469.9,406.3l14.2,2.6l1.7,14l-14.1,-2.5z"/>
<path class="k40" d="M1334.8,316.7l13.4,2.3l3.6,18l-13.3,-2.4z"/>
<path class="k61" d="M1064.4,143.5l11.7,1l7.3,18.1l-11.6,-1.1z"/>
<path class="k48" d="M1199.6,227.0l12.5,1.6l5.5,17.7l-12.5,-1.7z"/>
<path class="k29" d="M1439.6,385.7l14.1,2.6l2.1,15.4l-14,-2.5z"/>
<path class="k41" d="M1304.3,294.0l13.2,2.2l4,18.2l-13.1,-2.2z"/>
<path class="k62" d="M1033.5,123.3l11.5,0.9l7.8,18.3l-11.5,-1z"/>
<path class="k51" d="M1168.8,206.2l12.4,1.4l5.9,17.8l-12.3,-1.5z"/>
<path class="k35" d="M1409.2,364.1l14,2.6l2.5,16.5l-13.8,-2.6z"/>
<path class="k21" d="M1544.8,445.5l14.8,2.5l0.7,11.3l-14.6,-2.6z"/>
<path class="k42" d="M1273.7,271.6l13.1,2l4.4,18.3l-13,-2.1z"/>
<path class="k53" d="M1138.0,185.5l12.3,1.3l6.3,17.9l-12.1,-1.4z"/>
<path class="k39" d="M1378.8,341.8l13.8,2.4l2.9,17.4l-13.6,-2.5z"/>
<path class="k26" d="M1514.5,428.0l14.6,2.6l1.1,12.4l-14.5,-2.5z"/>
<path class="k49" d="M1243.0,249.8l12.9,1.7l4.8,18.1l-12.7,-1.9z"/>
<path class="k59" d="M1107.1,164.9l12.1,1.2l6.7,18.1l-11.9,-1.3z"/>
<path class="k28" d="M1484.1,408.9l14.5,2.6l1.4,14l-14.2,-2.6z"/>
<path class="k40" d="M1348.2,319.0l13.6,2.4l3.4,18l-13.4,-2.4z"/>
<path class="k61" d="M1076.1,144.5l11.9,1l7.2,18.3l-11.8,-1.2z"/>
<path class="k48" d="M1212.1,228.6l12.8,1.6l5.3,17.8l-12.6,-1.7z"/>
<path class="k29" d="M1453.7,388.3l14.3,2.6l1.9,15.4l-14.1,-2.6z"/>
<path class="k41" d="M1317.5,296.2l13.5,2.2l3.8,18.3l-13.3,-2.3z"/>
<path class="k62" d="M1045.0,124.2l11.7,0.9l7.7,18.4l-11.6,-1z"/>
<path class="k51" d="M1181.2,207.6l12.6,1.5l5.8,17.9l-12.5,-1.6z"/>
<path class="k31" d="M1423.2,366.7l14.1,2.5l2.3,16.5l-13.9,-2.5z"/>
<path class="k42" d="M1286.8,273.6l13.2,2l4.3,18.4l-13.1,-2.1z"/>
<path class="k53" d="M1150.3,186.8l12.4,1.3l6.1,18.1l-12.2,-1.5z"/>
<path class="k39" d="M1392.6,344.2l13.9,2.5l2.7,17.4l-13.7,-2.5z"/>
<path class="k22" d="M1529.1,430.6l14.8,2.6l0.9,12.3l-14.6,-2.5z"/>
<path class="k49" d="M1255.9,251.5l13.1,1.9l4.7,18.2l-13,-2z"/>
<path class="k55" d="M1119.2,166.1l12.2,1.2l6.6,18.2l-12.1,-1.3z"/>
<path class="k28" d="M1498.6,411.5l14.6,2.6l1.3,13.9l-14.5,-2.5z"/>
<path class="k40" d="M1361.8,321.4l13.8,2.3l3.2,18.1l-13.6,-2.4z"/>
<path class="k61" d="M1088.0,145.5l12,1.1l7.1,18.3l-11.9,-1.1z"/>
<path class="k52" d="M1224.9,230.2l12.9,1.7l5.2,17.9l-12.8,-1.8z"/>
<path class="k30" d="M1468.0,390.9l14.4,2.6l1.7,15.4l-14.2,-2.6z"/>
<path class="k41" d="M1331.0,298.4l13.6,2.2l3.6,18.4l-13.4,-2.3z"/>
<path class="k62" d="M1056.7,125.1l11.9,0.9l7.5,18.5l-11.7,-1z"/>
<path class="k51" d="M1193.8,209.1l12.8,1.5l5.5,18l-12.5,-1.6z"/>
<path class="k31" d="M1437.3,369.2l14.3,2.6l2.1,16.5l-14.1,-2.6z"/>
<path class="k42" d="M1300.0,275.6l13.5,2l4,18.6l-13.2,-2.2z"/>
<path class="k53" d="M1162.7,188.1l12.5,1.4l6,18.1l-12.4,-1.4z"/>
<path class="k39" d="M1406.5,346.7l14.1,2.5l2.6,17.5l-14,-2.6z"/>
<path class="k22" d="M1543.9,433.2l15,2.6l0.7,12.2l-14.8,-2.5z"/>
<path class="k45" d="M1269.0,253.4l13.2,1.8l4.6,18.4l-13.1,-2z"/>
<path class="k55" d="M1131.4,167.3l12.4,1.2l6.5,18.3l-12.3,-1.3z"/>
<path class="k25" d="M1513.2,414.1l14.8,2.7l1.1,13.8l-14.6,-2.6z"/>
<path class="k40" d="M1375.6,323.7l13.9,2.5l3.1,18l-13.8,-2.4z"/>
<path class="k61" d="M1100.0,146.6l12.2,1l7,18.5l-12.1,-1.2z"/>
<path class="k52" d="M1237.8,231.9l13.1,1.6l5,18l-12.9,-1.7z"/>
<path class="k30" d="M1482.4,393.5l14.7,2.7l1.5,15.3l-14.5,-2.6z"/>
<path class="k41" d="M1344.6,300.6l13.8,2.3l3.4,18.5l-13.6,-2.4z"/>
<path class="k63" d="M1068.6,126.0l12,0.9l7.4,18.6l-11.9,-1z"/>
<path class="k51" d="M1206.6,210.6l12.9,1.5l5.4,18.1l-12.8,-1.6z"/>
<path class="k31" d="M1451.6,371.8l14.4,2.6l2,16.5l-14.3,-2.6z"/>
<path class="k44" d="M1313.5,277.6l13.6,2.1l3.9,18.7l-13.5,-2.2z"/>
<path class="k54" d="M1175.2,189.5l12.7,1.3l5.9,18.3l-12.6,-1.5z"/>
<path class="k39" d="M1420.6,349.2l14.3,2.6l2.4,17.4l-14.1,-2.5z"/>
<path class="k45" d="M1282.2,255.2l13.4,1.9l4.4,18.5l-13.2,-2z"/>
<path class="k55" d="M1143.8,168.5l12.5,1.2l6.4,18.4l-12.4,-1.3z"/>
<path class="k25" d="M1528.0,416.8l15.1,2.7l0.8,13.7l-14.8,-2.6z"/>
<path class="k34" d="M1389.5,326.2l14.2,2.4l2.8,18.1l-13.9,-2.5z"/>
<path class="k58" d="M1112.2,147.6l12.4,1.1l6.8,18.6l-12.2,-1.2z"/>
<path class="k52" d="M1250.9,233.5l13.2,1.7l4.9,18.2l-13.1,-1.9z"/>
<path class="k30" d="M1497.1,396.2l14.8,2.7l1.3,15.2l-14.6,-2.6z"/>
<path class="k43" d="M1358.4,302.9l13.9,2.3l3.3,18.5l-13.8,-2.3z"/>
<path class="k63" d="M1080.6,126.9l12.2,0.9l7.2,18.8l-12,-1.1z"/>
<path class="k56" d="M1219.5,212.1l13,1.5l5.3,18.3l-12.9,-1.7z"/>
<path class="k33" d="M1466.0,374.4l14.7,2.7l1.7,16.4l-14.4,-2.6z"/>
<path class="k44" d="M1327.1,279.7l13.7,2.1l3.8,18.8l-13.6,-2.2z"/>
<path class="k54" d="M1187.9,190.8l12.9,1.4l5.8,18.4l-12.8,-1.5z"/>
<path class="k32" d="M1434.9,351.8l14.5,2.6l2.2,17.4l-14.3,-2.6z"/>
<path class="k45" d="M1295.6,257.1l13.6,1.9l4.3,18.6l-13.5,-2z"/>
<path class="k55" d="M1156.3,169.7l12.7,1.2l6.2,18.6l-12.5,-1.4z"/>
<path class="k25" d="M1543.1,419.5l15.2,2.7l0.6,13.6l-15,-2.6z"/>
<path class="k34" d="M1403.7,328.6l14.3,2.5l2.6,18.1l-14.1,-2.5z"/>
<path class="k58" d="M1124.6,148.7l12.5,1.1l6.7,18.7l-12.4,-1.2z"/>
<path class="k52" d="M1264.1,235.2l13.5,1.7l4.6,18.3l-13.2,-1.8z"/>
<path class="k30" d="M1511.9,398.9l15,2.7l1.1,15.2l-14.8,-2.7z"/>
<path class="k43" d="M1372.3,305.2l14.1,2.3l3.1,18.7l-13.9,-2.5z"/>
<path class="k63" d="M1092.8,127.8l12.3,1l7.1,18.8l-12.2,-1z"/>
<path class="k56" d="M1232.5,213.6l13.3,1.6l5.1,18.3l-13.1,-1.6z"/>
<path class="k33" d="M1480.7,377.1l14.9,2.6l1.5,16.5l-14.7,-2.7z"/>
<path class="k44" d="M1340.8,281.8l14,2.2l3.6,18.9l-13.8,-2.3z"/>
<path class="k54" d="M1200.8,192.2l13.1,1.4l5.6,18.5l-12.9,-1.5z"/>
<path class="k32" d="M1449.4,354.4l14.7,2.6l1.9,17.4l-14.4,-2.6z"/>
<path class="k45" d="M1309.2,259.0l13.8,1.9l4.1,18.8l-13.6,-2.1z"/>
<path class="k57" d="M1169.0,170.9l12.9,1.3l6,18.6l-12.7,-1.3z"/>
<path class="k34" d="M1418.0,331.1l14.5,2.4l2.4,18.3l-14.3,-2.6z"/>
<path class="k58" d="M1137.1,149.8l12.7,1.1l6.5,18.8l-12.5,-1.2z"/>
<path class="k46" d="M1277.6,236.9l13.5,1.8l4.5,18.4l-13.4,-1.9z"/>
<path class="k27" d="M1526.9,401.6l15.3,2.7l0.9,15.2l-15.1,-2.7z"/>
<path class="k43" d="M1386.4,307.5l14.4,2.3l2.9,18.8l-14.2,-2.4z"/>
<path class="k63" d="M1105.1,128.8l12.5,0.9l7,19l-12.4,-1.1z"/>
<path class="k56" d="M1245.8,215.2l13.4,1.6l4.9,18.4l-13.2,-1.7z"/>
<path class="k33" d="M1495.6,379.7l15,2.7l1.3,16.5l-14.8,-2.7z"/>
<path class="k44" d="M1354.8,284.0l14.1,2.2l3.4,19l-13.9,-2.3z"/>
<path class="k54" d="M1213.9,193.6l13.2,1.5l5.4,18.5l-13,-1.5z"/>
<path class="k32" d="M1464.1,357.0l14.8,2.6l1.8,17.5l-14.7,-2.7z"/>
<path class="k47" d="M1323.0,260.9l14,2l3.8,18.9l-13.7,-2.1z"/>
<path class="k57" d="M1181.9,172.2l13,1.3l5.9,18.7l-12.9,-1.4z"/>
<path class="k34" d="M1432.5,333.5l14.7,2.6l2.2,18.3l-14.5,-2.6z"/>
<path class="k46" d="M1291.1,238.7l13.8,1.7l4.3,18.6l-13.6,-1.9z"/>
<path class="k58" d="M1149.8,150.9l12.8,1.1l6.4,18.9l-12.7,-1.2z"/>
<path class="k27" d="M1542.2,404.3l15.4,2.8l0.7,15.1l-15.2,-2.7z"/>
<path class="k37" d="M1400.8,309.8l14.5,2.4l2.7,18.9l-14.3,-2.5z"/>
<path class="k60" d="M1117.6,129.7l12.6,1l6.9,19.1l-12.5,-1.1z"/>
<path class="k56" d="M1259.2,216.8l13.6,1.6l4.8,18.5l-13.5,-1.7z"/>
<path class="k33" d="M1510.6,382.4l15.2,2.8l1.1,16.4l-15,-2.7z"/>
<path class="k38" d="M1368.9,286.2l14.4,2.2l3.1,19.1l-14.1,-2.3z"/>
<path class="k50" d="M1227.1,195.1l13.4,1.4l5.3,18.7l-13.3,-1.6z"/>
<path class="k35" d="M1478.9,359.6l15.1,2.7l1.6,17.4l-14.9,-2.6z"/>
<path class="k47" d="M1337.0,262.9l14.1,2l3.7,19.1l-14,-2.2z"/>
<path class="k57" d="M1194.9,173.5l13.2,1.3l5.8,18.8l-13.1,-1.4z"/>
<path class="k36" d="M1447.2,336.1l14.8,2.5l2.1,18.4l-14.7,-2.6z"/>
<path class="k46" d="M1304.9,240.4l14,1.8l4.1,18.7l-13.8,-1.9z"/>
<path class="k59" d="M1162.6,152.0l13,1.2l6.3,19l-12.9,-1.3z"/>
<path class="k37" d="M1415.3,312.2l14.7,2.5l2.5,18.8l-14.5,-2.4z"/>
<path class="k60" d="M1130.2,130.7l12.9,1l6.7,19.2l-12.7,-1.1z"/>
<path class="k48" d="M1272.8,218.4l13.7,1.6l4.6,18.7l-13.5,-1.8z"/>
<path class="k29" d="M1525.8,385.2l15.5,2.7l0.9,16.4l-15.3,-2.7z"/>
<path class="k38" d="M1383.3,288.4l14.5,2.3l3,19.1l-14.4,-2.3z"/>
<path class="k50" d="M1240.5,196.5l13.6,1.5l5.1,18.8l-13.4,-1.6z"/>
<path class="k35" d="M1494.0,362.3l15.2,2.6l1.4,17.5l-15,-2.7z"/>
<path class="k47" d="M1351.1,264.9l14.3,2.1l3.5,19.2l-14.1,-2.2z"/>
<path class="k57" d="M1208.1,174.8l13.4,1.3l5.6,19l-13.2,-1.5z"/>
<path class="k36" d="M1462.0,338.6l15.1,2.6l1.8,18.4l-14.8,-2.6z"/>
<path class="k46" d="M1318.9,242.2l14.1,1.8l4,18.9l-14,-2z"/>
<path class="k59" d="M1175.6,153.2l13.2,1.1l6.1,19.2l-13,-1.3z"/>
<path class="k37" d="M1430.0,314.7l14.9,2.4l2.3,19l-14.7,-2.6z"/>
<path class="k60" d="M1143.1,131.7l13,1l6.5,19.3l-12.8,-1.1z"/>
<path class="k48" d="M1286.5,220.0l14,1.7l4.4,18.7l-13.8,-1.7z"/>
<path class="k29" d="M1541.3,387.9l15.6,2.8l0.7,16.4l-15.4,-2.8z"/>
<path class="k38" d="M1397.8,290.7l14.7,2.2l2.8,19.3l-14.5,-2.4z"/>
<path class="k50" d="M1254.1,198.0l13.7,1.5l5,18.9l-13.6,-1.6z"/>
<path class="k35" d="M1509.2,364.9l15.5,2.8l1.1,17.5l-15.2,-2.8z"/>
<path class="k47" d="M1365.4,267.0l14.6,2.1l3.3,19.3l-14.4,-2.2z"/>
<path class="k53" d="M1221.5,176.1l13.5,1.3l5.5,19.1l-13.4,-1.4z"/>
<path class="k36" d="M1477.1,341.2l15.3,2.6l1.6,18.5l-15.1,-2.7z"/>
<path class="k49" d="M1333.0,244.0l14.3,1.9l3.8,19l-14.1,-2z"/>
<path class="k59" d="M1188.8,154.3l13.4,1.2l5.9,19.3l-13.2,-1.3z"/>
<path class="k37" d="M1444.9,317.1l15,2.5l2.1,19l-14.8,-2.5z"/>
<path class="k60" d="M1156.1,132.7l13.1,1.1l6.4,19.4l-13,-1.2z"/>
<path class="k48" d="M1300.5,221.7l14.1,1.7l4.3,18.8l-14,-1.8z"/>
<path class="k41" d="M1412.5,292.9l14.9,2.4l2.6,19.4l-14.7,-2.5z"/>
<path class="k50" d="M1267.8,199.5l13.9,1.5l4.8,19l-13.7,-1.6z"/>
<path class="k35" d="M1524.7,367.7l15.7,2.7l0.9,17.5l-15.5,-2.7z"/>
<path class="k42" d="M1380.0,269.1l14.7,2.1l3.1,19.5l-14.5,-2.3z"/>
<path class="k53" d="M1235.0,177.4l13.8,1.4l5.3,19.2l-13.6,-1.5z"/>
<path class="k39" d="M1492.4,343.8l15.5,2.7l1.3,18.4l-15.2,-2.6z"/>
<path class="k49" d="M1347.3,245.9l14.6,1.9l3.5,19.2l-14.3,-2.1z"/>
<path class="k59" d="M1202.2,155.5l13.5,1.2l5.8,19.4l-13.4,-1.3z"/>
<path class="k40" d="M1459.9,319.6l15.3,2.5l1.9,19.1l-15.1,-2.6z"/>
<path class="k61" d="M1169.2,133.8l13.4,1l6.2,19.5l-13.2,-1.1z"/>
<path class="k48" d="M1314.6,223.4l14.3,1.7l4.1,18.9l-14.1,-1.8z"/>
<path class="k41" d="M1427.4,295.3l15.1,2.3l2.4,19.5l-14.9,-2.4z"/>
<path class="k51" d="M1281.7,201.0l14.2,1.5l4.6,19.2l-14,-1.7z"/>
<path class="k31" d="M1540.4,370.4l15.9,2.8l0.6,17.5l-15.6,-2.8z"/>
<path class="k42" d="M1394.7,271.2l14.9,2.1l2.9,19.6l-14.7,-2.2z"/>
<path class="k53" d="M1248.8,178.8l13.9,1.4l5.1,19.3l-13.7,-1.5z"/>
<path class="k39" d="M1507.9,346.5l15.7,2.7l1.1,18.5l-15.5,-2.8z"/>
<path class="k49" d="M1361.9,247.8l14.7,1.9l3.4,19.4l-14.6,-2.1z"/>
<path class="k55" d="M1215.7,156.7l13.7,1.2l5.6,19.5l-13.5,-1.3z"/>
<path class="k40" d="M1475.2,322.1l15.5,2.6l1.7,19.1l-15.3,-2.6z"/>
<path class="k61" d="M1182.6,134.8l13.5,1.1l6.1,19.6l-13.4,-1.2z"/>
<path class="k52" d="M1328.9,225.1l14.5,1.7l3.9,19.1l-14.3,-1.9z"/>
<path class="k41" d="M1442.5,297.6l15.3,2.4l2.1,19.6l-15,-2.5z"/>
<path class="k51" d="M1295.9,202.5l14.3,1.6l4.4,19.3l-14.1,-1.7z"/>
<path class="k42" d="M1409.6,273.3l15.1,2.2l2.7,19.8l-14.9,-2.4z"/>
<path class="k53" d="M1262.7,180.2l14.1,1.4l4.9,19.4l-13.9,-1.5z"/>
<path class="k39" d="M1523.6,349.2l15.9,2.7l0.9,18.5l-15.7,-2.7z"/>
<path class="k49" d="M1376.6,249.7l14.9,1.9l3.2,19.6l-14.7,-2.1z"/>
<path class="k55" d="M1229.4,157.9l14,1.3l5.4,19.6l-13.8,-1.4z"/>
<path class="k40" d="M1490.7,324.7l15.7,2.6l1.5,19.2l-15.5,-2.7z"/>
<path class="k61" d="M1196.1,135.9l13.7,1l5.9,19.8l-13.5,-1.2z"/>
<path class="k52" d="M1343.4,226.8l14.8,1.7l3.7,19.3l-14.6,-1.9z"/>
<path class="k41" d="M1457.8,300.0l15.5,2.4l1.9,19.7l-15.3,-2.5z"/>
<path class="k51" d="M1310.2,204.1l14.5,1.6l4.2,19.4l-14.3,-1.7z"/>
<path class="k42" d="M1424.7,275.5l15.3,2.3l2.5,19.8l-15.1,-2.3z"/>
<path class="k54" d="M1276.8,181.6l14.3,1.4l4.8,19.5l-14.2,-1.5z"/>
<path class="k39" d="M1539.5,351.9l16.1,2.8l0.7,18.5l-15.9,-2.8z"/>
<path class="k45" d="M1391.5,251.6l15.1,2l3,19.7l-14.9,-2.1z"/>
<path class="k55" d="M1243.4,159.2l14.1,1.2l5.2,19.8l-13.9,-1.4z"/>
<path class="k40" d="M1506.4,327.3l16,2.6l1.2,19.3l-15.7,-2.7z"/>
<path class="k61" d="M1209.8,136.9l13.9,1.1l5.7,19.9l-13.7,-1.2z"/>
<path class="k52" d="M1358.2,228.5l14.9,1.8l3.5,19.4l-14.7,-1.9z"/>
<path class="k43" d="M1473.3,302.4l15.7,2.5l1.7,19.8l-15.5,-2.6z"/>
<path class="k51" d="M1324.7,205.7l14.7,1.6l4,19.5l-14.5,-1.7z"/>
<path class="k44" d="M1440.0,277.8l15.6,2.2l2.2,20l-15.3,-2.4z"/>
<path class="k54" d="M1291.1,183.0l14.5,1.4l4.6,19.7l-14.3,-1.6z"/>
<path class="k45" d="M1406.6,253.6l15.3,2.1l2.8,19.8l-15.1,-2.2z"/>
<path class="k55" d="M1257.5,160.4l14.3,1.3l5,19.9l-14.1,-1.4z"/>
<path class="k34" d="M1522.4,329.9l16.1,2.7l1,19.3l-15.9,-2.7z"/>
<path class="k58" d="M1223.7,138.0l14.1,1.1l5.6,20.1l-14,-1.3z"/>
<path class="k52" d="M1373.1,230.3l15.1,1.8l3.3,19.5l-14.9,-1.9z"/>
<path class="k43" d="M1489.0,304.9l16,2.5l1.4,19.9l-15.7,-2.6z"/>
<path class="k56" d="M1339.4,207.3l14.9,1.6l3.9,19.6l-14.8,-1.7z"/>
<path class="k44" d="M1455.6,280.0l15.7,2.3l2,20.1l-15.5,-2.4z"/>
<path class="k54" d="M1305.6,184.4l14.8,1.5l4.3,19.8l-14.5,-1.6z"/>
<path class="k45" d="M1421.9,255.7l15.6,2l2.5,20.1l-15.3,-2.3z"/>
<path class="k55" d="M1271.8,161.7l14.5,1.3l4.8,20l-14.3,-1.4z"/>
<path class="k34" d="M1538.5,332.6l16.4,2.7l0.7,19.4l-16.1,-2.8z"/>
<path class="k58" d="M1237.8,139.1l14.3,1.2l5.4,20.1l-14.1,-1.2z"/>
<path class="k46" d="M1388.2,232.1l15.3,1.9l3.1,19.6l-15.1,-2z"/>
<path class="k43" d="M1505.0,307.4l16.1,2.5l1.3,20l-16,-2.6z"/>
<path class="k56" d="M1354.3,208.9l15.2,1.7l3.6,19.7l-14.9,-1.8z"/>
<path class="k44" d="M1471.3,282.3l16,2.4l1.7,20.2l-15.7,-2.5z"/>
<path class="k54" d="M1320.4,185.9l14.9,1.5l4.1,19.9l-14.7,-1.6z"/>
<path class="k47" d="M1437.5,257.7l15.7,2.2l2.4,20.1l-15.6,-2.2z"/>
<path class="k57" d="M1286.3,163.0l14.7,1.3l4.6,20.1l-14.5,-1.4z"/>
<path class="k58" d="M1252.1,140.3l14.4,1.1l5.3,20.3l-14.3,-1.3z"/>
<path class="k46" d="M1403.5,234.0l15.6,1.8l2.8,19.9l-15.3,-2.1z"/>
<path class="k43" d="M1521.1,309.9l16.4,2.6l1,20.1l-16.1,-2.7z"/>
<path class="k56" d="M1369.5,210.6l15.3,1.7l3.4,19.8l-15.1,-1.8z"/>
<path class="k38" d="M1487.3,284.7l16.2,2.4l1.5,20.3l-16,-2.5z"/>
<path class="k50" d="M1335.3,187.4l15.1,1.5l3.9,20l-14.9,-1.6z"/>
<path class="k47" d="M1453.2,259.9l16,2.1l2.1,20.3l-15.7,-2.3z"/>
<path class="k57" d="M1301.0,164.3l14.9,1.4l4.5,20.2l-14.8,-1.5z"/>
<path class="k58" d="M1266.5,141.4l14.7,1.2l5.1,20.4l-14.5,-1.3z"/>
<path class="k46" d="M1419.1,235.8l15.8,1.9l2.6,20l-15.6,-2z"/>
<path class="k37" d="M1537.5,312.5l16.7,2.6l0.7,20.2l-16.4,-2.7z"/>
<path class="k56" d="M1384.8,212.3l15.6,1.7l3.1,20l-15.3,-1.9z"/>
<path class="k38" d="M1503.5,287.1l16.4,2.4l1.2,20.4l-16.1,-2.5z"/>
<path class="k50" d="M1350.4,188.9l15.3,1.5l3.8,20.2l-15.2,-1.7z"/>
<path class="k47" d="M1469.2,262.0l16.2,2.2l1.9,20.5l-16,-2.4z"/>
<path class="k57" d="M1315.9,165.7l15.1,1.3l4.3,20.4l-14.9,-1.5z"/>
<path class="k59" d="M1281.2,142.6l14.9,1.2l4.9,20.5l-14.7,-1.3z"/>
<path class="k46" d="M1434.9,237.7l16,2l2.3,20.2l-15.7,-2.2z"/>
<path class="k48" d="M1400.4,214.0l15.7,1.8l3,20l-15.6,-1.8z"/>
<path class="k38" d="M1519.9,289.5l16.6,2.4l1,20.6l-16.4,-2.6z"/>
<path class="k50" d="M1365.7,190.4l15.6,1.6l3.5,20.3l-15.3,-1.7z"/>
<path class="k47" d="M1485.4,264.2l16.5,2.2l1.6,20.7l-16.2,-2.4z"/>
<path class="k53" d="M1331.0,167.0l15.3,1.4l4.1,20.5l-15.1,-1.5z"/>
<path class="k59" d="M1296.1,143.8l15.1,1.2l4.7,20.7l-14.9,-1.4z"/>
<path class="k49" d="M1450.9,239.7l16.2,1.9l2.1,20.4l-16,-2.1z"/>
<path class="k48" d="M1416.1,215.8l16,1.7l2.8,20.2l-15.8,-1.9z"/>
<path class="k38" d="M1536.5,291.9l16.9,2.5l0.8,20.7l-16.7,-2.6z"/>
<path class="k50" d="M1381.3,192.0l15.8,1.6l3.3,20.4l-15.6,-1.7z"/>
<path class="k42" d="M1501.9,266.4l16.7,2.3l1.3,20.8l-16.4,-2.4z"/>
<path class="k53" d="M1346.3,168.4l15.6,1.4l3.8,20.6l-15.3,-1.5z"/>
<path class="k49" d="M1467.1,241.6l16.4,2l1.9,20.6l-16.2,-2.2z"/>
<path class="k59" d="M1311.2,145.0l15.4,1.2l4.4,20.8l-15.1,-1.3z"/>
<path class="k48" d="M1432.1,217.5l16.3,1.8l2.5,20.4l-16,-2z"/>
<path class="k51" d="M1397.1,193.6l16,1.6l3,20.6l-15.7,-1.8z"/>
<path class="k42" d="M1518.6,268.7l16.9,2.3l1,20.9l-16.6,-2.4z"/>
<path class="k53" d="M1361.9,169.8l15.8,1.4l3.6,20.8l-15.6,-1.6z"/>
<path class="k49" d="M1483.5,243.6l16.7,2.1l1.7,20.7l-16.5,-2.2z"/>
<path class="k59" d="M1326.6,146.2l15.5,1.2l4.2,21l-15.3,-1.4z"/>
<path class="k48" d="M1448.4,219.3l16.5,1.9l2.2,20.4l-16.2,-1.9z"/>
<path class="k51" d="M1413.1,195.2l16.2,1.7l2.8,20.6l-16,-1.7z"/>
<path class="k42" d="M1535.5,271.0l17.1,2.3l0.8,21.1l-16.9,-2.5z"/>
<path class="k53" d="M1377.7,171.2l16,1.5l3.4,20.9l-15.8,-1.6z"/>
<path class="k49" d="M1500.2,245.7l17,2.1l1.4,20.9l-16.7,-2.3z"/>
<path class="k55" d="M1342.1,147.4l15.8,1.3l4,21.1l-15.6,-1.4z"/>
<path class="k52" d="M1464.9,221.2l16.7,1.8l1.9,20.6l-16.4,-2z"/>
<path class="k51" d="M1429.3,196.9l16.5,1.6l2.6,20.8l-16.3,-1.8z"/>
<path class="k54" d="M1393.7,172.7l16.3,1.5l3.1,21l-16,-1.6z"/>
<path class="k45" d="M1517.2,247.8l17.2,2.1l1.1,21.1l-16.9,-2.3z"/>
<path class="k55" d="M1357.9,148.7l16,1.3l3.8,21.2l-15.8,-1.4z"/>
<path class="k52" d="M1481.6,223.0l16.9,1.9l1.7,20.8l-16.7,-2.1z"/>
<path class="k51" d="M1445.8,198.5l16.8,1.7l2.3,21l-16.5,-1.9z"/>
<path class="k54" d="M1410.0,174.2l16.4,1.5l2.9,21.2l-16.2,-1.7z"/>
<path class="k45" d="M1534.4,249.9l17.4,2.2l0.8,21.2l-17.1,-2.3z"/>
<path class="k55" d="M1373.9,150.0l16.3,1.3l3.5,21.4l-16,-1.5z"/>
<path class="k52" d="M1498.5,224.9l17.3,1.9l1.4,21l-17,-2.1z"/>
<path class="k56" d="M1462.6,200.2l16.9,1.7l2.1,21.1l-16.7,-1.8z"/>
<path class="k54" d="M1426.4,175.7l16.8,1.5l2.6,21.3l-16.5,-1.6z"/>
<path class="k55" d="M1390.2,151.3l16.5,1.3l3.3,21.6l-16.3,-1.5z"/>
<path class="k52" d="M1515.8,226.8l17.4,2l1.2,21.1l-17.2,-2.1z"/>
<path class="k56" d="M1479.5,201.9l17.3,1.8l1.7,21.2l-16.9,-1.9z"/>
<path class="k54" d="M1443.2,177.2l17,1.6l2.4,21.4l-16.8,-1.7z"/>
<path class="k57" d="M1406.7,152.6l16.8,1.4l2.9,21.7l-16.4,-1.5z"/>
<path class="k46" d="M1533.2,228.8l17.8,2l0.8,21.3l-17.4,-2.2z"/>
<path class="k56" d="M1496.8,203.7l17.5,1.8l1.5,21.3l-17.3,-1.9z"/>
<path class="k50" d="M1460.2,178.8l17.2,1.5l2.1,21.6l-16.9,-1.7z"/>
<path class="k57" d="M1423.5,154.0l17,1.3l2.7,21.9l-16.8,-1.5z"/>
<path class="k56" d="M1514.3,205.5l17.7,1.8l1.2,21.5l-17.4,-2z"/>
<path class="k50" d="M1477.4,180.3l17.6,1.6l1.8,21.8l-17.3,-1.8z"/>
<path class="k57" d="M1440.5,155.3l17.2,1.4l2.5,22.1l-17,-1.6z"/>
<path class="k48" d="M1532.0,207.3l18.1,1.8l0.9,21.7l-17.8,-2z"/>
<path class="k50" d="M1495.0,181.9l17.7,1.7l1.6,21.9l-17.5,-1.8z"/>
<path class="k57" d="M1457.7,156.7l17.6,1.5l2.1,22.1l-17.2,-1.5z"/>
<path class="k50" d="M1512.7,183.6l18.1,1.6l1.2,22.1l-17.7,-1.8z"/>
<path class="k53" d="M1475.3,158.2l17.8,1.4l1.9,22.3l-17.6,-1.6z"/>
<path class="k51" d="M1530.8,185.2l18.4,1.7l0.9,22.2l-18.1,-1.8z"/>
<path class="k53" d="M1493.1,159.6l18.1,1.5l1.5,22.5l-17.7,-1.7z"/>
<path class="k53" d="M1511.2,161.1l18.3,1.5l1.3,22.6l-18.1,-1.6z"/>
<path class="k53" d="M1529.5,162.6l18.7,1.5l1,22.8l-18.4,-1.7z"/>
</g>
<path d="M84.6,603.9 L71.1,150.5 L75.8,150.4 L68.1,136.6 L61.2,150.8 L65.9,150.7 L79.4,604.1 Z" fill="#000"/>
<path d="M115.5,638.2 L554.8,717.5 L553.9,722.1 L569.0,717.4 L556.5,707.7 L555.7,712.4 L116.5,633.0 Z" fill="#000"/>
<path d="M612.0,689.6 L644.3,559.7 L648.8,560.8 L645.1,545.5 L634.6,557.3 L639.2,558.5 L607.0,688.4 Z" fill="#000"/>
<path d="M1030.6,594.1 L1017.3,150.9 L1022.0,150.8 L1014.3,137.0 L1007.4,151.2 L1012.1,151.1 L1025.4,594.3 Z" fill="#000"/>
<path d="M1061.5,638.2 L1500.9,717.5 L1500.0,722.1 L1515.1,717.4 L1502.6,707.7 L1501.8,712.4 L1062.5,633.0 Z" fill="#000"/>
<path d="M1557.4,689.5 L1589.0,560.5 L1593.6,561.6 L1589.8,546.3 L1579.4,558.2 L1583.9,559.3 L1552.4,688.3 Z" fill="#000"/>
<linearGradient id="ga" x1="0" y1="0" x2="0" y2="1"><stop offset="0" stop-color="#800000"/><stop offset="0.125" stop-color="#ff0000"/><stop offset="0.375" stop-color="#ffff00"/><stop offset="0.625" stop-color="#00ffff"/><stop offset="0.875" stop-color="#0000ff"/><stop offset="1" stop-color="#00008f"/></linearGradient>
<rect x="725.1" y="49.3" width="28.8" height="673.2" fill="url(#ga)" stroke="#1a1a1a" stroke-width="1.2"/>
<path d="M753.9,156.5 h13.5" stroke="#1a1a1a" stroke-width="1.3"/>
<text x="782.2" y="166.2" font-size="34.5" class="s">0.95</text>
<path d="M753.9,265.2 h13.5" stroke="#1a1a1a" stroke-width="1.3"/>
<text x="782.2" y="274.9" font-size="34.5" class="s">0.90</text>
<path d="M753.9,373.9 h13.5" stroke="#1a1a1a" stroke-width="1.3"/>
<text x="782.2" y="383.6" font-size="34.5" class="s">0.85</text>
<path d="M753.9,482.6 h13.5" stroke="#1a1a1a" stroke-width="1.3"/>
<text x="782.2" y="492.3" font-size="34.5" class="s">0.80</text>
<path d="M753.9,591.3 h13.5" stroke="#1a1a1a" stroke-width="1.3"/>
<text x="782.2" y="601.0" font-size="34.5" class="s">0.75</text>
<path d="M753.9,700.0 h13.5" stroke="#1a1a1a" stroke-width="1.3"/>
<text x="782.2" y="709.7" font-size="34.5" class="s">0.70</text>
<linearGradient id="gb" x1="0" y1="0" x2="0" y2="1"><stop offset="0" stop-color="#800000"/><stop offset="0.125" stop-color="#ff0000"/><stop offset="0.375" stop-color="#ffff00"/><stop offset="0.625" stop-color="#00ffff"/><stop offset="0.875" stop-color="#0000ff"/><stop offset="1" stop-color="#00008f"/></linearGradient>
<rect x="1671.1" y="49.3" width="28.5" height="673.2" fill="url(#gb)" stroke="#1a1a1a" stroke-width="1.2"/>
<path d="M1699.6,107.1 h13.5" stroke="#1a1a1a" stroke-width="1.3"/>
<text x="1727.9" y="116.8" font-size="34.5" class="s">0.70</text>
<path d="M1699.6,195.1 h13.5" stroke="#1a1a1a" stroke-width="1.3"/>
<text x="1727.9" y="204.8" font-size="34.5" class="s">0.60</text>
<path d="M1699.6,283.1 h13.5" stroke="#1a1a1a" stroke-width="1.3"/>
<text x="1727.9" y="292.8" font-size="34.5" class="s">0.50</text>
<path d="M1699.6,371.1 h13.5" stroke="#1a1a1a" stroke-width="1.3"/>
<text x="1727.9" y="380.8" font-size="34.5" class="s">0.40</text>
<path d="M1699.6,459.1 h13.5" stroke="#1a1a1a" stroke-width="1.3"/>
<text x="1727.9" y="468.8" font-size="34.5" class="s">0.30</text>
<path d="M1699.6,547.1 h13.5" stroke="#1a1a1a" stroke-width="1.3"/>
<text x="1727.9" y="556.8" font-size="34.5" class="s">0.20</text>
<path d="M1699.6,635.1 h13.5" stroke="#1a1a1a" stroke-width="1.3"/>
<text x="1727.9" y="644.8" font-size="34.5" class="s">0.10</text>
<text x="599.9" y="37" font-size="41" class="s" font-weight="bold">a)</text>
<g transform="translate(34.0,394.0) rotate(-90)"><text font-size="44.5" class="s" font-style="italic" transform="scale(0.92,1)" x="0" y="0">R</text><text font-size="30" class="s" x="28" y="-11.5">*</text><text font-size="34" class="s" x="27.5" y="8">p</text></g>
<text x="1545.5" y="37" font-size="41" class="s" font-weight="bold">b)</text>
<g transform="translate(980.0,374.8) rotate(-90)"><text font-size="44.5" class="s" font-style="italic" transform="scale(0.92,1)" x="0" y="0">R</text><text font-size="30" class="s" x="28" y="-11.5">*</text><text font-size="34" class="s" x="27.5" y="8">p</text></g>
<g transform="translate(287.0,731.0) rotate(9.90)"><text font-size="44.5" class="s"><tspan font-style="italic" x="0" y="0">c</tspan><tspan font-size="29" x="18" y="10">3m</tspan><tspan x="61.0" y="0">(%)</tspan></text></g>
<g transform="translate(1259.0,733.5) rotate(9.90)"><text font-size="44.5" class="s"><tspan font-style="italic" x="0" y="0">c</tspan><tspan font-size="29" x="18" y="10">3m</tspan><tspan x="61.0" y="0">(%)</tspan></text></g>
<g transform="translate(673.9,692.0) rotate(-77.20)"><text font-size="44.5" class="s"><tspan font-style="italic" x="0" y="0">c</tspan><tspan font-size="29" x="18" y="10">4m</tspan><tspan x="60.0" y="0">(%)</tspan></text></g>
<g transform="translate(1619.9,692.0) rotate(-77.20)"><text font-size="44.5" class="s"><tspan font-style="italic" x="0" y="0">c</tspan><tspan font-size="29" x="18" y="10">4m</tspan><tspan x="60.0" y="0">(%)</tspan></text></g>
</svg>
</body></html>
